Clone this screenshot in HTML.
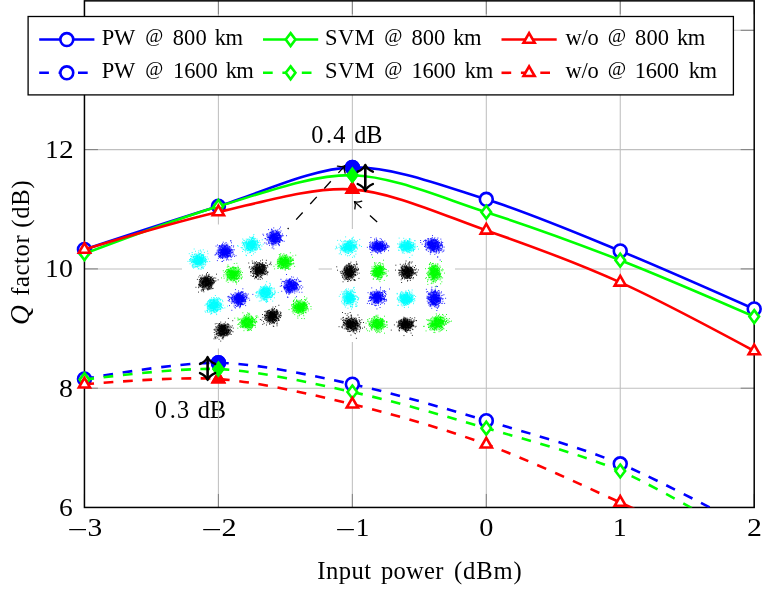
<!DOCTYPE html>
<html><head><meta charset="utf-8"><title>Q factor vs input power</title>
<style>
html,body{margin:0;padding:0;background:#fff;}
svg{display:block;will-change:transform;}
text{font-family:"Liberation Serif",serif;fill:#000;}
</style></head><body>
<svg width="772" height="611" viewBox="0 0 772 611">
<rect x="0" y="0" width="772" height="611" fill="#fff"/>
<defs>
<clipPath id="ax"><rect x="84.45" y="0.85" width="669.75" height="506.59999999999997"/></clipPath>
</defs>

<text x="311.20" y="142.70" font-size="24.3">0</text>
<text x="326.06" y="142.70" font-size="24.3">.</text>
<text x="333.33" y="142.70" font-size="24.3">4</text>
<text x="354.13" y="142.70" font-size="24.3" letter-spacing="-0.017">dB</text>
<text x="154.80" y="418.30" font-size="24.3">0</text>
<text x="169.66" y="418.30" font-size="24.3">.</text>
<text x="176.88" y="418.30" font-size="24.3">3</text>
<text x="197.73" y="418.30" font-size="24.3" letter-spacing="-0.017">dB</text>
<g stroke="#bfbfbf" stroke-width="1.05" fill="none">
<line x1="218.40" y1="0.85" x2="218.40" y2="507.45"/>
<line x1="352.35" y1="0.85" x2="352.35" y2="507.45"/>
<line x1="486.30" y1="0.85" x2="486.30" y2="507.45"/>
<line x1="620.25" y1="0.85" x2="620.25" y2="507.45"/>
<line x1="84.45" y1="388.20" x2="754.2" y2="388.20"/>
<line x1="84.45" y1="268.90" x2="754.2" y2="268.90"/>
<line x1="84.45" y1="149.60" x2="754.2" y2="149.60"/>
<line x1="84.45" y1="30.30" x2="754.2" y2="30.30"/>
</g>
<g stroke="#7f7f7f" stroke-width="1.0" fill="none">
<line x1="84.45" y1="507.45" x2="84.45" y2="493.95"/>
<line x1="84.45" y1="0.85" x2="84.45" y2="14.35"/>
<line x1="218.40" y1="507.45" x2="218.40" y2="493.95"/>
<line x1="218.40" y1="0.85" x2="218.40" y2="14.35"/>
<line x1="352.35" y1="507.45" x2="352.35" y2="493.95"/>
<line x1="352.35" y1="0.85" x2="352.35" y2="14.35"/>
<line x1="486.30" y1="507.45" x2="486.30" y2="493.95"/>
<line x1="486.30" y1="0.85" x2="486.30" y2="14.35"/>
<line x1="620.25" y1="507.45" x2="620.25" y2="493.95"/>
<line x1="620.25" y1="0.85" x2="620.25" y2="14.35"/>
<line x1="754.20" y1="507.45" x2="754.20" y2="493.95"/>
<line x1="754.20" y1="0.85" x2="754.20" y2="14.35"/>
<line x1="84.45" y1="507.50" x2="97.95" y2="507.50"/>
<line x1="754.2" y1="507.50" x2="740.7" y2="507.50"/>
<line x1="84.45" y1="388.20" x2="97.95" y2="388.20"/>
<line x1="754.2" y1="388.20" x2="740.7" y2="388.20"/>
<line x1="84.45" y1="268.90" x2="97.95" y2="268.90"/>
<line x1="754.2" y1="268.90" x2="740.7" y2="268.90"/>
<line x1="84.45" y1="149.60" x2="97.95" y2="149.60"/>
<line x1="754.2" y1="149.60" x2="740.7" y2="149.60"/>
<line x1="84.45" y1="30.30" x2="97.95" y2="30.30"/>
<line x1="754.2" y1="30.30" x2="740.7" y2="30.30"/>
</g>
<rect x="84.45" y="0.85" width="669.75" height="506.59999999999997" fill="none" stroke="#000" stroke-width="1.5"/>
<defs>
<radialGradient id="rgb"><stop offset="0" stop-color="#0000ff" stop-opacity=".8"/><stop offset=".45" stop-color="#0000ff" stop-opacity=".7"/><stop offset=".8" stop-color="#0000ff" stop-opacity=".25"/><stop offset="1" stop-color="#0000ff" stop-opacity="0"/></radialGradient>
<radialGradient id="rgg"><stop offset="0" stop-color="#00ff00" stop-opacity=".8"/><stop offset=".45" stop-color="#00ff00" stop-opacity=".7"/><stop offset=".8" stop-color="#00ff00" stop-opacity=".25"/><stop offset="1" stop-color="#00ff00" stop-opacity="0"/></radialGradient>
<radialGradient id="rgc"><stop offset="0" stop-color="#00ffff" stop-opacity=".8"/><stop offset=".45" stop-color="#00ffff" stop-opacity=".7"/><stop offset=".8" stop-color="#00ffff" stop-opacity=".25"/><stop offset="1" stop-color="#00ffff" stop-opacity="0"/></radialGradient>
<radialGradient id="rgk"><stop offset="0" stop-color="#000" stop-opacity=".8"/><stop offset=".45" stop-color="#000" stop-opacity=".7"/><stop offset=".8" stop-color="#000" stop-opacity=".25"/><stop offset="1" stop-color="#000" stop-opacity="0"/></radialGradient>
</defs>
<rect x="182" y="224.5" width="136.6" height="124" fill="#fff"/>
<ellipse cx="198.2" cy="260.3" rx="8.5" ry="8.0" fill="url(#rgc)" transform="rotate(-15 198.2 260.3)"/>
<path d="M197.7 262.3h.9M197.1 259.5h.9M194.5 260.5h.9M202.8 260.6h.9M202.3 260.1h.9M199.9 260.5h.9M192.7 264.9h.9M200.6 261.5h.9M190.2 256.1h.9M194.4 259.6h.9M199.3 259.8h.9M199.6 257.6h.9M199.7 261.3h.9M197.3 266.8h.9M201.4 263.8h.9M195.2 258.4h.9M196.8 260.3h.9M200.8 260.5h.9M195.6 257.5h.9M197.3 265.0h.9M195.4 261.9h.9M198.5 254.8h.9M199.6 264.7h.9M190.3 261.2h.9M197.1 257.6h.9M200.0 259.6h.9M193.4 264.6h.9M201.6 262.8h.9M204.0 260.1h.9M197.5 255.8h.9M200.0 257.6h.9M195.3 256.5h.9M194.1 259.5h.9M201.2 252.1h.9M192.9 262.6h.9M204.2 260.8h.9M188.8 253.7h.9M198.9 257.5h.9M194.9 264.7h.9M202.5 259.7h.9M199.5 261.5h.9M204.8 260.8h.9M200.6 261.6h.9M193.5 266.2h.9M202.3 261.1h.9M190.2 260.2h.9M199.7 253.3h.9M198.4 263.9h.9M194.7 267.1h.9M200.1 259.2h.9M200.0 262.2h.9M199.7 264.1h.9M195.3 259.6h.9M202.1 259.3h.9M195.7 264.4h.9M203.3 257.3h.9M192.9 261.2h.9M197.4 259.4h.9M202.6 255.4h.9M201.8 254.7h.9M195.8 263.2h.9M203.2 262.1h.9M199.6 260.4h.9M199.3 262.1h.9M197.8 261.4h.9M200.4 259.7h.9M201.6 261.4h.9M206.1 259.4h.9M196.3 259.5h.9M199.0 263.4h.9M197.3 261.9h.9M202.8 249.8h.9M194.2 262.3h.9M199.9 260.7h.9M197.2 263.0h.9M198.8 258.3h.9M207.7 259.0h.9M196.0 260.5h.9M197.3 260.3h.9M187.5 261.4h.9M200.9 255.3h.9M198.8 263.6h.9M202.8 264.5h.9M191.5 260.8h.9M197.5 262.8h.9M199.9 250.1h.9M201.0 254.3h.9M199.4 254.6h.9M199.9 264.2h.9M197.8 261.1h.9M201.3 260.0h.9M199.3 265.6h.9M201.9 258.2h.9M207.5 253.7h.9M201.4 258.5h.9M199.3 262.5h.9M199.6 262.2h.9M191.1 256.7h.9M199.6 256.4h.9M193.0 256.4h.9M203.6 261.5h.9M202.9 255.6h.9M197.2 256.4h.9M202.5 264.9h.9M196.3 266.5h.9M201.8 258.7h.9M192.0 267.0h.9M197.3 258.4h.9M200.1 261.3h.9M202.9 255.3h.9M203.8 264.2h.9M203.5 258.2h.9M196.3 264.5h.9M198.7 260.6h.9M203.3 258.0h.9M189.2 261.3h.9M192.0 264.9h.9M198.8 257.9h.9M198.9 263.1h.9M199.7 264.7h.9M198.9 263.9h.9M205.3 264.2h.9M196.5 264.0h.9M190.2 258.5h.9M191.8 265.9h.9M193.5 261.5h.9M197.5 260.4h.9M196.2 261.7h.9M205.0 258.6h.9M201.1 263.1h.9M196.3 256.2h.9M197.1 264.5h.9M191.5 259.9h.9M202.7 262.0h.9M199.0 263.0h.9M197.8 256.1h.9M191.7 259.7h.9M201.2 257.5h.9M194.1 258.6h.9M192.3 261.4h.9M194.1 262.7h.9M189.6 263.8h.9M194.0 254.4h.9M200.7 258.6h.9M189.0 259.6h.9M198.9 258.5h.9M201.8 262.0h.9M201.0 260.7h.9M203.8 261.2h.9M198.0 252.8h.9M202.8 263.8h.9M196.7 259.0h.9M203.9 252.4h.9M202.2 268.0h.9M195.3 263.6h.9M205.2 258.0h.9M201.1 262.8h.9M194.7 260.9h.9M200.1 262.8h.9M197.9 259.7h.9M194.0 260.1h.9M201.7 259.7h.9M194.2 258.3h.9M209.3 261.5h.9M198.3 250.9h.9M201.0 261.3h.9M204.9 260.0h.9M198.4 262.1h.9M191.8 265.8h.9M198.8 257.6h.9M204.8 265.1h.9M192.3 259.5h.9M199.5 260.6h.9M195.8 257.4h.9M207.1 261.7h.9M192.5 257.0h.9M205.5 261.9h.9M205.8 261.2h.9M195.2 262.1h.9M189.4 260.0h.9M198.5 262.1h.9M195.3 260.6h.9M200.3 261.1h.9M200.8 260.4h.9M197.7 263.3h.9M197.6 257.5h.9M195.8 260.9h.9M197.9 260.9h.9M198.4 260.9h.9M196.6 256.2h.9M200.7 263.4h.9M199.7 259.2h.9M199.0 256.6h.9M191.1 262.4h.9M195.4 263.7h.9M191.7 252.5h.9M195.7 266.7h.9M195.5 256.1h.9M195.8 262.8h.9M200.2 260.4h.9M204.4 261.2h.9M198.7 262.3h.9M205.3 261.9h.9M201.1 255.6h.9M198.3 262.9h.9M198.1 264.2h.9M201.3 262.8h.9M199.7 269.1h.9M202.7 258.3h.9M200.9 269.0h.9M197.7 263.6h.9M201.9 259.3h.9M194.0 262.1h.9M200.6 263.8h.9M201.2 259.6h.9M201.9 261.3h.9M199.0 260.3h.9M197.9 262.9h.9M193.7 259.2h.9M196.9 255.3h.9M194.7 253.9h.9M196.1 262.9h.9M200.3 259.5h.9M196.0 255.7h.9M205.6 260.2h.9M201.5 256.2h.9M195.9 254.3h.9M202.0 262.7h.9M191.0 262.0h.9M199.0 253.7h.9M190.4 258.5h.9M194.6 256.2h.9M198.5 261.1h.9M201.2 262.0h.9M204.9 262.7h.9M192.8 259.9h.9M193.2 257.7h.9M197.9 260.4h.9M198.6 254.4h.9M193.5 261.5h.9M197.2 259.4h.9M197.3 257.8h.9M201.2 260.8h.9M197.3 258.1h.9M195.1 251.3h.9M194.5 261.4h.9M192.7 262.5h.9M197.5 255.5h.9M197.0 259.5h.9M200.5 261.9h.9M197.3 257.5h.9M197.6 260.2h.9M201.2 260.6h.9M194.3 256.5h.9M196.1 258.2h.9M193.9 261.0h.9M196.4 261.2h.9M199.8 258.4h.9M206.7 256.9h.9M202.5 259.6h.9M200.3 251.1h.9M195.6 261.9h.9M202.6 267.6h.9M200.6 264.3h.9M201.9 262.7h.9M200.0 259.3h.9M199.1 256.1h.9M201.7 255.7h.9M201.1 267.2h.9M197.4 260.6h.9M202.6 259.2h.9M195.4 262.0h.9M201.0 262.1h.9M196.9 267.0h.9M204.5 258.7h.9M198.8 258.6h.9M202.9 256.5h.9M200.3 258.0h.9M196.2 263.4h.9M203.2 258.9h.9M196.4 263.7h.9M198.3 261.4h.9M205.0 262.6h.9M198.3 268.5h.9M198.9 263.0h.9M195.7 260.8h.9M193.2 268.1h.9M202.2 254.8h.9M191.1 256.3h.9M202.2 257.6h.9M197.7 259.3h.9M196.8 256.7h.9M197.0 255.4h.9M198.2 261.4h.9M199.8 259.0h.9M194.9 261.8h.9M197.8 266.1h.9M201.0 259.1h.9M195.8 258.4h.9M194.3 260.1h.9M199.8 261.7h.9M202.2 266.8h.9M195.6 261.1h.9M207.0 251.2h.9M196.4 261.4h.9M199.2 261.5h.9M197.6 261.8h.9M199.1 262.9h.9M190.3 259.2h.9M197.3 256.8h.9M194.8 263.5h.9M196.3 263.1h.9M201.3 260.6h.9M200.0 259.4h.9M192.9 261.6h.9M199.4 258.1h.9M198.5 262.9h.9M195.5 263.4h.9M204.7 256.5h.9M198.6 259.6h.9M204.3 259.8h.9M201.0 257.1h.9M198.1 260.3h.9M192.8 267.0h.9M200.0 253.5h.9M200.9 259.1h.9M200.2 261.1h.9M192.4 261.1h.9M203.3 256.8h.9M193.1 256.7h.9M193.9 262.7h.9M205.0 260.0h.9M201.1 267.6h.9M195.6 258.5h.9M200.7 261.6h.9M193.3 257.4h.9M199.5 260.8h.9M193.1 260.9h.9M196.6 262.4h.9M197.7 260.1h.9M197.8 264.2h.9M203.1 257.7h.9M200.7 256.9h.9M199.2 262.8h.9M203.6 257.5h.9M198.1 261.0h.9M192.6 261.9h.9M196.0 262.2h.9M192.2 254.8h.9M198.6 261.1h.9M196.9 263.9h.9M196.6 258.5h.9M198.6 254.5h.9M195.6 260.9h.9M201.3 258.9h.9M198.8 257.8h.9M200.8 265.6h.9M197.8 269.0h.9M195.8 261.0h.9M199.8 263.6h.9M191.6 254.4h.9M201.2 262.4h.9M202.9 268.6h.9M199.2 261.0h.9M202.0 260.6h.9M203.3 254.4h.9M193.7 249.0h.9M200.9 258.2h.9M203.6 266.6h.9M197.9 259.4h.9M195.6 258.0h.9M196.4 263.1h.9M198.4 260.5h.9M198.4 263.6h.9M199.9 259.3h.9M200.6 259.1h.9M195.2 266.4h.9M199.1 256.6h.9M202.6 260.4h.9M193.8 267.3h.9" stroke="#00ffff" stroke-width=".9" fill="none"/>
<ellipse cx="224.5" cy="251.7" rx="8.5" ry="8.0" fill="url(#rgb)" transform="rotate(-15 224.5 251.7)"/>
<path d="M226.6 254.4h.9M225.1 251.0h.9M219.5 256.5h.9M224.4 250.7h.9M225.9 251.6h.9M226.7 249.8h.9M222.4 244.5h.9M223.5 254.4h.9M229.2 249.1h.9M225.5 257.2h.9M223.9 254.5h.9M230.9 250.1h.9M228.5 248.1h.9M225.2 251.2h.9M226.0 255.4h.9M232.9 247.0h.9M222.8 254.0h.9M221.0 254.4h.9M226.4 250.2h.9M225.1 245.9h.9M226.0 245.7h.9M221.4 250.5h.9M223.8 255.0h.9M224.4 250.3h.9M228.0 256.5h.9M224.9 252.9h.9M229.4 251.4h.9M221.9 261.4h.9M231.0 242.8h.9M224.7 253.2h.9M228.7 253.0h.9M222.5 248.4h.9M225.8 255.1h.9M219.5 249.3h.9M222.7 245.2h.9M223.1 250.5h.9M225.6 248.9h.9M220.8 251.3h.9M223.7 249.5h.9M225.2 254.2h.9M230.5 256.3h.9M221.2 251.1h.9M216.9 260.6h.9M221.7 252.3h.9M225.2 246.6h.9M226.2 251.1h.9M217.9 254.5h.9M227.3 244.2h.9M227.7 251.6h.9M226.7 252.7h.9M229.2 249.6h.9M227.4 249.4h.9M226.5 248.2h.9M225.7 257.7h.9M226.0 250.7h.9M219.5 250.2h.9M226.1 254.7h.9M226.6 253.0h.9M225.6 256.3h.9M222.5 250.2h.9M227.9 251.0h.9M222.9 250.0h.9M224.1 254.1h.9M224.7 247.3h.9M226.3 251.9h.9M221.4 255.3h.9M223.1 250.8h.9M228.7 255.4h.9M222.3 253.9h.9M223.3 260.4h.9M223.7 256.2h.9M222.8 255.1h.9M230.6 240.9h.9M223.3 253.8h.9M223.5 249.5h.9M232.7 249.8h.9M219.1 256.2h.9M219.1 257.3h.9M222.5 252.8h.9M229.4 250.8h.9M217.7 247.4h.9M229.6 253.0h.9M222.2 255.4h.9M227.0 253.4h.9M215.7 253.0h.9M228.6 253.3h.9M225.6 242.5h.9M225.6 253.2h.9M233.2 245.9h.9M223.3 252.2h.9M227.4 249.3h.9M228.1 247.9h.9M225.0 249.6h.9M224.5 249.2h.9M219.5 257.0h.9M225.1 249.5h.9M226.2 254.8h.9M220.7 252.3h.9M227.0 252.9h.9M221.3 244.9h.9M229.5 251.6h.9M224.3 250.7h.9M225.1 250.0h.9M220.0 250.2h.9M221.7 250.2h.9M220.7 255.0h.9M220.2 255.3h.9M221.0 253.9h.9M229.9 251.0h.9M221.8 252.6h.9M223.5 245.7h.9M222.4 252.9h.9M222.8 252.4h.9M228.0 253.6h.9M228.4 252.8h.9M223.4 251.9h.9M223.2 250.9h.9M222.3 246.1h.9M223.2 252.0h.9M220.8 252.6h.9M226.3 250.6h.9M230.0 240.8h.9M222.1 245.7h.9M230.6 259.7h.9M215.2 254.7h.9M226.2 250.2h.9M224.5 243.6h.9M228.0 252.1h.9M224.1 249.7h.9M226.5 249.4h.9M224.9 249.8h.9M216.0 253.9h.9M225.9 254.0h.9M221.2 252.5h.9M227.0 251.6h.9M231.0 257.2h.9M219.3 246.1h.9M229.1 256.0h.9M228.7 253.5h.9M221.5 249.9h.9M227.0 247.7h.9M216.8 250.2h.9M235.6 255.7h.9M221.3 249.9h.9M224.7 248.9h.9M229.4 250.1h.9M221.6 257.2h.9M222.5 253.0h.9M224.2 250.6h.9M225.1 249.0h.9M215.6 246.1h.9M219.0 250.4h.9M224.5 251.9h.9M226.7 251.5h.9M220.9 250.1h.9M216.4 253.3h.9M226.8 253.0h.9M223.9 251.2h.9M228.0 250.8h.9M227.8 252.9h.9M226.5 255.9h.9M222.0 251.1h.9M220.7 249.8h.9M232.0 256.1h.9M225.1 253.6h.9M229.7 253.2h.9M227.9 246.2h.9M222.5 253.9h.9M230.0 250.6h.9M220.9 251.4h.9M221.2 249.5h.9M229.6 248.1h.9M226.5 259.0h.9M229.3 251.6h.9M222.6 253.7h.9M231.2 252.2h.9M229.3 250.8h.9M226.3 250.5h.9M227.3 255.7h.9M219.1 252.9h.9M224.9 249.5h.9M224.1 254.7h.9M232.6 251.8h.9M224.3 246.1h.9M231.8 250.0h.9M223.4 248.0h.9M223.3 248.1h.9M225.2 253.2h.9M224.9 252.6h.9M222.6 257.4h.9M220.4 246.2h.9M223.1 249.3h.9M220.4 251.5h.9M224.5 247.4h.9M225.3 256.7h.9M226.9 250.5h.9M224.9 251.2h.9M225.0 254.2h.9M222.0 243.7h.9M223.6 248.7h.9M226.4 249.0h.9M227.0 258.9h.9M219.5 249.0h.9M217.0 245.0h.9M217.8 254.8h.9M220.4 246.0h.9M219.5 255.3h.9M221.2 251.2h.9M227.0 256.0h.9M232.7 253.2h.9M225.2 252.2h.9M232.6 254.7h.9M223.7 253.6h.9M225.6 251.6h.9M221.4 247.7h.9M221.1 247.0h.9M229.6 252.3h.9M221.2 257.6h.9M226.1 244.3h.9M232.2 252.6h.9M231.2 245.5h.9M226.9 252.6h.9M225.4 252.1h.9M227.1 245.6h.9M218.6 248.2h.9M221.9 250.2h.9M226.1 252.2h.9M224.0 249.4h.9M223.7 255.4h.9M227.5 251.3h.9M224.7 257.3h.9M222.8 254.5h.9M228.6 249.6h.9M226.6 247.1h.9M228.5 251.4h.9M219.1 255.6h.9M222.3 256.9h.9M221.8 251.8h.9M225.3 250.3h.9M225.0 249.6h.9M227.0 251.0h.9M222.8 242.2h.9M228.9 250.6h.9M217.9 253.8h.9M227.2 254.8h.9M221.8 258.0h.9M226.1 260.0h.9M224.6 254.1h.9M222.1 248.3h.9M229.5 253.7h.9M231.1 253.0h.9M220.8 246.7h.9M221.4 250.1h.9M222.0 254.5h.9M225.5 250.5h.9M225.0 251.0h.9M226.0 254.0h.9M227.5 248.4h.9M220.1 258.0h.9M225.9 255.3h.9M218.0 252.2h.9M223.3 246.8h.9M223.2 254.7h.9M230.0 256.0h.9M220.0 247.8h.9M227.3 254.4h.9M224.0 247.1h.9M228.2 253.6h.9M226.1 249.5h.9M226.4 254.1h.9M220.7 246.0h.9M226.2 253.0h.9M225.4 254.7h.9M222.2 252.0h.9M223.9 253.9h.9M230.3 249.2h.9M233.6 254.8h.9M228.0 252.9h.9M231.0 249.3h.9M223.1 248.2h.9M227.5 255.8h.9M226.9 252.6h.9M223.9 252.5h.9M220.1 256.7h.9M222.0 248.4h.9M220.9 249.7h.9M228.7 254.4h.9M220.2 256.2h.9M227.3 248.8h.9M218.2 250.7h.9M222.4 253.5h.9M221.3 245.2h.9M224.0 246.3h.9M226.8 246.7h.9M221.1 249.5h.9M223.6 256.6h.9M228.3 252.9h.9M224.3 246.1h.9M222.0 250.4h.9M221.3 254.4h.9M221.1 250.0h.9M218.7 245.8h.9M227.9 255.6h.9M224.3 248.2h.9M214.5 255.0h.9M229.4 251.5h.9M229.3 255.8h.9M228.3 249.1h.9M229.2 253.3h.9M218.3 251.9h.9M219.0 252.8h.9M225.7 247.5h.9M217.9 258.2h.9M227.3 256.3h.9M220.5 256.6h.9M234.1 256.4h.9M224.0 252.8h.9M224.8 255.2h.9M228.5 250.9h.9M220.1 255.6h.9M223.3 254.3h.9M227.0 256.9h.9M228.4 249.0h.9M227.4 257.3h.9M222.9 253.7h.9M230.1 254.7h.9M225.3 246.7h.9M220.0 253.8h.9M228.3 259.9h.9M222.3 256.4h.9M225.9 245.3h.9M221.6 253.1h.9M222.5 251.7h.9M225.5 248.5h.9M225.7 249.1h.9M222.9 254.1h.9M222.6 253.2h.9M230.5 250.2h.9M224.6 254.3h.9M224.1 255.7h.9M220.2 255.1h.9M221.8 249.5h.9M230.4 247.0h.9M231.7 252.2h.9M229.1 246.9h.9M230.3 255.4h.9M223.9 251.4h.9M233.9 249.8h.9M222.3 250.0h.9M226.5 252.4h.9M226.7 257.3h.9M223.7 253.6h.9M229.1 246.8h.9M230.1 256.8h.9M218.4 249.4h.9M218.9 246.5h.9M224.5 245.0h.9M227.7 256.1h.9M218.1 252.3h.9M218.0 256.3h.9M221.5 251.5h.9M225.2 253.5h.9M223.2 252.1h.9M222.5 252.6h.9M220.1 253.1h.9M216.8 252.0h.9M231.8 250.0h.9M220.0 253.8h.9M219.3 247.1h.9M222.4 254.9h.9M225.9 251.0h.9M220.0 249.0h.9M229.8 251.2h.9M219.0 245.5h.9M221.6 261.5h.9M220.1 252.6h.9M225.1 251.0h.9M222.2 247.3h.9M222.1 258.5h.9M222.4 255.3h.9" stroke="#0000ff" stroke-width=".9" fill="none"/>
<ellipse cx="251.0" cy="245.1" rx="8.5" ry="8.0" fill="url(#rgc)" transform="rotate(-15 251.0 245.1)"/>
<path d="M244.4 245.9h.9M252.9 248.3h.9M247.3 248.2h.9M251.8 242.2h.9M252.0 241.6h.9M248.0 245.8h.9M240.7 247.5h.9M245.9 241.2h.9M250.1 248.1h.9M250.6 249.8h.9M245.4 241.8h.9M257.2 244.9h.9M253.8 241.4h.9M254.3 245.2h.9M253.5 244.5h.9M255.0 241.7h.9M246.0 241.1h.9M254.7 241.4h.9M246.2 243.0h.9M248.2 241.3h.9M249.3 243.3h.9M248.1 242.4h.9M250.7 243.5h.9M251.7 245.8h.9M250.3 237.4h.9M248.3 242.9h.9M252.5 239.0h.9M248.0 244.8h.9M250.6 248.8h.9M250.2 248.8h.9M243.8 240.5h.9M256.0 245.3h.9M252.9 245.0h.9M251.7 240.5h.9M254.1 242.3h.9M254.8 244.4h.9M242.4 242.7h.9M255.1 243.5h.9M249.7 246.3h.9M248.9 243.7h.9M251.5 245.5h.9M256.8 243.7h.9M259.7 249.3h.9M258.4 247.0h.9M251.6 245.4h.9M249.8 242.8h.9M250.2 243.0h.9M257.7 245.3h.9M247.6 239.1h.9M250.4 243.7h.9M245.9 242.4h.9M243.0 249.3h.9M253.1 253.9h.9M250.7 244.6h.9M256.6 244.1h.9M251.3 243.7h.9M250.1 250.8h.9M256.3 249.9h.9M249.7 245.6h.9M248.6 249.3h.9M246.3 248.4h.9M256.4 248.8h.9M248.4 249.7h.9M247.6 243.3h.9M247.1 250.3h.9M256.7 241.4h.9M247.8 244.7h.9M261.4 246.0h.9M247.3 239.6h.9M249.5 249.8h.9M257.8 242.3h.9M247.9 244.1h.9M244.7 250.1h.9M247.9 249.8h.9M243.4 242.5h.9M251.4 242.2h.9M254.0 244.3h.9M247.1 248.4h.9M252.4 237.8h.9M258.3 244.9h.9M252.2 238.0h.9M248.0 244.6h.9M253.7 239.1h.9M245.8 239.1h.9M250.4 246.5h.9M244.1 244.8h.9M254.4 249.9h.9M253.2 243.4h.9M245.7 243.1h.9M248.6 246.3h.9M252.3 250.8h.9M251.1 241.2h.9M257.7 246.7h.9M250.7 242.6h.9M243.0 243.5h.9M253.7 241.5h.9M246.2 247.1h.9M252.5 246.9h.9M254.7 249.2h.9M248.7 249.3h.9M247.9 248.4h.9M251.9 245.7h.9M254.6 244.1h.9M256.0 246.9h.9M251.0 243.0h.9M247.7 244.1h.9M250.2 245.2h.9M262.8 244.2h.9M253.1 241.4h.9M248.0 244.7h.9M250.8 241.4h.9M256.6 241.6h.9M252.9 236.1h.9M251.2 246.0h.9M252.3 246.9h.9M252.2 245.4h.9M243.2 244.6h.9M242.7 249.6h.9M252.0 244.1h.9M247.4 244.0h.9M259.5 249.1h.9M251.9 249.5h.9M243.3 240.2h.9M248.4 242.6h.9M249.1 246.3h.9M261.8 239.8h.9M251.4 246.0h.9M251.7 248.3h.9M256.6 239.1h.9M251.4 244.0h.9M251.0 239.6h.9M242.3 239.0h.9M253.2 245.2h.9M249.1 237.0h.9M248.9 242.9h.9M244.8 243.4h.9M254.1 246.2h.9M251.4 246.9h.9M248.8 245.9h.9M251.7 246.9h.9M250.6 244.7h.9M249.9 243.1h.9M259.9 244.6h.9M254.7 252.4h.9M254.9 238.4h.9M254.4 247.2h.9M259.3 247.6h.9M252.8 240.3h.9M248.0 246.9h.9M252.0 241.1h.9M249.2 244.1h.9M251.5 246.2h.9M248.8 241.2h.9M257.1 249.2h.9M251.5 248.7h.9M253.3 246.9h.9M252.1 242.0h.9M254.1 247.9h.9M249.4 252.7h.9M260.5 249.2h.9M259.2 245.6h.9M249.2 243.4h.9M248.0 246.3h.9M251.5 247.4h.9M245.5 255.0h.9M259.6 242.7h.9M254.0 246.0h.9M251.8 244.1h.9M249.8 242.4h.9M251.6 244.8h.9M251.4 241.9h.9M251.2 245.2h.9M252.3 240.9h.9M253.5 248.0h.9M252.9 243.3h.9M248.9 244.8h.9M255.2 249.6h.9M249.8 243.1h.9M252.6 245.4h.9M246.9 243.5h.9M251.2 247.5h.9M245.6 242.9h.9M251.8 240.5h.9M251.7 246.2h.9M249.7 241.8h.9M250.5 244.0h.9M251.5 241.9h.9M253.6 238.3h.9M250.3 245.3h.9M254.1 242.1h.9M252.5 242.6h.9M255.4 250.2h.9M249.9 247.0h.9M248.4 249.3h.9M255.6 244.0h.9M247.1 247.6h.9M256.3 247.6h.9M252.4 238.1h.9M249.7 250.6h.9M247.4 250.2h.9M258.8 245.8h.9M254.9 242.8h.9M246.3 246.0h.9M250.2 245.1h.9M253.5 243.9h.9M252.1 246.3h.9M252.6 251.3h.9M252.7 244.9h.9M249.7 243.2h.9M256.2 244.3h.9M246.4 244.3h.9M250.1 243.7h.9M254.0 240.1h.9M253.0 245.1h.9M246.6 246.4h.9M251.1 246.9h.9M249.6 246.6h.9M243.7 243.1h.9M254.9 247.8h.9M250.4 243.1h.9M253.2 236.9h.9M248.6 248.2h.9M252.5 241.0h.9M245.2 251.9h.9M250.8 241.9h.9M252.0 248.1h.9M242.2 251.5h.9M251.9 237.3h.9M252.3 238.3h.9M255.7 245.3h.9M258.9 240.8h.9M252.0 248.6h.9M248.0 243.4h.9M249.5 245.2h.9M247.4 247.8h.9M253.1 244.8h.9M257.1 242.3h.9M255.4 241.9h.9M252.1 237.8h.9M251.6 244.3h.9M248.6 243.5h.9M249.0 243.0h.9M242.2 245.3h.9M248.5 243.9h.9M246.9 245.7h.9M253.7 243.5h.9M250.4 250.2h.9M255.5 247.2h.9M255.1 242.8h.9M251.5 249.0h.9M248.8 245.3h.9M252.8 246.0h.9M250.8 248.7h.9M251.0 247.7h.9M255.6 246.2h.9M252.7 240.4h.9M245.5 244.3h.9M254.1 249.7h.9M246.7 247.4h.9M247.1 243.5h.9M250.6 247.7h.9M252.9 248.9h.9M248.1 249.1h.9M254.6 244.4h.9M252.3 242.7h.9M246.5 244.8h.9M251.2 255.5h.9M250.7 251.2h.9M252.0 246.0h.9M253.1 241.7h.9M254.8 245.4h.9M245.8 248.7h.9M253.5 246.1h.9M256.6 242.1h.9M253.6 247.1h.9M248.7 250.1h.9M244.4 242.2h.9M252.0 240.9h.9M249.1 239.7h.9M250.2 241.2h.9M250.9 239.6h.9M252.4 243.7h.9M251.2 244.8h.9M250.3 240.5h.9M241.4 247.8h.9M247.1 244.5h.9M250.8 238.0h.9M247.6 243.8h.9M247.3 247.3h.9M249.7 242.5h.9M248.0 248.8h.9M249.0 247.7h.9M251.0 238.2h.9M246.9 246.2h.9M253.0 247.4h.9M255.0 247.8h.9M249.4 244.8h.9M253.5 242.9h.9M253.5 238.7h.9M253.3 243.9h.9M244.5 250.4h.9M252.2 244.9h.9M246.5 244.6h.9M255.9 240.8h.9M237.1 245.7h.9M246.4 245.9h.9M248.7 242.4h.9M248.8 249.5h.9M247.3 253.2h.9M248.0 242.0h.9M254.5 246.2h.9M247.7 248.7h.9M243.2 243.8h.9M255.0 243.1h.9M246.6 248.2h.9M254.4 244.1h.9M243.9 245.8h.9M253.3 247.3h.9M257.8 242.4h.9M249.1 245.5h.9M254.7 240.7h.9M253.4 234.5h.9M253.4 242.0h.9M253.4 247.0h.9M246.5 246.0h.9M252.4 246.8h.9M246.6 242.7h.9M246.1 255.6h.9M250.1 244.5h.9M246.2 249.8h.9M250.3 250.5h.9M254.2 244.3h.9M252.7 240.6h.9M249.3 243.5h.9M246.2 246.4h.9M251.8 250.1h.9M237.8 246.2h.9M247.1 244.5h.9M253.0 246.0h.9M250.7 243.5h.9M253.2 245.8h.9M243.8 246.1h.9M244.8 242.5h.9M251.6 245.2h.9M250.6 242.0h.9M249.4 242.2h.9M253.1 247.0h.9M258.8 247.6h.9M247.6 244.4h.9M247.7 247.1h.9M259.1 245.5h.9M241.6 243.1h.9M246.6 248.1h.9M251.3 246.1h.9M257.0 240.5h.9M249.6 252.6h.9M251.6 242.1h.9M242.0 242.0h.9M241.9 247.8h.9M252.1 248.4h.9M249.8 242.9h.9M249.9 252.3h.9M244.5 247.5h.9M251.7 247.2h.9M249.9 247.2h.9M253.9 243.8h.9M249.1 244.9h.9M247.2 245.4h.9M250.1 246.1h.9M257.2 248.2h.9M249.9 247.6h.9M252.8 247.4h.9M251.3 246.0h.9M248.5 242.9h.9M255.5 248.6h.9M253.9 245.9h.9M251.6 243.3h.9M244.9 249.1h.9M251.2 243.0h.9M248.5 250.4h.9" stroke="#00ffff" stroke-width=".9" fill="none"/>
<ellipse cx="274.3" cy="237.5" rx="8.5" ry="8.0" fill="url(#rgb)" transform="rotate(-15 274.3 237.5)"/>
<path d="M269.1 245.3h.9M278.9 244.9h.9M271.6 238.2h.9M272.5 238.5h.9M272.8 235.2h.9M277.6 233.8h.9M272.9 239.9h.9M271.9 236.6h.9M275.3 235.9h.9M269.5 238.4h.9M275.0 243.5h.9M271.0 241.9h.9M271.0 237.1h.9M273.3 238.7h.9M279.1 242.5h.9M273.1 242.6h.9M278.8 239.2h.9M272.3 241.3h.9M274.2 238.8h.9M273.9 240.0h.9M279.5 240.2h.9M274.4 241.1h.9M278.9 232.9h.9M278.6 231.5h.9M276.9 239.0h.9M280.1 236.9h.9M271.8 235.3h.9M270.3 241.4h.9M272.8 235.3h.9M275.6 234.4h.9M272.2 236.4h.9M281.9 240.8h.9M272.3 232.3h.9M275.4 237.5h.9M276.1 239.1h.9M273.9 241.0h.9M277.6 237.4h.9M272.3 236.3h.9M275.9 233.1h.9M273.0 235.1h.9M269.6 240.9h.9M274.2 237.6h.9M276.2 231.6h.9M274.3 238.5h.9M276.5 233.0h.9M277.2 237.5h.9M280.4 240.0h.9M278.3 244.2h.9M273.9 236.1h.9M272.2 234.7h.9M272.5 231.2h.9M274.4 239.0h.9M277.7 235.3h.9M278.9 233.9h.9M272.1 231.3h.9M270.7 235.6h.9M280.3 237.8h.9M270.7 240.4h.9M275.9 236.3h.9M274.1 236.5h.9M270.7 232.2h.9M275.1 241.8h.9M279.3 235.2h.9M271.4 237.5h.9M277.9 237.8h.9M272.5 239.3h.9M274.0 239.4h.9M271.5 233.0h.9M275.2 240.0h.9M270.1 238.2h.9M277.2 235.4h.9M273.7 244.8h.9M278.3 240.1h.9M272.3 243.8h.9M267.8 237.4h.9M278.2 241.2h.9M270.3 236.2h.9M273.3 231.0h.9M277.1 238.7h.9M273.1 239.7h.9M277.4 237.8h.9M277.5 242.0h.9M272.7 238.5h.9M273.3 241.4h.9M273.2 239.5h.9M274.9 237.6h.9M280.5 235.5h.9M280.2 238.8h.9M279.0 235.7h.9M278.3 239.1h.9M272.3 239.0h.9M273.8 237.5h.9M278.4 233.9h.9M266.7 233.5h.9M272.1 235.8h.9M274.8 239.3h.9M281.0 236.8h.9M275.3 234.7h.9M277.6 241.4h.9M277.5 229.8h.9M278.9 241.8h.9M276.0 231.8h.9M273.7 239.7h.9M275.1 234.5h.9M271.9 241.5h.9M270.7 243.5h.9M274.6 238.5h.9M268.9 236.9h.9M275.5 232.0h.9M280.6 230.9h.9M269.9 238.8h.9M276.7 239.4h.9M272.8 237.2h.9M272.9 235.9h.9M265.8 243.1h.9M275.3 237.8h.9M272.2 238.9h.9M274.2 237.3h.9M276.8 230.8h.9M274.3 233.8h.9M274.5 242.7h.9M270.3 238.2h.9M273.0 241.2h.9M269.3 233.0h.9M275.9 235.9h.9M274.1 241.3h.9M270.8 237.1h.9M275.2 238.7h.9M273.3 241.4h.9M282.1 234.0h.9M279.2 228.8h.9M279.1 235.0h.9M274.5 236.3h.9M270.9 234.0h.9M274.0 242.1h.9M278.1 235.3h.9M271.8 235.7h.9M271.5 244.5h.9M276.8 237.2h.9M271.6 234.7h.9M279.7 238.8h.9M271.7 241.6h.9M270.9 240.7h.9M270.5 237.1h.9M276.5 238.4h.9M277.2 233.8h.9M281.2 240.3h.9M274.7 239.0h.9M271.4 237.8h.9M269.6 239.1h.9M276.2 241.7h.9M278.4 239.2h.9M272.8 237.1h.9M273.3 238.6h.9M268.0 241.9h.9M268.2 237.3h.9M273.9 235.8h.9M280.2 235.6h.9M281.0 239.8h.9M272.9 239.3h.9M278.7 235.2h.9M274.1 235.6h.9M274.2 236.3h.9M275.5 240.7h.9M279.5 236.6h.9M275.8 240.1h.9M272.3 234.3h.9M277.5 233.4h.9M276.8 233.5h.9M280.0 232.3h.9M278.7 241.5h.9M272.1 243.3h.9M269.8 232.6h.9M277.5 239.1h.9M271.4 229.5h.9M273.8 236.6h.9M272.7 236.9h.9M267.3 237.4h.9M282.2 240.8h.9M272.4 235.5h.9M276.7 240.6h.9M275.9 233.0h.9M275.0 237.8h.9M280.5 240.0h.9M277.3 240.9h.9M274.2 242.9h.9M273.1 239.2h.9M276.8 233.6h.9M270.2 232.5h.9M274.8 237.2h.9M273.6 239.4h.9M266.6 239.5h.9M274.4 236.6h.9M278.7 242.4h.9M271.9 234.9h.9M272.2 238.4h.9M275.7 234.1h.9M277.0 233.2h.9M277.7 238.1h.9M277.9 244.1h.9M273.2 237.2h.9M276.8 239.8h.9M269.7 239.7h.9M272.2 240.3h.9M279.3 236.3h.9M274.1 238.2h.9M264.3 242.9h.9M276.5 237.5h.9M272.2 235.5h.9M274.7 241.6h.9M275.1 242.0h.9M264.6 238.5h.9M275.3 237.2h.9M267.7 237.0h.9M277.7 232.1h.9M269.8 234.9h.9M272.9 240.1h.9M274.7 230.3h.9M279.1 234.2h.9M273.6 243.5h.9M272.9 233.6h.9M271.4 235.8h.9M270.4 237.4h.9M277.8 237.8h.9M271.7 247.9h.9M270.8 238.8h.9M275.1 239.9h.9M273.5 239.3h.9M282.0 235.8h.9M270.7 239.6h.9M271.1 237.1h.9M275.3 238.4h.9M274.0 240.5h.9M272.5 233.5h.9M277.2 235.5h.9M278.1 234.2h.9M276.6 238.0h.9M263.2 235.3h.9M271.5 243.2h.9M268.3 242.3h.9M278.7 238.0h.9M276.3 235.2h.9M274.5 238.2h.9M276.4 239.4h.9M272.9 235.4h.9M272.6 239.4h.9M267.2 235.0h.9M272.3 236.1h.9M271.0 229.1h.9M272.8 237.0h.9M275.4 230.3h.9M273.6 239.3h.9M277.1 240.9h.9M277.2 233.1h.9M276.3 235.8h.9M272.7 243.3h.9M271.3 235.3h.9M272.1 235.1h.9M278.3 237.8h.9M279.7 237.5h.9M273.0 241.5h.9M271.5 236.6h.9M273.7 237.8h.9M278.1 234.4h.9M275.6 237.1h.9M268.8 235.2h.9M273.9 239.0h.9M275.9 238.7h.9M274.1 236.0h.9M275.0 233.8h.9M269.1 237.7h.9M268.7 237.2h.9M271.1 236.4h.9M273.4 234.9h.9M271.3 232.3h.9M274.1 234.5h.9M273.3 227.9h.9M271.6 239.1h.9M265.1 238.7h.9M274.7 237.7h.9M269.1 239.7h.9M274.0 234.2h.9M277.0 236.6h.9M274.0 236.0h.9M276.4 237.3h.9M278.8 237.9h.9M271.9 237.4h.9M277.3 235.4h.9M276.1 238.8h.9M271.6 230.1h.9M275.0 238.1h.9M274.1 234.9h.9M278.6 235.9h.9M271.4 235.8h.9M274.7 233.6h.9M272.4 245.0h.9M280.0 239.7h.9M279.8 238.1h.9M269.2 243.1h.9M279.2 237.9h.9M268.3 243.5h.9M278.8 234.6h.9M275.4 239.9h.9M275.0 241.2h.9M275.2 239.7h.9M273.3 232.6h.9M273.4 248.8h.9M276.5 241.5h.9M280.0 242.0h.9M275.8 235.0h.9M272.7 231.2h.9M274.4 240.7h.9M266.6 240.3h.9M278.5 241.0h.9M270.3 236.3h.9M266.5 236.0h.9M278.1 243.8h.9M271.3 243.1h.9M275.4 235.5h.9M280.1 227.1h.9M274.2 238.3h.9M283.7 241.3h.9M282.7 235.7h.9M279.1 241.0h.9M276.5 238.2h.9M273.3 236.3h.9M271.5 245.1h.9M270.8 231.1h.9M275.2 237.1h.9M276.5 243.3h.9M273.7 236.7h.9M271.5 238.2h.9M272.9 238.6h.9M286.1 235.7h.9M272.9 244.7h.9M278.2 239.3h.9M277.6 239.5h.9M278.0 241.5h.9M279.2 240.9h.9M272.5 238.0h.9M272.5 241.4h.9M276.9 235.2h.9M278.8 245.6h.9M277.9 232.6h.9M274.5 239.7h.9M274.5 238.8h.9M278.9 237.4h.9M270.9 240.9h.9M274.0 238.0h.9M271.0 233.5h.9M269.4 237.6h.9M268.0 229.6h.9M277.5 232.5h.9M272.1 240.0h.9M266.6 244.3h.9M272.1 240.4h.9M272.8 239.0h.9M274.7 237.4h.9M266.3 234.5h.9M275.4 242.2h.9M272.8 239.8h.9M275.3 238.9h.9M276.6 231.6h.9M275.2 236.6h.9M272.4 235.0h.9M270.5 234.9h.9M272.5 246.8h.9M280.5 235.9h.9M276.2 233.6h.9M262.5 234.2h.9M276.1 242.1h.9M273.3 234.2h.9M272.5 234.5h.9M269.0 238.1h.9M272.1 235.2h.9M270.2 235.3h.9M276.4 241.9h.9M275.5 245.1h.9M268.6 240.0h.9M269.9 238.1h.9" stroke="#0000ff" stroke-width=".9" fill="none"/>
<ellipse cx="206.3" cy="282.4" rx="8.5" ry="8.0" fill="url(#rgk)" transform="rotate(-15 206.3 282.4)"/>
<path d="M207.2 284.1h.9M210.0 279.5h.9M201.6 283.0h.9M206.8 279.8h.9M211.1 287.1h.9M201.4 285.0h.9M208.3 275.1h.9M206.9 281.5h.9M202.2 288.1h.9M206.7 280.6h.9M208.5 284.1h.9M209.6 283.6h.9M206.8 278.1h.9M204.9 283.2h.9M198.0 292.1h.9M204.0 279.3h.9M199.8 285.0h.9M205.9 280.4h.9M204.0 279.9h.9M203.5 282.8h.9M204.5 285.3h.9M205.9 283.0h.9M208.9 286.2h.9M208.7 282.6h.9M205.0 279.9h.9M205.6 285.0h.9M206.8 280.9h.9M200.1 278.7h.9M208.4 285.5h.9M206.5 277.5h.9M205.7 283.3h.9M203.2 284.4h.9M204.8 279.8h.9M202.5 286.3h.9M206.8 279.1h.9M203.4 286.3h.9M208.2 280.8h.9M211.9 279.9h.9M203.4 287.0h.9M205.9 283.7h.9M205.6 279.1h.9M201.8 282.9h.9M210.6 277.7h.9M211.5 281.8h.9M202.5 284.4h.9M207.6 278.9h.9M198.8 285.7h.9M202.6 284.9h.9M199.2 283.8h.9M202.0 278.3h.9M205.6 283.2h.9M203.2 279.1h.9M205.5 276.4h.9M208.7 283.5h.9M213.2 283.7h.9M207.8 282.9h.9M205.2 278.0h.9M212.1 282.7h.9M204.2 278.9h.9M212.2 282.7h.9M202.6 285.8h.9M213.2 280.5h.9M207.4 280.6h.9M204.9 286.5h.9M217.7 279.8h.9M206.5 285.1h.9M205.8 285.1h.9M208.4 278.3h.9M202.3 283.2h.9M209.6 282.5h.9M209.6 276.7h.9M207.6 279.9h.9M206.9 283.4h.9M202.6 282.6h.9M202.3 284.4h.9M202.8 281.6h.9M206.5 280.0h.9M209.9 279.2h.9M209.7 282.5h.9M202.3 282.7h.9M202.9 282.0h.9M206.9 288.6h.9M206.1 288.0h.9M206.8 277.7h.9M198.4 286.9h.9M199.7 286.7h.9M210.4 282.7h.9M205.3 281.8h.9M207.0 281.2h.9M204.0 281.7h.9M210.0 279.2h.9M206.7 278.3h.9M202.5 278.6h.9M206.2 284.8h.9M207.0 280.5h.9M208.2 280.7h.9M207.9 282.9h.9M206.1 273.8h.9M202.2 286.2h.9M207.9 289.8h.9M205.0 280.8h.9M212.2 282.8h.9M213.7 282.2h.9M206.2 285.0h.9M203.0 281.7h.9M204.1 282.2h.9M208.7 280.1h.9M207.0 280.5h.9M207.1 272.5h.9M205.7 283.2h.9M203.3 286.8h.9M208.2 286.4h.9M210.4 283.6h.9M204.8 279.0h.9M205.1 281.1h.9M206.8 280.6h.9M216.0 274.2h.9M210.2 279.7h.9M206.2 285.7h.9M205.2 278.4h.9M207.6 281.4h.9M199.0 285.1h.9M201.8 281.0h.9M208.3 282.9h.9M207.1 289.8h.9M207.3 280.0h.9M207.1 281.8h.9M196.9 279.4h.9M203.0 290.5h.9M205.4 281.7h.9M205.1 286.2h.9M207.9 287.9h.9M210.6 287.0h.9M206.2 283.7h.9M204.6 282.3h.9M199.5 282.2h.9M202.3 281.2h.9M210.9 282.1h.9M211.5 284.0h.9M210.5 284.8h.9M204.8 285.6h.9M204.7 281.0h.9M212.5 288.3h.9M204.3 289.0h.9M208.6 278.8h.9M207.6 283.3h.9M207.4 280.9h.9M201.7 283.8h.9M210.1 284.1h.9M209.7 285.3h.9M202.7 283.2h.9M208.4 285.3h.9M207.3 283.9h.9M208.6 289.1h.9M198.4 284.4h.9M215.5 280.8h.9M199.8 284.6h.9M200.5 281.6h.9M208.6 287.8h.9M208.6 284.1h.9M210.2 282.1h.9M203.1 282.9h.9M207.3 281.2h.9M203.6 281.9h.9M200.0 280.5h.9M205.7 281.3h.9M207.7 286.9h.9M207.4 282.0h.9M201.1 280.0h.9M206.9 279.2h.9M206.9 278.5h.9M206.7 282.0h.9M209.6 280.2h.9M205.2 283.6h.9M208.0 287.8h.9M204.9 280.9h.9M205.6 284.3h.9M207.8 284.4h.9M203.4 291.8h.9M212.9 280.5h.9M202.1 284.1h.9M205.9 274.7h.9M205.1 277.6h.9M209.2 286.5h.9M208.7 276.5h.9M212.1 284.0h.9M205.4 284.4h.9M211.5 279.8h.9M205.8 280.6h.9M208.6 274.3h.9M210.6 277.9h.9M208.2 276.2h.9M202.4 281.4h.9M207.9 276.3h.9M207.9 279.7h.9M210.5 280.2h.9M207.9 281.4h.9M212.5 279.5h.9M207.9 288.9h.9M207.2 284.6h.9M203.8 283.8h.9M198.2 284.9h.9M202.6 278.1h.9M202.2 287.5h.9M206.5 277.1h.9M212.3 278.4h.9M205.2 283.6h.9M200.8 278.2h.9M204.6 287.0h.9M208.4 276.3h.9M210.7 281.3h.9M208.2 282.1h.9M206.9 278.7h.9M202.4 281.0h.9M205.5 284.8h.9M203.3 288.8h.9M203.5 281.1h.9M209.2 283.1h.9M204.1 279.2h.9M201.3 278.2h.9M211.4 284.8h.9M213.5 282.2h.9M208.2 284.5h.9M209.5 280.6h.9M209.5 289.1h.9M198.9 279.5h.9M203.5 285.8h.9M210.3 280.1h.9M208.7 281.6h.9M206.9 280.3h.9M206.2 282.4h.9M212.3 288.6h.9M200.2 285.9h.9M207.1 285.6h.9M210.8 283.9h.9M208.4 278.5h.9M201.6 289.5h.9M209.9 278.1h.9M211.6 283.3h.9M198.2 287.7h.9M203.7 287.2h.9M203.2 280.6h.9M200.5 283.2h.9M209.4 279.2h.9M201.4 291.2h.9M213.6 282.9h.9M203.3 279.0h.9M200.8 285.8h.9M210.1 277.7h.9M206.1 281.5h.9M205.8 284.3h.9M213.3 278.3h.9M210.3 285.1h.9M205.1 282.2h.9M202.4 287.2h.9M203.8 280.8h.9M205.8 279.5h.9M202.3 282.4h.9M211.5 280.3h.9M206.9 277.1h.9M200.8 290.2h.9M203.5 277.8h.9M206.4 284.5h.9M199.3 281.2h.9M206.4 279.1h.9M210.0 284.8h.9M207.5 280.6h.9M205.6 280.4h.9M206.1 283.6h.9M206.1 285.9h.9M215.3 278.1h.9M208.3 284.8h.9M208.4 281.0h.9M205.4 286.1h.9M209.0 283.4h.9M203.9 285.2h.9M209.0 281.0h.9M210.6 288.9h.9M200.0 286.2h.9M200.8 279.1h.9M205.9 284.4h.9M205.5 278.5h.9M200.6 282.0h.9M205.6 279.7h.9M202.4 289.6h.9M203.1 282.7h.9M203.8 281.0h.9M206.2 281.4h.9M207.5 277.9h.9M202.6 290.2h.9M206.7 285.0h.9M211.1 283.1h.9M205.1 277.3h.9M201.3 287.2h.9M209.3 283.6h.9M198.4 277.0h.9M201.4 279.6h.9M206.0 278.9h.9M211.5 278.8h.9M205.0 285.8h.9M206.7 279.1h.9M211.0 287.9h.9M201.6 282.8h.9M200.7 277.1h.9M209.2 284.1h.9M210.2 282.9h.9M198.9 284.3h.9M202.8 279.2h.9M202.9 286.0h.9M206.9 289.1h.9M206.3 275.7h.9M210.7 285.6h.9M205.3 278.4h.9M211.6 276.4h.9M204.3 276.2h.9M200.2 278.0h.9M211.3 285.2h.9M203.6 278.3h.9M206.4 283.7h.9M199.7 280.1h.9M206.5 284.8h.9M207.0 283.8h.9M199.5 275.4h.9M206.6 279.1h.9M205.5 281.3h.9M207.4 279.4h.9M211.6 281.1h.9M208.8 284.0h.9M210.5 282.7h.9M199.3 282.0h.9M213.6 282.1h.9M208.8 283.4h.9M203.3 280.8h.9M204.9 286.9h.9M209.2 287.9h.9M209.8 288.2h.9M206.9 278.0h.9M213.0 281.8h.9M210.9 281.9h.9M205.2 283.3h.9M201.1 279.6h.9M202.6 281.5h.9M201.2 283.4h.9M209.2 288.8h.9M213.1 280.4h.9M209.4 280.8h.9M207.7 281.9h.9M204.4 283.2h.9M201.2 285.3h.9M204.3 279.1h.9M205.5 284.6h.9M204.2 284.7h.9M209.8 287.0h.9M202.2 283.1h.9M209.5 286.9h.9M207.9 284.6h.9M200.3 281.9h.9M212.2 279.8h.9M213.7 277.8h.9M203.8 277.4h.9M208.9 282.6h.9M213.9 280.9h.9M204.1 278.0h.9M206.8 285.6h.9M210.1 285.8h.9M209.5 281.4h.9M208.7 282.4h.9M202.9 289.4h.9M206.8 278.5h.9M208.0 283.0h.9M211.3 286.2h.9M195.5 287.3h.9M211.1 277.7h.9M199.6 285.2h.9M207.9 283.2h.9M201.7 281.9h.9M207.7 284.7h.9M214.7 281.2h.9M201.9 275.1h.9M210.2 280.9h.9" stroke="#000" stroke-width=".9" fill="none"/>
<ellipse cx="232.6" cy="274.3" rx="8.5" ry="8.0" fill="url(#rgg)" transform="rotate(-15 232.6 274.3)"/>
<path d="M231.3 271.1h.9M233.7 267.6h.9M233.1 274.6h.9M234.9 278.4h.9M232.3 274.7h.9M234.4 268.2h.9M231.6 274.8h.9M235.5 270.7h.9M235.9 274.8h.9M225.7 270.8h.9M227.4 276.2h.9M234.0 276.5h.9M235.2 271.6h.9M237.3 276.0h.9M234.8 275.4h.9M228.1 276.8h.9M227.7 271.3h.9M231.4 275.1h.9M232.1 273.2h.9M229.0 275.9h.9M228.6 270.3h.9M234.3 279.1h.9M230.1 271.1h.9M239.3 278.7h.9M231.3 273.9h.9M236.1 284.0h.9M234.0 277.5h.9M232.6 267.7h.9M227.4 271.3h.9M234.3 274.2h.9M239.1 271.6h.9M233.8 274.2h.9M235.2 282.0h.9M235.0 279.0h.9M236.9 271.0h.9M234.8 272.3h.9M233.2 274.7h.9M232.3 272.7h.9M238.2 271.8h.9M236.8 279.3h.9M235.9 277.1h.9M238.8 276.6h.9M237.8 267.8h.9M240.0 272.4h.9M225.5 273.9h.9M227.3 275.6h.9M226.1 272.4h.9M233.9 274.5h.9M229.4 274.3h.9M232.3 274.7h.9M232.4 273.6h.9M234.5 268.0h.9M230.9 275.2h.9M230.6 272.8h.9M231.1 275.4h.9M237.1 272.4h.9M231.9 275.8h.9M229.9 268.0h.9M233.3 272.8h.9M231.0 277.0h.9M232.3 272.3h.9M222.8 270.7h.9M232.5 273.9h.9M234.5 274.6h.9M229.7 270.5h.9M228.4 274.9h.9M229.0 278.0h.9M226.0 269.6h.9M230.3 268.5h.9M237.8 269.3h.9M232.2 273.5h.9M227.9 269.2h.9M226.4 279.1h.9M238.4 280.6h.9M227.6 277.7h.9M233.3 277.2h.9M231.3 277.3h.9M236.5 275.4h.9M237.9 272.2h.9M237.8 270.4h.9M236.4 263.3h.9M231.9 271.6h.9M233.5 277.8h.9M235.4 273.9h.9M237.7 267.6h.9M230.9 280.2h.9M232.0 267.0h.9M232.8 270.0h.9M239.2 276.7h.9M231.7 279.2h.9M230.3 278.3h.9M234.7 273.3h.9M227.0 274.8h.9M223.5 274.7h.9M226.7 280.3h.9M226.8 267.1h.9M235.1 275.0h.9M232.6 282.0h.9M235.6 273.7h.9M227.5 265.0h.9M235.3 277.1h.9M229.1 270.1h.9M230.9 268.7h.9M233.3 276.9h.9M238.5 273.7h.9M234.0 276.6h.9M237.6 271.8h.9M227.3 272.9h.9M227.1 272.6h.9M232.5 275.6h.9M233.3 274.4h.9M231.6 276.1h.9M236.6 276.0h.9M238.0 271.8h.9M233.2 280.3h.9M233.7 275.5h.9M232.2 277.9h.9M230.2 271.3h.9M232.0 272.9h.9M235.4 272.2h.9M232.9 273.4h.9M233.3 271.8h.9M235.5 268.4h.9M230.5 272.3h.9M235.1 273.8h.9M234.1 272.7h.9M228.9 271.2h.9M230.9 272.8h.9M234.0 275.2h.9M236.2 273.0h.9M228.8 271.5h.9M233.2 275.5h.9M240.1 272.9h.9M240.9 278.9h.9M229.7 279.5h.9M238.1 277.7h.9M233.4 277.5h.9M230.7 274.5h.9M234.3 280.3h.9M232.7 277.7h.9M232.2 271.8h.9M234.1 276.3h.9M230.5 277.2h.9M229.1 272.1h.9M233.2 273.3h.9M227.4 269.8h.9M232.9 275.1h.9M231.0 275.4h.9M227.2 277.2h.9M234.4 274.8h.9M230.4 275.2h.9M234.1 277.8h.9M233.9 274.9h.9M230.7 277.9h.9M236.6 271.4h.9M235.3 274.7h.9M231.3 270.0h.9M237.5 266.2h.9M233.4 272.7h.9M236.5 271.7h.9M233.3 276.3h.9M233.8 272.1h.9M235.5 274.9h.9M235.9 271.6h.9M232.1 273.0h.9M229.7 276.0h.9M235.4 278.7h.9M231.7 275.9h.9M236.8 272.8h.9M233.0 274.7h.9M229.1 271.7h.9M237.0 273.8h.9M231.2 270.2h.9M234.1 278.1h.9M227.5 272.5h.9M238.1 278.0h.9M237.9 270.9h.9M234.2 271.2h.9M234.2 272.5h.9M234.5 278.6h.9M233.7 273.1h.9M233.0 275.1h.9M230.9 275.5h.9M236.3 278.9h.9M223.8 272.4h.9M228.8 278.5h.9M241.9 272.5h.9M234.1 278.0h.9M223.3 276.1h.9M221.1 277.9h.9M230.3 273.2h.9M233.3 272.0h.9M236.8 273.2h.9M236.3 282.4h.9M231.8 277.9h.9M230.6 279.3h.9M236.3 273.8h.9M237.8 278.7h.9M237.8 272.9h.9M233.4 278.1h.9M226.6 273.8h.9M234.9 275.7h.9M241.1 278.3h.9M234.2 275.5h.9M227.5 275.0h.9M233.4 273.3h.9M233.4 276.3h.9M228.5 273.4h.9M227.0 279.9h.9M227.1 269.7h.9M235.3 272.8h.9M235.9 272.1h.9M241.2 274.6h.9M233.3 274.5h.9M232.6 277.2h.9M239.7 270.9h.9M229.1 277.4h.9M235.2 268.2h.9M229.1 271.7h.9M235.1 275.4h.9M228.9 271.3h.9M233.3 266.8h.9M234.9 273.1h.9M240.6 275.7h.9M230.2 274.0h.9M230.9 272.1h.9M233.8 277.4h.9M226.8 275.0h.9M238.8 275.3h.9M228.9 272.4h.9M228.0 269.8h.9M236.9 273.4h.9M228.7 270.2h.9M230.7 273.0h.9M238.6 271.1h.9M234.0 277.8h.9M234.9 273.0h.9M225.8 281.1h.9M234.4 272.3h.9M231.4 271.2h.9M227.9 270.3h.9M234.9 275.5h.9M233.9 276.7h.9M234.7 274.2h.9M229.9 277.1h.9M237.6 275.2h.9M236.8 271.5h.9M230.1 279.4h.9M230.7 275.7h.9M231.9 274.6h.9M231.1 272.8h.9M227.7 282.4h.9M231.6 267.7h.9M228.2 271.5h.9M227.6 266.6h.9M236.2 279.2h.9M232.4 277.0h.9M233.7 269.6h.9M235.6 267.5h.9M230.2 273.7h.9M237.3 273.5h.9M231.4 271.8h.9M233.0 274.4h.9M236.5 278.2h.9M235.3 273.6h.9M233.5 279.8h.9M233.3 274.0h.9M240.6 277.7h.9M234.6 273.4h.9M231.2 278.5h.9M231.8 277.9h.9M229.8 275.4h.9M234.2 274.4h.9M233.8 275.3h.9M227.5 271.7h.9M233.7 280.4h.9M231.3 271.4h.9M230.2 275.1h.9M236.5 271.3h.9M234.8 274.4h.9M230.5 271.5h.9M231.4 272.1h.9M233.0 268.0h.9M237.4 275.7h.9M236.1 278.7h.9M233.3 268.1h.9M233.2 275.7h.9M229.1 271.2h.9M234.6 275.6h.9M230.8 273.9h.9M230.2 272.9h.9M233.3 277.9h.9M226.4 274.8h.9M238.8 273.8h.9M233.9 276.9h.9M227.8 271.3h.9M225.2 271.1h.9M234.3 276.9h.9M230.5 272.5h.9M234.6 275.9h.9M231.9 267.8h.9M228.4 266.5h.9M232.7 271.3h.9M231.5 279.9h.9M237.9 274.6h.9M233.8 274.6h.9M230.4 274.7h.9M238.8 269.5h.9M230.3 275.5h.9M236.6 276.2h.9M228.9 274.8h.9M230.5 270.5h.9M232.5 272.6h.9M236.4 274.8h.9M229.8 275.3h.9M230.7 272.6h.9M231.8 278.3h.9M229.6 269.1h.9M230.5 277.7h.9M239.6 268.7h.9M231.0 273.6h.9M227.8 277.0h.9M232.7 275.3h.9M240.6 271.2h.9M236.2 276.3h.9M229.8 273.0h.9M238.9 275.1h.9M232.2 270.6h.9M236.3 275.2h.9M241.9 277.0h.9M235.8 274.4h.9M232.3 272.4h.9M233.9 274.8h.9M235.9 277.2h.9M233.3 272.2h.9M236.9 278.6h.9M229.9 276.5h.9M235.1 275.5h.9M234.4 273.5h.9M233.7 279.9h.9M237.7 268.0h.9M223.7 278.2h.9M229.7 273.3h.9M227.1 277.0h.9M231.9 272.6h.9M238.0 281.4h.9M239.0 276.7h.9M231.7 276.9h.9M233.5 278.1h.9M234.7 273.6h.9M234.0 271.4h.9M236.8 278.5h.9M231.8 276.5h.9M227.3 279.0h.9M234.9 270.1h.9M239.1 273.0h.9M225.1 271.5h.9M235.6 272.5h.9M235.3 268.1h.9M233.1 277.6h.9M230.7 277.2h.9M231.6 275.8h.9M235.7 281.3h.9M228.8 278.1h.9M236.4 269.3h.9M234.9 281.8h.9M233.8 263.5h.9M230.2 268.9h.9M233.1 271.6h.9M229.8 272.1h.9M233.3 272.5h.9M229.1 274.4h.9M233.3 271.1h.9M235.2 267.8h.9M233.8 272.6h.9M237.8 270.6h.9M229.0 270.5h.9M240.4 274.4h.9M228.3 274.3h.9M230.4 280.2h.9" stroke="#00ff00" stroke-width=".9" fill="none"/>
<ellipse cx="259.1" cy="269.7" rx="8.5" ry="8.0" fill="url(#rgk)" transform="rotate(-15 259.1 269.7)"/>
<path d="M258.8 262.6h.9M260.7 272.5h.9M259.5 271.3h.9M258.9 270.5h.9M259.3 267.2h.9M260.5 269.9h.9M258.4 267.5h.9M255.6 271.5h.9M260.0 260.9h.9M258.3 274.7h.9M261.8 266.5h.9M263.2 265.1h.9M257.9 276.8h.9M257.3 269.4h.9M252.2 268.0h.9M254.7 270.4h.9M253.3 275.0h.9M257.3 268.1h.9M257.4 272.8h.9M264.4 266.9h.9M266.4 273.4h.9M264.3 269.4h.9M254.2 273.4h.9M257.8 270.7h.9M251.9 270.6h.9M259.1 266.4h.9M261.7 274.9h.9M259.3 267.2h.9M265.9 260.3h.9M256.1 271.9h.9M254.9 262.7h.9M260.8 272.2h.9M257.5 275.3h.9M262.0 273.1h.9M253.5 271.2h.9M266.7 274.8h.9M263.9 268.4h.9M259.2 267.5h.9M262.5 266.3h.9M257.7 262.8h.9M255.1 277.0h.9M259.5 270.4h.9M251.0 271.8h.9M265.4 262.7h.9M250.2 271.5h.9M257.0 269.5h.9M253.3 266.5h.9M255.1 273.0h.9M259.7 272.5h.9M255.7 272.7h.9M257.6 270.4h.9M262.6 268.9h.9M256.3 264.6h.9M260.0 272.2h.9M256.7 270.1h.9M251.4 267.0h.9M261.7 273.6h.9M256.5 264.5h.9M256.3 264.9h.9M259.8 276.4h.9M260.1 268.9h.9M262.6 267.4h.9M260.5 270.0h.9M259.4 264.4h.9M262.5 271.9h.9M248.3 263.0h.9M257.1 275.5h.9M259.8 271.9h.9M261.9 272.1h.9M256.2 268.4h.9M261.0 271.3h.9M261.5 270.3h.9M258.3 273.8h.9M261.8 272.8h.9M250.6 275.6h.9M250.3 272.8h.9M256.7 270.8h.9M257.1 269.1h.9M260.1 270.7h.9M253.9 262.1h.9M256.7 272.3h.9M256.4 272.0h.9M256.9 266.9h.9M264.9 274.1h.9M258.7 269.6h.9M261.5 264.3h.9M256.9 274.3h.9M262.0 267.2h.9M256.5 271.6h.9M253.4 269.4h.9M256.0 261.7h.9M262.0 271.7h.9M261.8 263.8h.9M253.6 268.3h.9M256.1 277.9h.9M255.2 269.6h.9M260.3 271.0h.9M263.5 264.6h.9M262.5 269.3h.9M254.9 271.4h.9M255.3 276.5h.9M257.3 273.8h.9M263.4 266.3h.9M255.9 271.0h.9M256.0 273.8h.9M259.1 267.0h.9M257.2 272.8h.9M255.2 276.8h.9M256.0 269.8h.9M257.1 276.1h.9M263.4 273.2h.9M261.6 269.3h.9M266.0 270.2h.9M261.3 271.2h.9M262.1 269.9h.9M257.0 264.5h.9M265.6 263.3h.9M250.4 269.5h.9M267.5 271.9h.9M257.1 271.2h.9M257.2 263.0h.9M258.1 271.0h.9M262.4 264.5h.9M249.2 266.7h.9M260.4 269.6h.9M259.8 270.0h.9M256.5 265.5h.9M261.2 270.5h.9M262.4 273.3h.9M252.3 263.1h.9M254.3 278.7h.9M256.0 272.0h.9M259.7 272.2h.9M270.7 264.7h.9M257.9 267.9h.9M260.5 271.2h.9M256.6 275.1h.9M263.8 270.0h.9M258.5 269.0h.9M253.5 273.6h.9M255.0 269.0h.9M262.0 265.6h.9M257.9 273.1h.9M265.5 265.5h.9M262.7 266.4h.9M261.0 270.9h.9M255.7 274.3h.9M265.9 268.1h.9M259.1 265.5h.9M265.9 268.1h.9M255.0 273.6h.9M253.0 268.9h.9M252.3 276.5h.9M266.9 265.3h.9M256.1 268.4h.9M257.5 272.1h.9M263.7 264.8h.9M259.1 263.2h.9M264.8 267.9h.9M257.8 275.6h.9M259.9 274.4h.9M264.6 274.2h.9M256.1 270.7h.9M260.3 268.7h.9M264.2 265.7h.9M264.1 273.3h.9M250.9 268.4h.9M255.2 268.8h.9M260.4 268.7h.9M259.0 268.1h.9M259.2 271.4h.9M261.2 266.3h.9M258.0 267.2h.9M257.1 265.0h.9M263.3 271.0h.9M258.0 267.5h.9M256.8 267.9h.9M254.8 276.8h.9M270.4 262.2h.9M255.2 272.8h.9M260.0 263.8h.9M252.4 273.5h.9M252.9 276.5h.9M257.3 270.5h.9M258.6 267.8h.9M258.3 268.8h.9M263.7 268.1h.9M258.5 267.9h.9M256.0 267.8h.9M260.8 275.9h.9M263.5 269.4h.9M266.3 271.4h.9M259.7 268.9h.9M255.2 271.6h.9M256.5 264.7h.9M256.0 277.5h.9M260.4 271.2h.9M259.4 267.9h.9M261.8 272.9h.9M258.4 271.7h.9M262.5 267.0h.9M259.1 267.0h.9M261.0 267.8h.9M262.7 266.0h.9M265.2 266.9h.9M255.1 267.5h.9M260.8 266.1h.9M267.1 272.2h.9M259.8 264.4h.9M258.4 267.3h.9M252.7 273.0h.9M266.9 265.7h.9M263.3 273.2h.9M255.2 269.5h.9M260.5 271.0h.9M255.0 271.6h.9M259.6 273.0h.9M252.6 269.4h.9M256.9 269.1h.9M261.3 266.8h.9M268.8 264.5h.9M263.2 272.3h.9M262.5 268.0h.9M255.7 269.7h.9M261.7 269.4h.9M261.8 271.1h.9M254.9 267.4h.9M264.1 266.6h.9M254.8 277.6h.9M255.1 267.4h.9M261.7 264.9h.9M256.8 274.1h.9M258.3 279.0h.9M261.9 278.7h.9M259.6 269.8h.9M256.5 269.6h.9M257.2 270.1h.9M260.9 264.6h.9M253.7 263.5h.9M264.7 267.9h.9M259.0 269.5h.9M263.2 269.8h.9M262.2 268.3h.9M258.6 269.6h.9M253.1 275.3h.9M252.3 267.9h.9M261.7 269.2h.9M263.7 274.6h.9M267.4 272.5h.9M260.1 276.9h.9M255.7 270.3h.9M262.7 268.0h.9M258.3 268.6h.9M262.0 260.0h.9M264.9 272.0h.9M259.3 271.7h.9M256.5 274.4h.9M269.8 263.5h.9M264.3 268.1h.9M257.4 268.4h.9M257.3 265.7h.9M255.5 276.7h.9M259.5 271.6h.9M260.7 271.0h.9M252.5 268.0h.9M262.4 272.4h.9M254.3 268.9h.9M255.7 273.0h.9M260.4 269.5h.9M257.0 271.5h.9M258.5 267.2h.9M259.8 267.1h.9M263.3 270.9h.9M257.0 272.4h.9M258.7 267.2h.9M254.2 265.0h.9M255.2 272.0h.9M263.1 266.4h.9M260.0 270.7h.9M262.4 270.4h.9M264.4 271.1h.9M256.6 271.8h.9M250.1 271.5h.9M259.7 271.6h.9M258.7 272.8h.9M263.3 265.5h.9M257.3 271.1h.9M261.1 269.7h.9M261.2 264.9h.9M263.1 272.9h.9M263.7 270.0h.9M258.6 271.3h.9M257.4 264.4h.9M256.8 270.2h.9M256.3 267.1h.9M257.9 268.7h.9M259.3 269.5h.9M260.6 272.9h.9M260.0 270.9h.9M251.8 261.0h.9M258.2 272.4h.9M257.3 267.9h.9M255.2 274.0h.9M257.3 271.1h.9M263.8 270.4h.9M267.4 267.0h.9M263.3 271.1h.9M256.7 270.5h.9M256.0 266.8h.9M259.5 266.8h.9M264.8 265.5h.9M257.1 270.6h.9M257.2 270.4h.9M255.5 265.5h.9M248.8 267.8h.9M265.2 269.7h.9M259.3 268.0h.9M258.8 270.9h.9M253.1 268.4h.9M256.9 274.9h.9M256.2 274.7h.9M259.8 279.4h.9M258.8 269.9h.9M265.0 271.3h.9M261.7 265.1h.9M264.9 274.2h.9M258.3 268.2h.9M255.9 274.2h.9M260.2 269.4h.9M255.9 276.4h.9M262.4 268.7h.9M263.8 265.0h.9M261.5 265.4h.9M264.2 267.3h.9M263.3 267.1h.9M261.6 273.2h.9M255.8 270.9h.9M256.7 273.4h.9M256.5 269.0h.9M259.4 273.8h.9M255.2 270.7h.9M257.4 268.2h.9M256.0 270.0h.9M258.4 264.3h.9M258.9 265.5h.9M261.2 277.4h.9M255.4 270.5h.9M259.0 273.3h.9M255.7 264.1h.9M253.2 271.9h.9M261.0 273.1h.9M257.7 272.5h.9M256.3 275.2h.9M258.2 267.5h.9M261.3 275.4h.9M254.8 266.4h.9M254.2 266.8h.9M259.2 270.9h.9M258.7 270.5h.9M263.3 267.5h.9M252.3 263.2h.9M259.4 267.2h.9M258.5 271.3h.9M259.4 263.9h.9M255.6 270.9h.9M259.6 273.7h.9M255.3 263.2h.9M262.0 263.0h.9M255.8 272.0h.9M257.4 279.2h.9M260.5 271.3h.9M259.5 277.6h.9M260.5 266.7h.9M262.3 262.7h.9M257.2 271.3h.9M258.8 266.3h.9M266.4 273.1h.9M255.9 271.9h.9M256.3 268.9h.9M262.9 269.1h.9" stroke="#000" stroke-width=".9" fill="none"/>
<ellipse cx="284.2" cy="262.0" rx="8.5" ry="8.0" fill="url(#rgg)" transform="rotate(-15 284.2 262.0)"/>
<path d="M283.9 262.5h.9M280.9 267.3h.9M282.6 267.2h.9M282.1 260.9h.9M290.0 261.1h.9M281.3 260.8h.9M288.2 267.7h.9M286.2 260.1h.9M279.4 260.9h.9M284.0 262.9h.9M282.9 267.0h.9M279.9 260.6h.9M286.5 263.1h.9M283.6 265.6h.9M280.4 268.9h.9M294.2 266.4h.9M286.4 268.5h.9M285.6 266.4h.9M283.6 262.9h.9M284.6 255.6h.9M285.0 268.0h.9M273.5 266.3h.9M288.0 262.2h.9M286.2 266.5h.9M283.7 255.3h.9M280.4 262.0h.9M284.3 260.3h.9M285.3 267.7h.9M274.2 268.9h.9M288.3 263.1h.9M284.3 262.2h.9M285.8 262.5h.9M282.2 265.4h.9M281.1 262.7h.9M281.8 258.5h.9M286.4 261.2h.9M279.7 262.9h.9M280.3 268.2h.9M287.9 268.2h.9M282.7 265.0h.9M279.8 260.1h.9M284.2 263.5h.9M287.4 260.2h.9M289.2 264.1h.9M280.8 262.3h.9M282.3 268.7h.9M282.9 265.5h.9M287.4 260.2h.9M282.7 263.7h.9M280.1 258.5h.9M280.9 264.1h.9M286.5 267.7h.9M277.8 265.5h.9M280.9 267.0h.9M286.9 261.7h.9M289.4 259.3h.9M281.3 259.0h.9M281.8 263.0h.9M287.9 265.6h.9M282.5 259.8h.9M282.6 260.9h.9M282.1 261.1h.9M280.9 262.7h.9M282.1 261.9h.9M279.1 263.9h.9M286.9 263.6h.9M281.1 258.7h.9M278.3 259.4h.9M281.5 261.6h.9M278.2 266.0h.9M277.8 261.2h.9M282.2 265.5h.9M290.8 259.0h.9M282.8 261.0h.9M283.3 261.6h.9M292.4 255.9h.9M283.1 259.5h.9M285.1 259.9h.9M285.4 257.8h.9M292.3 260.6h.9M278.2 266.1h.9M281.4 258.6h.9M285.4 259.8h.9M286.5 259.4h.9M287.7 261.6h.9M285.7 262.2h.9M282.5 261.2h.9M286.5 263.9h.9M284.7 269.9h.9M289.5 256.5h.9M288.2 260.7h.9M284.4 259.1h.9M289.6 257.6h.9M283.3 259.7h.9M292.5 264.3h.9M278.9 261.8h.9M285.2 260.2h.9M281.9 258.8h.9M284.2 258.1h.9M289.4 269.2h.9M284.5 267.8h.9M285.0 259.4h.9M282.1 259.1h.9M285.3 264.2h.9M287.4 260.2h.9M279.7 262.9h.9M290.7 261.3h.9M282.1 255.2h.9M283.1 264.2h.9M281.9 267.4h.9M281.3 259.7h.9M282.0 262.3h.9M287.4 259.1h.9M277.5 263.5h.9M287.5 266.6h.9M281.4 268.0h.9M287.1 262.8h.9M280.6 259.8h.9M281.5 266.1h.9M286.0 265.3h.9M291.0 260.3h.9M285.7 268.4h.9M279.0 261.8h.9M282.5 261.1h.9M284.0 259.1h.9M287.3 256.3h.9M279.7 257.2h.9M279.5 265.4h.9M286.4 260.7h.9M287.9 263.2h.9M282.0 262.5h.9M287.3 268.3h.9M282.9 263.7h.9M287.3 265.5h.9M286.7 265.1h.9M280.0 262.2h.9M277.0 263.8h.9M293.1 260.5h.9M284.8 262.8h.9M283.6 257.5h.9M281.5 262.1h.9M284.1 259.0h.9M283.2 259.7h.9M278.7 261.1h.9M282.0 265.6h.9M289.7 262.6h.9M282.9 260.4h.9M277.9 261.8h.9M291.0 264.3h.9M284.8 261.0h.9M284.6 263.4h.9M284.6 263.4h.9M281.4 262.9h.9M283.9 265.9h.9M280.8 267.5h.9M283.4 260.4h.9M284.4 262.4h.9M283.7 263.7h.9M280.6 257.0h.9M286.8 261.2h.9M290.7 261.6h.9M277.9 268.1h.9M282.1 264.5h.9M293.4 263.4h.9M280.1 262.8h.9M278.8 265.8h.9M285.4 258.1h.9M286.7 264.7h.9M286.6 259.0h.9M280.7 259.0h.9M279.7 264.3h.9M285.5 266.3h.9M284.9 260.7h.9M280.3 268.5h.9M284.8 261.8h.9M279.6 259.6h.9M285.7 258.2h.9M286.9 263.5h.9M281.4 257.1h.9M287.0 266.2h.9M280.0 258.7h.9M288.4 261.4h.9M283.0 266.7h.9M283.6 263.8h.9M282.1 260.0h.9M284.3 259.0h.9M277.2 262.0h.9M289.7 264.4h.9M293.1 263.1h.9M290.4 261.3h.9M283.0 264.0h.9M281.3 265.4h.9M282.8 263.3h.9M280.9 262.4h.9M287.6 260.3h.9M282.0 263.6h.9M287.3 260.5h.9M278.5 258.1h.9M280.2 266.9h.9M284.3 263.7h.9M288.4 261.9h.9M285.5 259.9h.9M278.8 265.7h.9M284.4 264.0h.9M280.1 262.6h.9M290.9 257.3h.9M285.7 266.2h.9M283.5 262.7h.9M277.0 266.7h.9M283.7 266.7h.9M283.5 260.9h.9M285.6 260.8h.9M283.7 267.6h.9M287.9 261.4h.9M287.9 263.9h.9M286.4 261.6h.9M284.8 263.3h.9M286.6 262.6h.9M282.1 262.3h.9M285.0 258.4h.9M284.8 264.5h.9M284.6 260.9h.9M283.7 260.5h.9M287.5 259.8h.9M277.0 259.8h.9M285.5 262.4h.9M281.3 258.2h.9M282.9 259.5h.9M281.8 262.7h.9M281.7 263.8h.9M281.1 261.3h.9M284.6 267.0h.9M290.8 263.6h.9M281.5 262.8h.9M288.3 263.8h.9M278.2 263.5h.9M282.1 265.2h.9M286.1 259.7h.9M291.9 259.0h.9M293.1 259.1h.9M285.5 268.3h.9M281.9 261.0h.9M289.6 260.5h.9M284.9 257.5h.9M291.7 263.5h.9M286.1 264.0h.9M282.0 261.0h.9M278.7 264.8h.9M289.5 263.6h.9M288.2 263.4h.9M279.7 258.7h.9M286.7 262.0h.9M287.6 260.2h.9M281.3 264.4h.9M280.7 257.3h.9M281.2 259.8h.9M279.6 261.4h.9M289.7 268.7h.9M290.2 259.0h.9M288.4 260.7h.9M285.1 259.5h.9M282.5 256.7h.9M290.2 257.8h.9M285.9 259.6h.9M284.2 258.0h.9M283.6 265.4h.9M284.7 255.2h.9M286.2 257.0h.9M285.7 263.4h.9M281.6 261.7h.9M283.7 263.6h.9M288.8 265.5h.9M287.1 268.1h.9M282.3 268.7h.9M283.9 264.8h.9M283.8 262.4h.9M281.2 264.2h.9M291.8 260.5h.9M284.1 262.1h.9M286.7 260.7h.9M284.4 262.8h.9M289.8 263.8h.9M279.8 261.1h.9M285.0 264.8h.9M287.6 260.4h.9M291.9 259.4h.9M290.6 265.2h.9M290.3 261.1h.9M285.0 256.6h.9M277.1 261.9h.9M287.8 264.8h.9M284.7 265.5h.9M287.7 266.4h.9M277.6 261.0h.9M279.8 259.6h.9M289.5 257.5h.9M280.8 261.6h.9M287.1 259.7h.9M287.4 263.1h.9M279.8 255.1h.9M279.8 259.0h.9M289.6 258.1h.9M280.6 264.3h.9M283.6 259.0h.9M289.0 263.9h.9M284.6 259.3h.9M279.2 256.3h.9M286.0 262.9h.9M280.8 263.0h.9M295.3 255.2h.9M278.4 265.7h.9M282.2 260.9h.9M286.4 261.0h.9M288.3 262.7h.9M288.6 261.3h.9M277.4 268.5h.9M278.8 267.1h.9M283.9 257.3h.9M285.2 264.8h.9M280.5 263.2h.9M280.6 259.6h.9M283.0 266.8h.9M286.7 261.3h.9M284.0 262.5h.9M285.4 262.4h.9M278.7 266.7h.9M278.8 254.5h.9M285.8 257.5h.9M283.6 261.9h.9M282.5 264.3h.9M283.0 261.4h.9M280.4 262.1h.9M280.4 263.2h.9M290.0 264.0h.9M284.6 257.2h.9M288.8 264.0h.9M289.9 252.8h.9M284.0 261.0h.9M287.3 257.5h.9M284.8 269.9h.9M286.2 254.6h.9M285.5 266.4h.9M282.4 264.6h.9M283.3 257.2h.9M282.9 266.3h.9M288.1 258.9h.9M287.8 258.6h.9M285.1 261.7h.9M279.9 264.3h.9M280.4 253.6h.9M280.4 260.1h.9M280.3 259.7h.9M279.5 254.8h.9M287.6 261.4h.9M284.9 260.9h.9M284.2 261.1h.9M278.9 258.2h.9M285.4 265.2h.9M286.5 267.0h.9M278.9 262.5h.9M283.0 266.6h.9M290.0 258.7h.9M286.7 260.5h.9M280.4 262.7h.9M281.7 268.1h.9M287.4 265.3h.9M283.4 253.8h.9M287.3 261.5h.9M275.5 264.7h.9M289.4 266.5h.9M281.1 265.6h.9M285.3 261.1h.9M283.6 264.0h.9M286.9 263.6h.9M281.6 258.2h.9M290.2 264.9h.9M282.1 262.5h.9M285.7 255.5h.9M288.1 269.3h.9M284.6 259.5h.9" stroke="#00ff00" stroke-width=".9" fill="none"/>
<ellipse cx="213.7" cy="305.3" rx="8.5" ry="8.0" fill="url(#rgc)" transform="rotate(-15 213.7 305.3)"/>
<path d="M221.3 303.3h.9M214.1 303.7h.9M212.8 299.3h.9M207.7 301.8h.9M217.0 304.1h.9M216.2 297.6h.9M212.7 310.6h.9M209.2 300.1h.9M210.6 304.9h.9M214.8 309.5h.9M220.0 309.0h.9M215.4 303.1h.9M210.6 301.0h.9M219.5 308.1h.9M213.3 302.3h.9M216.6 306.2h.9M213.3 301.4h.9M214.1 303.2h.9M217.0 306.5h.9M215.0 303.5h.9M220.0 306.3h.9M219.1 306.8h.9M216.5 305.9h.9M208.2 300.5h.9M210.8 308.2h.9M217.2 305.0h.9M215.6 311.2h.9M210.7 299.9h.9M207.7 305.8h.9M216.9 307.0h.9M213.6 308.2h.9M212.9 303.0h.9M213.0 308.1h.9M216.3 300.7h.9M210.2 306.7h.9M220.5 299.4h.9M209.4 307.9h.9M215.1 302.8h.9M214.0 306.9h.9M207.2 307.0h.9M216.7 307.7h.9M217.9 303.9h.9M209.5 311.1h.9M216.0 302.5h.9M218.4 307.6h.9M211.1 297.8h.9M211.3 303.3h.9M210.5 305.9h.9M210.0 307.6h.9M219.6 299.6h.9M217.1 302.5h.9M215.6 304.4h.9M217.8 301.7h.9M215.7 302.1h.9M214.5 305.0h.9M216.4 299.1h.9M209.9 311.1h.9M216.6 310.4h.9M210.1 307.0h.9M217.5 310.4h.9M213.1 303.9h.9M216.3 304.3h.9M211.6 308.5h.9M205.8 303.9h.9M218.3 302.3h.9M212.8 306.8h.9M218.3 305.9h.9M209.7 304.4h.9M217.5 303.9h.9M212.1 308.8h.9M219.8 311.2h.9M209.1 304.1h.9M211.5 307.1h.9M212.9 309.4h.9M204.6 311.1h.9M211.1 305.0h.9M216.0 305.4h.9M211.3 311.2h.9M215.4 303.1h.9M213.5 301.5h.9M208.9 305.5h.9M215.1 305.3h.9M209.6 301.6h.9M208.9 312.1h.9M214.4 302.3h.9M218.5 305.9h.9M211.6 303.7h.9M218.2 305.2h.9M220.0 304.9h.9M211.0 303.9h.9M211.3 306.8h.9M215.2 307.0h.9M214.4 301.5h.9M212.1 302.4h.9M214.3 300.6h.9M210.8 303.1h.9M211.2 305.1h.9M219.0 303.0h.9M208.2 305.7h.9M216.9 306.4h.9M216.3 311.5h.9M217.9 304.5h.9M217.0 299.8h.9M212.3 302.7h.9M215.8 310.4h.9M213.3 311.0h.9M211.2 310.9h.9M206.8 304.2h.9M217.3 304.0h.9M214.2 305.1h.9M214.2 304.5h.9M209.9 305.3h.9M213.3 302.3h.9M216.9 310.6h.9M207.2 305.1h.9M212.7 305.6h.9M213.4 302.9h.9M213.6 305.4h.9M214.7 310.4h.9M212.9 300.4h.9M208.5 308.8h.9M211.9 303.6h.9M208.5 305.6h.9M212.8 303.2h.9M213.2 308.5h.9M217.0 306.3h.9M211.9 301.1h.9M217.8 309.4h.9M219.4 307.8h.9M215.0 306.2h.9M214.7 309.4h.9M214.6 312.5h.9M216.3 303.5h.9M212.3 300.1h.9M210.8 305.0h.9M222.0 300.3h.9M217.1 304.6h.9M213.2 307.6h.9M207.2 310.3h.9M221.0 304.4h.9M213.6 305.9h.9M215.7 303.1h.9M214.6 306.8h.9M212.8 306.9h.9M215.5 307.3h.9M209.6 304.5h.9M213.2 309.6h.9M213.2 299.7h.9M210.7 312.8h.9M213.8 300.8h.9M210.5 306.7h.9M220.3 309.2h.9M212.1 304.7h.9M219.9 300.2h.9M219.7 304.9h.9M215.2 309.4h.9M214.7 302.1h.9M208.1 306.8h.9M216.8 309.2h.9M205.3 312.2h.9M217.3 309.6h.9M216.8 305.2h.9M215.6 306.2h.9M211.3 305.5h.9M213.8 303.7h.9M207.1 302.0h.9M216.0 306.5h.9M213.1 301.4h.9M216.5 303.2h.9M207.5 312.4h.9M210.2 314.1h.9M215.3 303.3h.9M204.5 305.3h.9M220.3 308.3h.9M213.2 299.5h.9M212.1 304.8h.9M215.3 304.4h.9M213.5 299.7h.9M212.6 310.6h.9M209.2 309.7h.9M222.7 305.2h.9M209.7 310.7h.9M207.2 308.2h.9M213.3 309.7h.9M218.2 304.8h.9M221.1 306.7h.9M211.1 302.6h.9M222.4 301.6h.9M215.1 304.5h.9M210.6 300.5h.9M213.1 305.1h.9M216.8 302.7h.9M207.0 303.3h.9M213.8 306.2h.9M216.0 303.3h.9M215.8 305.2h.9M219.8 303.5h.9M214.7 307.0h.9M217.4 301.1h.9M211.7 304.9h.9M207.0 311.6h.9M217.6 304.3h.9M227.1 306.1h.9M222.5 308.4h.9M215.8 299.8h.9M219.7 305.2h.9M209.4 306.6h.9M217.3 307.8h.9M213.9 303.4h.9M215.8 302.1h.9M214.1 307.9h.9M208.8 307.9h.9M205.7 304.2h.9M209.1 306.2h.9M216.3 304.4h.9M217.1 304.7h.9M213.4 307.1h.9M212.9 306.0h.9M217.0 302.4h.9M216.9 300.6h.9M211.4 299.9h.9M213.1 311.0h.9M216.1 309.1h.9M207.4 303.4h.9M216.1 307.5h.9M215.3 299.0h.9M215.5 304.6h.9M214.6 306.7h.9M211.2 300.1h.9M208.5 301.6h.9M208.8 306.2h.9M217.9 301.7h.9M209.9 302.3h.9M207.4 307.2h.9M211.7 305.0h.9M210.6 307.8h.9M209.8 308.3h.9M212.0 308.5h.9M210.8 307.6h.9M215.2 304.6h.9M219.8 304.3h.9M211.1 308.4h.9M210.2 304.3h.9M213.9 305.9h.9M218.4 297.9h.9M213.7 309.2h.9M213.4 306.5h.9M218.2 299.8h.9M214.6 307.8h.9M210.0 300.2h.9M210.2 306.9h.9M216.0 311.1h.9M217.2 298.9h.9M218.3 307.3h.9M219.5 303.2h.9M211.8 306.3h.9M219.9 305.8h.9M220.6 306.2h.9M210.7 302.6h.9M219.2 298.5h.9M212.1 304.6h.9M209.9 304.3h.9M215.8 313.1h.9M213.0 303.7h.9M215.0 308.2h.9M210.4 304.8h.9M207.9 309.3h.9M217.5 309.5h.9M211.2 313.6h.9M216.7 303.5h.9M212.0 304.7h.9M209.9 309.0h.9M210.8 303.5h.9M215.7 305.2h.9M211.4 305.1h.9M213.1 310.2h.9M216.7 301.9h.9M214.8 309.8h.9M214.2 311.4h.9M215.9 307.1h.9M206.8 310.1h.9M215.5 306.9h.9M215.9 306.6h.9M212.6 308.7h.9M213.0 301.8h.9M210.1 306.8h.9M213.0 297.7h.9M207.0 310.8h.9M216.2 314.6h.9M207.9 306.0h.9M212.0 307.7h.9M220.3 309.2h.9M211.1 310.3h.9M209.5 307.5h.9M214.9 307.2h.9M211.9 310.5h.9M213.4 305.3h.9M211.8 302.1h.9M216.6 305.7h.9M217.0 311.0h.9M210.3 305.2h.9M214.5 308.1h.9M213.9 308.5h.9M213.8 299.1h.9M209.4 299.3h.9M212.3 304.2h.9M216.0 305.3h.9M214.6 309.5h.9M214.8 300.7h.9M211.5 307.1h.9M219.8 303.0h.9M213.3 306.3h.9M216.5 304.2h.9M214.4 303.6h.9M211.0 303.2h.9M215.6 302.8h.9M216.1 306.1h.9M214.9 295.5h.9M209.1 302.2h.9M213.8 308.1h.9M224.4 307.9h.9M219.0 305.2h.9M212.7 307.4h.9M206.5 310.5h.9M214.3 307.3h.9M209.0 302.7h.9M211.3 305.8h.9M214.7 303.8h.9M215.6 307.2h.9M209.3 306.1h.9M207.5 305.0h.9M216.4 302.1h.9M221.0 305.1h.9M217.1 304.8h.9M217.8 308.0h.9M213.6 303.5h.9M213.4 312.2h.9M212.6 304.0h.9M209.6 300.5h.9M212.1 306.9h.9M211.2 303.3h.9M215.6 306.4h.9M212.4 306.7h.9M210.9 309.1h.9M209.8 305.2h.9M213.8 303.8h.9M211.3 313.3h.9M217.7 298.1h.9M213.0 301.0h.9M213.7 300.7h.9M216.3 306.5h.9M221.1 307.6h.9M212.8 308.9h.9M211.9 305.4h.9M210.3 300.0h.9M214.1 298.0h.9M213.3 307.3h.9M212.7 300.0h.9M211.9 308.2h.9M219.2 309.5h.9M207.4 308.6h.9M212.6 308.3h.9M207.4 306.5h.9M215.7 302.5h.9M211.5 302.4h.9M216.6 299.8h.9M210.0 305.1h.9M214.4 312.6h.9M214.0 302.3h.9M216.1 305.9h.9M214.7 304.8h.9M214.4 301.0h.9M208.9 305.1h.9M210.3 308.7h.9M221.9 307.5h.9M215.6 306.0h.9M210.0 301.7h.9M214.4 299.9h.9M214.7 304.5h.9M216.5 304.7h.9" stroke="#00ffff" stroke-width=".9" fill="none"/>
<ellipse cx="238.7" cy="298.9" rx="8.5" ry="8.0" fill="url(#rgb)" transform="rotate(-15 238.7 298.9)"/>
<path d="M238.6 296.9h.9M232.1 299.5h.9M242.2 301.7h.9M242.9 294.3h.9M235.9 302.1h.9M239.3 307.8h.9M238.5 293.6h.9M238.0 304.6h.9M232.1 301.2h.9M235.0 305.5h.9M236.1 295.9h.9M231.8 298.2h.9M228.9 299.9h.9M246.8 297.1h.9M236.7 295.3h.9M239.5 297.0h.9M236.8 304.3h.9M239.5 295.5h.9M244.1 297.3h.9M240.7 298.9h.9M243.6 299.8h.9M238.1 301.6h.9M237.4 299.7h.9M243.8 293.8h.9M234.5 298.6h.9M238.0 303.7h.9M234.9 308.0h.9M244.1 295.9h.9M239.1 297.5h.9M241.8 300.4h.9M242.1 300.7h.9M245.7 296.4h.9M241.1 297.6h.9M239.0 299.6h.9M238.8 300.1h.9M235.4 299.2h.9M235.4 295.6h.9M235.7 298.0h.9M236.8 293.9h.9M236.8 295.4h.9M235.9 300.3h.9M243.0 298.7h.9M236.5 297.9h.9M242.2 292.2h.9M241.6 292.8h.9M236.4 299.7h.9M239.4 304.6h.9M240.5 298.3h.9M242.2 298.1h.9M236.7 303.4h.9M245.4 301.6h.9M236.1 306.4h.9M237.8 301.8h.9M245.2 305.6h.9M231.8 297.1h.9M243.5 299.4h.9M235.0 289.6h.9M240.2 297.9h.9M231.4 310.3h.9M229.0 299.5h.9M238.9 299.7h.9M241.2 297.3h.9M235.1 298.6h.9M230.0 297.3h.9M245.4 294.7h.9M240.1 305.2h.9M242.7 298.3h.9M241.2 297.3h.9M236.2 303.1h.9M240.6 304.1h.9M237.4 297.9h.9M239.8 297.9h.9M236.8 296.3h.9M239.9 299.7h.9M245.4 297.0h.9M232.6 302.2h.9M246.8 295.2h.9M235.6 299.1h.9M227.8 300.6h.9M236.7 294.1h.9M240.1 295.4h.9M231.2 298.4h.9M242.7 304.6h.9M243.5 298.3h.9M236.6 298.5h.9M241.8 296.2h.9M241.1 301.7h.9M234.8 297.9h.9M240.4 298.5h.9M237.8 297.3h.9M240.1 305.1h.9M242.3 292.2h.9M239.0 299.2h.9M237.6 294.3h.9M238.4 299.5h.9M236.5 300.6h.9M228.4 296.3h.9M239.4 300.1h.9M237.7 297.5h.9M240.3 302.3h.9M242.0 297.7h.9M237.9 302.9h.9M241.5 301.3h.9M236.9 296.3h.9M238.8 296.6h.9M243.7 300.6h.9M231.2 303.3h.9M244.5 301.0h.9M236.2 296.5h.9M243.2 301.3h.9M237.9 295.0h.9M233.3 301.3h.9M235.0 297.5h.9M241.3 301.9h.9M230.5 298.7h.9M243.5 297.5h.9M238.0 301.4h.9M233.4 296.0h.9M240.2 304.1h.9M242.5 297.9h.9M242.1 296.5h.9M232.9 294.5h.9M240.5 301.6h.9M240.0 298.4h.9M238.2 302.9h.9M237.3 294.2h.9M243.2 295.4h.9M240.2 298.5h.9M242.8 298.7h.9M243.4 298.4h.9M236.5 297.7h.9M240.4 295.5h.9M241.9 297.2h.9M234.5 296.9h.9M239.7 304.9h.9M241.6 298.2h.9M237.0 306.1h.9M237.7 299.2h.9M238.3 303.7h.9M238.9 297.2h.9M238.5 295.4h.9M234.7 299.4h.9M229.1 305.6h.9M245.1 293.2h.9M236.8 293.8h.9M239.5 299.4h.9M240.3 293.7h.9M235.9 297.4h.9M239.8 306.7h.9M237.9 299.0h.9M237.5 302.0h.9M249.2 300.2h.9M243.4 293.8h.9M242.6 297.9h.9M244.3 301.2h.9M239.6 292.7h.9M238.8 297.1h.9M240.4 298.6h.9M241.2 292.5h.9M235.9 299.4h.9M239.5 297.2h.9M238.6 299.1h.9M242.5 297.5h.9M238.0 292.6h.9M227.7 296.6h.9M238.0 290.9h.9M240.1 298.2h.9M238.1 296.5h.9M237.9 302.1h.9M240.0 298.5h.9M237.1 300.1h.9M243.1 297.7h.9M236.3 295.4h.9M238.3 295.8h.9M234.1 303.2h.9M234.6 292.8h.9M237.7 305.7h.9M237.1 294.6h.9M235.3 302.4h.9M240.4 299.2h.9M238.4 300.7h.9M244.8 299.0h.9M236.8 294.4h.9M241.7 303.7h.9M240.0 294.1h.9M240.5 303.0h.9M236.8 301.2h.9M244.6 303.1h.9M231.2 294.7h.9M240.7 300.9h.9M237.4 299.2h.9M238.3 303.3h.9M230.7 301.9h.9M233.4 297.9h.9M232.2 297.4h.9M238.6 299.0h.9M245.1 296.4h.9M240.3 299.7h.9M241.0 303.5h.9M239.3 299.3h.9M238.3 299.0h.9M239.4 302.3h.9M238.8 299.1h.9M239.2 301.5h.9M237.8 302.5h.9M237.2 301.8h.9M246.0 297.8h.9M237.3 295.1h.9M241.5 298.2h.9M241.5 295.8h.9M242.2 304.4h.9M239.9 297.4h.9M233.9 300.2h.9M241.7 300.2h.9M233.6 296.6h.9M234.2 296.5h.9M237.9 300.1h.9M246.0 297.6h.9M242.6 291.9h.9M245.1 300.0h.9M241.1 301.2h.9M242.7 304.7h.9M240.1 292.3h.9M233.6 306.0h.9M239.6 303.4h.9M236.8 297.1h.9M237.7 300.3h.9M238.8 296.6h.9M241.2 300.4h.9M234.3 296.1h.9M231.1 299.8h.9M238.1 296.6h.9M236.3 299.1h.9M239.3 300.8h.9M242.2 299.5h.9M242.0 294.6h.9M241.3 299.5h.9M234.2 297.7h.9M240.4 298.7h.9M233.5 298.3h.9M245.1 300.2h.9M240.2 303.3h.9M235.2 299.2h.9M242.0 296.8h.9M235.1 302.0h.9M242.4 288.8h.9M238.2 294.6h.9M236.3 294.5h.9M247.8 294.0h.9M238.2 296.5h.9M234.6 298.4h.9M241.0 304.5h.9M241.2 303.8h.9M234.8 300.2h.9M235.7 294.1h.9M252.4 294.4h.9M238.9 296.1h.9M235.6 296.0h.9M242.2 296.5h.9M238.3 299.6h.9M234.3 300.9h.9M238.5 300.6h.9M237.3 299.4h.9M241.5 301.6h.9M237.0 302.8h.9M234.9 299.3h.9M239.3 299.3h.9M228.5 298.1h.9M238.8 302.2h.9M237.4 304.6h.9M232.1 301.0h.9M240.7 298.4h.9M240.5 301.8h.9M236.2 301.7h.9M242.4 297.1h.9M229.0 297.2h.9M234.6 296.2h.9M239.6 295.8h.9M248.4 298.3h.9M233.6 299.2h.9M245.0 299.6h.9M235.8 303.4h.9M238.9 306.8h.9M237.2 301.4h.9M240.4 296.9h.9M239.2 302.9h.9M240.5 298.2h.9M241.9 304.3h.9M242.6 299.6h.9M238.5 293.3h.9M238.8 297.1h.9M240.9 296.1h.9M239.4 294.9h.9M241.4 295.6h.9M239.1 300.9h.9M237.5 299.2h.9M244.2 303.8h.9M231.2 297.7h.9M242.1 301.4h.9M237.0 299.7h.9M240.0 306.7h.9M236.9 295.1h.9M231.8 296.2h.9M243.2 296.3h.9M246.5 299.1h.9M240.7 300.7h.9M242.5 301.2h.9M234.6 298.0h.9M236.8 299.8h.9M236.7 295.0h.9M237.7 305.6h.9M245.8 293.9h.9M240.1 298.4h.9M236.2 302.1h.9M239.9 304.5h.9M240.1 297.4h.9M228.8 301.2h.9M241.2 295.7h.9M242.6 300.3h.9M232.0 300.0h.9M240.6 301.1h.9M239.3 298.7h.9M237.2 298.3h.9M237.8 295.3h.9M240.8 297.2h.9M240.2 296.7h.9M240.3 298.9h.9M242.4 299.6h.9M242.0 297.4h.9M238.3 298.1h.9M233.9 299.7h.9M243.4 300.4h.9M235.8 300.7h.9M240.3 293.6h.9M240.3 299.7h.9M241.7 299.0h.9M230.4 293.9h.9M245.7 295.6h.9M244.6 301.8h.9M238.0 295.0h.9M243.8 297.4h.9M241.1 300.0h.9M243.2 301.3h.9M232.2 295.6h.9M239.2 298.8h.9M241.5 297.7h.9M239.8 305.8h.9M244.8 301.4h.9M241.9 295.2h.9M238.3 298.8h.9M233.9 297.1h.9M238.2 294.7h.9M241.1 299.9h.9M237.5 298.0h.9M241.4 299.9h.9M239.0 294.5h.9M234.5 307.3h.9M235.9 298.3h.9M231.2 298.1h.9M236.7 302.3h.9M227.6 296.9h.9M236.7 297.7h.9M235.4 298.2h.9M233.1 301.4h.9M243.3 298.2h.9M237.8 303.6h.9M239.6 295.0h.9M236.0 297.4h.9M239.6 303.0h.9M235.9 299.1h.9M238.1 294.8h.9M237.5 301.4h.9M241.2 291.5h.9M241.1 297.2h.9M244.1 299.7h.9M246.3 298.0h.9M236.5 296.5h.9M233.9 302.2h.9M241.3 301.1h.9M238.7 293.6h.9" stroke="#0000ff" stroke-width=".9" fill="none"/>
<ellipse cx="265.0" cy="293.0" rx="8.5" ry="8.0" fill="url(#rgc)" transform="rotate(-15 265.0 293.0)"/>
<path d="M263.3 292.6h.9M266.3 295.4h.9M270.5 292.5h.9M256.4 291.7h.9M256.4 292.6h.9M260.8 295.0h.9M265.2 296.9h.9M268.6 290.4h.9M268.5 292.1h.9M267.9 297.0h.9M260.7 293.9h.9M270.1 288.9h.9M265.9 293.2h.9M262.3 289.1h.9M261.6 290.4h.9M269.2 292.7h.9M266.6 288.4h.9M267.0 293.0h.9M268.3 289.6h.9M269.2 296.7h.9M270.9 288.1h.9M259.5 289.3h.9M269.1 294.0h.9M265.5 289.8h.9M271.1 297.1h.9M264.8 292.6h.9M269.9 293.5h.9M269.6 290.3h.9M266.0 291.5h.9M262.6 292.6h.9M264.4 295.0h.9M263.9 293.5h.9M260.9 289.7h.9M269.4 288.3h.9M272.6 294.3h.9M255.9 293.2h.9M263.5 293.5h.9M263.8 291.2h.9M269.6 291.3h.9M268.0 289.8h.9M263.6 298.1h.9M263.0 289.6h.9M265.3 296.7h.9M263.8 290.8h.9M268.2 295.6h.9M264.0 292.2h.9M266.0 302.3h.9M265.9 299.0h.9M264.8 294.5h.9M257.6 295.6h.9M264.9 291.9h.9M262.3 288.9h.9M259.6 295.0h.9M262.5 293.3h.9M263.9 291.5h.9M263.9 299.9h.9M260.5 292.4h.9M262.9 289.5h.9M262.2 296.8h.9M268.6 292.5h.9M277.8 292.5h.9M268.9 289.1h.9M270.5 297.5h.9M265.2 299.4h.9M261.0 290.1h.9M264.1 290.4h.9M266.4 288.7h.9M263.6 286.5h.9M265.8 296.5h.9M264.3 294.3h.9M268.1 288.3h.9M260.4 294.5h.9M265.8 291.8h.9M262.5 298.0h.9M260.5 293.3h.9M265.5 295.4h.9M262.6 290.7h.9M271.8 288.2h.9M267.8 291.7h.9M263.2 293.3h.9M264.3 294.3h.9M255.5 295.4h.9M264.4 289.7h.9M265.6 301.1h.9M272.4 293.3h.9M265.6 291.8h.9M269.8 290.1h.9M262.6 296.1h.9M260.7 291.4h.9M269.0 286.3h.9M264.9 293.5h.9M264.7 287.9h.9M263.9 292.1h.9M273.1 294.4h.9M263.0 296.6h.9M267.3 292.0h.9M263.9 292.3h.9M258.7 292.5h.9M269.8 296.8h.9M271.6 289.9h.9M265.2 284.4h.9M262.9 289.1h.9M266.6 286.7h.9M260.2 290.4h.9M267.2 295.4h.9M263.2 299.9h.9M264.9 290.1h.9M266.3 292.6h.9M268.4 293.3h.9M274.2 294.7h.9M263.3 296.2h.9M267.0 288.9h.9M261.5 291.1h.9M256.4 297.6h.9M265.3 297.3h.9M263.0 293.8h.9M268.6 295.5h.9M265.3 289.2h.9M274.0 293.7h.9M271.5 297.0h.9M270.6 293.0h.9M267.3 294.6h.9M260.2 297.2h.9M261.8 295.4h.9M261.9 296.4h.9M265.4 301.7h.9M266.2 294.5h.9M261.4 293.0h.9M264.6 292.1h.9M262.6 290.5h.9M267.5 291.0h.9M262.3 295.0h.9M261.9 293.2h.9M262.3 290.5h.9M263.5 290.5h.9M260.7 295.4h.9M262.6 288.5h.9M263.7 294.0h.9M266.9 293.8h.9M266.5 294.7h.9M262.5 290.9h.9M266.9 291.0h.9M265.6 295.1h.9M269.6 296.1h.9M262.1 292.5h.9M265.8 287.7h.9M260.9 296.2h.9M261.9 290.6h.9M268.5 293.9h.9M268.1 291.0h.9M263.7 292.2h.9M264.3 286.0h.9M263.1 296.0h.9M262.1 293.6h.9M266.0 294.6h.9M262.3 289.7h.9M273.7 288.2h.9M269.8 285.5h.9M265.3 292.2h.9M273.9 297.8h.9M267.8 288.7h.9M261.4 291.3h.9M263.3 294.4h.9M261.9 293.0h.9M271.8 296.3h.9M257.3 291.7h.9M264.8 297.6h.9M265.5 299.6h.9M267.7 297.4h.9M261.6 292.8h.9M269.3 293.9h.9M257.9 293.9h.9M266.3 294.9h.9M264.2 299.3h.9M266.9 297.6h.9M266.6 292.9h.9M262.8 289.5h.9M268.9 294.6h.9M268.2 290.8h.9M261.0 292.7h.9M263.9 293.3h.9M267.9 289.0h.9M263.8 295.7h.9M270.3 299.4h.9M266.2 289.7h.9M260.5 291.4h.9M265.5 293.8h.9M264.3 291.0h.9M264.3 292.9h.9M267.3 292.7h.9M261.0 290.0h.9M270.5 291.2h.9M264.4 293.1h.9M268.9 290.9h.9M265.5 292.0h.9M266.3 289.1h.9M266.7 296.2h.9M270.0 293.8h.9M267.5 297.9h.9M268.9 296.9h.9M259.6 290.6h.9M267.8 291.3h.9M262.6 290.3h.9M269.5 287.6h.9M264.2 288.3h.9M266.4 300.5h.9M273.6 289.0h.9M262.7 299.3h.9M260.3 288.0h.9M265.4 289.1h.9M260.7 298.1h.9M261.4 290.2h.9M265.5 292.2h.9M269.3 292.2h.9M271.9 295.1h.9M272.6 294.9h.9M265.8 294.7h.9M263.8 287.9h.9M261.4 296.6h.9M255.6 292.6h.9M260.3 294.1h.9M261.4 294.8h.9M263.9 291.7h.9M260.0 286.6h.9M264.2 288.7h.9M264.3 294.5h.9M269.5 294.3h.9M269.3 286.9h.9M268.9 297.5h.9M265.5 289.0h.9M266.1 290.9h.9M263.6 297.1h.9M263.4 289.5h.9M264.3 300.1h.9M262.5 296.0h.9M266.7 296.6h.9M263.2 290.2h.9M261.8 290.3h.9M274.8 291.1h.9M265.0 297.4h.9M267.3 291.7h.9M267.6 293.3h.9M270.7 297.3h.9M263.9 293.2h.9M265.5 297.2h.9M267.2 295.2h.9M267.8 290.0h.9M266.8 297.4h.9M269.2 294.7h.9M263.7 292.1h.9M261.7 293.0h.9M263.6 288.4h.9M268.7 289.3h.9M266.5 294.7h.9M261.4 287.6h.9M269.0 293.4h.9M265.1 296.9h.9M267.5 289.0h.9M263.2 287.3h.9M265.3 297.9h.9M262.7 296.5h.9M259.3 293.5h.9M270.0 297.7h.9M267.4 295.0h.9M269.3 283.3h.9M260.4 300.9h.9M274.7 292.5h.9M265.5 293.8h.9M264.6 291.0h.9M264.9 292.6h.9M268.1 294.6h.9M269.2 293.9h.9M262.7 298.5h.9M255.3 296.0h.9M265.8 290.9h.9M271.0 287.6h.9M260.3 292.5h.9M267.3 295.2h.9M266.1 295.1h.9M262.0 291.7h.9M264.4 288.5h.9M265.4 291.5h.9M266.7 289.0h.9M262.6 291.7h.9M262.8 290.1h.9M262.9 288.8h.9M267.6 294.7h.9M264.8 292.4h.9M261.0 290.7h.9M263.5 290.3h.9M260.9 294.7h.9M264.6 291.7h.9M262.0 293.6h.9M262.2 292.3h.9M266.4 295.2h.9M267.3 290.3h.9M268.5 288.0h.9M265.6 297.4h.9M273.9 291.1h.9M263.4 292.1h.9M260.5 293.7h.9M262.9 290.9h.9M268.8 289.3h.9M272.0 294.1h.9M266.9 290.4h.9M261.5 287.0h.9M265.8 291.8h.9M265.9 290.4h.9M265.5 287.6h.9M257.5 296.7h.9M266.2 281.7h.9M269.4 290.6h.9M263.1 288.1h.9M262.0 296.3h.9M262.3 293.6h.9M266.2 299.6h.9M267.2 287.8h.9M262.3 289.7h.9M259.4 292.1h.9M269.1 292.1h.9M267.4 291.9h.9M263.6 293.7h.9M266.5 299.4h.9M271.9 292.5h.9M265.5 285.9h.9M266.7 300.9h.9M262.9 296.4h.9M269.2 290.5h.9M263.8 291.7h.9M268.0 292.3h.9M271.6 295.4h.9M267.3 301.5h.9M263.4 291.3h.9M263.4 290.3h.9M263.5 293.2h.9M266.9 287.0h.9M259.3 291.8h.9M264.3 294.8h.9M263.5 298.7h.9M262.9 292.8h.9M266.3 296.8h.9M266.2 292.8h.9M263.2 294.1h.9M266.2 291.5h.9M263.4 287.0h.9M264.2 297.4h.9M270.2 291.4h.9M258.8 301.1h.9M266.7 301.6h.9M264.4 296.7h.9M264.0 298.1h.9M268.3 288.4h.9M272.3 301.1h.9M263.2 289.2h.9M265.7 291.4h.9M258.7 291.0h.9M264.6 287.8h.9M269.4 293.4h.9M265.6 297.8h.9M262.3 296.1h.9M259.8 293.2h.9M266.9 290.6h.9M265.2 295.2h.9M271.7 295.8h.9M266.5 291.7h.9M261.3 300.0h.9M270.0 284.1h.9M268.2 292.0h.9M267.9 293.3h.9M264.3 293.2h.9M265.9 296.9h.9M263.6 291.5h.9M268.0 294.5h.9M266.9 293.5h.9M271.4 295.2h.9M265.6 292.1h.9M265.8 286.2h.9M262.5 291.2h.9M265.3 291.6h.9M274.6 293.0h.9" stroke="#00ffff" stroke-width=".9" fill="none"/>
<ellipse cx="290.8" cy="286.1" rx="8.5" ry="8.0" fill="url(#rgb)" transform="rotate(-15 290.8 286.1)"/>
<path d="M294.3 293.1h.9M290.5 285.0h.9M296.0 287.6h.9M295.3 289.2h.9M288.9 284.3h.9M288.3 287.1h.9M293.5 281.7h.9M287.7 282.2h.9M298.8 286.8h.9M290.6 281.9h.9M286.5 285.0h.9M289.8 281.9h.9M291.1 290.3h.9M291.0 286.4h.9M283.0 287.2h.9M289.7 284.0h.9M285.8 287.2h.9M286.6 285.3h.9M285.0 287.3h.9M293.4 282.4h.9M290.7 280.8h.9M293.4 287.3h.9M290.2 289.4h.9M287.7 287.1h.9M296.9 284.4h.9M287.8 291.0h.9M292.5 284.7h.9M282.6 281.7h.9M286.6 292.5h.9M291.1 283.0h.9M296.3 289.8h.9M288.2 288.5h.9M285.2 288.9h.9M296.2 279.7h.9M290.5 283.9h.9M290.6 286.5h.9M292.6 288.8h.9M293.6 289.0h.9M295.5 288.7h.9M288.8 288.1h.9M288.7 283.7h.9M298.2 285.2h.9M289.1 279.1h.9M290.7 288.9h.9M289.6 284.5h.9M295.9 283.6h.9M289.5 286.1h.9M290.9 289.8h.9M292.8 285.3h.9M289.3 285.7h.9M296.7 283.4h.9M291.8 280.3h.9M292.6 288.1h.9M295.7 285.9h.9M293.2 286.6h.9M296.5 291.8h.9M290.8 283.2h.9M292.9 285.2h.9M293.8 288.0h.9M291.0 284.5h.9M290.8 281.7h.9M291.0 282.9h.9M292.6 286.1h.9M289.0 282.3h.9M290.4 283.8h.9M290.9 288.5h.9M293.1 280.9h.9M295.4 289.7h.9M295.1 285.9h.9M292.1 291.9h.9M288.3 281.4h.9M291.4 286.9h.9M286.0 283.1h.9M298.1 284.6h.9M293.1 283.4h.9M285.2 287.0h.9M295.1 282.6h.9M284.2 287.3h.9M289.8 286.4h.9M286.8 286.1h.9M289.7 289.5h.9M292.2 288.8h.9M288.8 279.1h.9M284.3 289.7h.9M294.8 288.1h.9M289.0 280.3h.9M289.4 287.9h.9M295.5 283.6h.9M288.1 284.1h.9M295.3 288.0h.9M285.3 291.9h.9M286.2 282.1h.9M284.5 285.2h.9M301.5 292.3h.9M285.8 285.1h.9M291.8 287.3h.9M287.7 281.3h.9M288.8 284.2h.9M284.5 288.3h.9M284.0 281.8h.9M297.1 287.7h.9M296.2 285.1h.9M289.3 286.2h.9M286.6 289.9h.9M291.5 284.8h.9M284.0 287.5h.9M298.0 289.3h.9M293.7 284.1h.9M291.8 287.8h.9M292.5 289.4h.9M286.4 279.1h.9M281.3 285.4h.9M286.4 289.6h.9M294.7 285.1h.9M292.9 285.8h.9M291.1 284.4h.9M290.4 290.4h.9M289.8 286.2h.9M296.0 288.2h.9M289.7 287.3h.9M287.3 287.5h.9M292.0 285.8h.9M291.8 287.1h.9M281.0 285.8h.9M290.7 284.4h.9M287.2 286.2h.9M296.4 283.8h.9M288.1 285.1h.9M287.0 288.8h.9M288.1 290.1h.9M294.6 287.1h.9M294.5 284.8h.9M284.4 287.6h.9M291.8 280.4h.9M287.4 290.9h.9M293.6 290.1h.9M293.3 285.7h.9M293.1 288.5h.9M290.6 285.4h.9M291.7 284.7h.9M298.9 281.2h.9M284.2 283.3h.9M294.3 283.7h.9M291.2 285.2h.9M290.6 281.0h.9M290.6 284.1h.9M295.3 287.1h.9M285.4 284.1h.9M294.0 289.5h.9M293.5 284.8h.9M292.8 277.2h.9M288.0 283.4h.9M287.6 289.0h.9M292.1 286.8h.9M290.9 288.3h.9M293.2 283.4h.9M293.4 282.1h.9M296.1 280.1h.9M288.8 282.8h.9M292.2 290.4h.9M289.7 292.7h.9M296.3 286.0h.9M289.5 289.7h.9M279.8 286.3h.9M294.3 285.0h.9M299.3 281.4h.9M285.8 286.7h.9M294.5 291.2h.9M284.6 288.3h.9M294.8 282.6h.9M288.1 282.5h.9M294.4 288.1h.9M293.2 286.3h.9M294.3 284.7h.9M294.2 288.1h.9M296.0 286.5h.9M291.8 288.3h.9M283.6 281.8h.9M296.9 285.0h.9M286.5 285.2h.9M290.4 286.5h.9M288.9 290.1h.9M287.1 297.1h.9M288.4 292.7h.9M291.8 279.8h.9M286.4 287.5h.9M291.5 284.4h.9M291.0 286.6h.9M286.7 287.4h.9M298.6 281.7h.9M287.7 289.3h.9M296.7 288.2h.9M288.5 286.5h.9M291.4 285.2h.9M293.3 289.3h.9M292.8 285.5h.9M291.7 292.2h.9M288.1 294.0h.9M293.6 285.7h.9M289.8 292.9h.9M296.1 287.9h.9M296.9 278.1h.9M290.9 285.0h.9M288.2 287.1h.9M293.3 287.3h.9M289.2 281.8h.9M293.5 287.6h.9M299.5 287.1h.9M289.9 282.2h.9M300.3 281.1h.9M292.2 288.4h.9M293.9 290.0h.9M286.4 284.8h.9M290.4 281.8h.9M289.8 291.3h.9M291.9 285.5h.9M288.8 286.8h.9M289.8 282.5h.9M292.6 281.0h.9M295.3 283.7h.9M281.0 283.2h.9M291.1 282.9h.9M298.8 288.9h.9M299.5 287.0h.9M295.3 282.7h.9M295.3 283.3h.9M289.4 281.6h.9M291.4 287.4h.9M289.6 282.4h.9M295.0 288.2h.9M291.2 288.8h.9M293.6 281.8h.9M289.1 279.9h.9M287.4 288.6h.9M287.9 288.3h.9M290.3 278.8h.9M290.4 291.7h.9M291.0 286.5h.9M286.8 281.4h.9M287.5 297.3h.9M289.4 283.4h.9M289.5 279.5h.9M297.6 290.4h.9M288.3 287.9h.9M288.2 289.9h.9M287.6 286.4h.9M296.2 286.5h.9M288.3 281.3h.9M286.0 291.7h.9M292.8 285.8h.9M295.7 285.3h.9M288.0 286.5h.9M290.5 286.1h.9M300.7 285.5h.9M291.6 285.0h.9M287.4 283.4h.9M283.4 286.4h.9M283.5 281.4h.9M285.5 280.2h.9M297.1 288.9h.9M289.1 294.0h.9M291.0 276.9h.9M290.0 282.7h.9M284.1 287.0h.9M295.6 286.4h.9M284.7 285.3h.9M289.0 290.7h.9M289.6 282.9h.9M285.6 280.4h.9M288.5 290.0h.9M283.8 288.7h.9M291.2 289.0h.9M287.3 290.3h.9M298.8 292.2h.9M284.7 287.6h.9M290.2 286.7h.9M287.9 290.0h.9M301.0 288.8h.9M286.7 285.1h.9M293.7 285.8h.9M289.1 291.0h.9M293.7 289.0h.9M291.3 290.6h.9M288.1 282.8h.9M289.5 281.4h.9M296.2 287.3h.9M284.6 288.4h.9M293.7 284.0h.9M291.9 283.7h.9M290.5 285.9h.9M291.8 282.3h.9M286.9 288.4h.9M289.4 288.4h.9M287.7 282.2h.9M293.9 286.2h.9M293.3 284.2h.9M290.6 290.7h.9M286.0 293.7h.9M292.7 285.4h.9M291.7 288.0h.9M288.2 287.8h.9M285.5 280.8h.9M291.7 286.2h.9M293.8 287.3h.9M294.2 288.1h.9M287.9 291.3h.9M300.4 281.5h.9M286.7 289.7h.9M295.2 288.6h.9M295.4 279.8h.9M292.7 287.3h.9M294.7 281.8h.9M290.6 284.8h.9M290.1 285.8h.9M288.6 280.3h.9M290.7 286.4h.9M286.1 274.5h.9M287.6 284.6h.9M289.0 292.4h.9M294.2 284.5h.9M296.1 296.7h.9M287.6 288.7h.9M289.9 291.7h.9M294.9 284.6h.9M292.4 282.8h.9M285.6 290.6h.9M296.7 283.4h.9M287.2 280.5h.9M297.9 279.8h.9M287.0 286.4h.9M295.5 285.0h.9M290.8 286.2h.9M294.0 285.1h.9M291.3 285.7h.9M287.8 291.8h.9M287.0 282.3h.9M289.2 286.7h.9M292.6 280.3h.9M286.2 288.0h.9M291.3 282.0h.9M286.7 287.8h.9M288.8 280.8h.9M288.8 292.0h.9M287.8 290.7h.9M286.4 292.7h.9M296.3 282.3h.9M288.8 288.9h.9M286.6 289.2h.9M295.7 285.8h.9M291.9 285.2h.9M293.9 282.3h.9M296.8 284.4h.9M288.1 280.9h.9M289.4 287.3h.9M294.1 279.4h.9M289.7 283.9h.9M286.3 287.3h.9M288.7 289.8h.9M281.3 291.3h.9M281.8 281.4h.9M292.5 284.4h.9M290.4 282.7h.9M286.2 284.7h.9M289.8 283.3h.9M288.4 283.6h.9M290.7 282.0h.9M280.5 279.3h.9M290.8 286.4h.9M293.8 282.6h.9M285.1 282.2h.9M293.1 283.2h.9M294.5 284.8h.9M288.1 280.1h.9M289.0 289.5h.9M289.1 289.0h.9M285.5 291.2h.9M302.3 287.1h.9M290.9 281.6h.9M288.2 284.4h.9M289.7 279.1h.9" stroke="#0000ff" stroke-width=".9" fill="none"/>
<ellipse cx="222.8" cy="330.3" rx="8.5" ry="8.0" fill="url(#rgk)" transform="rotate(-15 222.8 330.3)"/>
<path d="M220.3 333.9h.9M224.0 332.7h.9M225.0 325.6h.9M218.1 333.2h.9M223.0 330.5h.9M220.7 334.6h.9M225.7 333.7h.9M222.1 333.0h.9M221.7 327.2h.9M221.0 324.8h.9M222.3 331.1h.9M224.5 326.0h.9M217.1 329.2h.9M214.4 330.2h.9M232.8 328.1h.9M219.3 328.8h.9M228.4 324.6h.9M222.3 330.1h.9M219.4 328.6h.9M215.7 329.2h.9M229.0 333.8h.9M222.4 333.0h.9M224.6 330.2h.9M223.4 334.6h.9M224.7 329.0h.9M222.8 333.7h.9M219.9 328.5h.9M221.3 328.9h.9M227.9 330.2h.9M222.0 328.6h.9M228.5 330.4h.9M231.5 331.3h.9M221.5 328.7h.9M221.9 331.2h.9M226.2 331.1h.9M227.4 323.6h.9M221.6 325.5h.9M218.4 329.3h.9M219.5 327.7h.9M218.1 335.7h.9M222.5 333.9h.9M216.5 323.5h.9M221.4 333.9h.9M221.0 332.2h.9M220.0 336.1h.9M225.4 333.4h.9M222.9 334.9h.9M222.6 328.6h.9M220.4 331.1h.9M218.3 327.2h.9M223.9 332.6h.9M222.5 333.4h.9M227.6 324.4h.9M222.9 326.8h.9M220.5 331.6h.9M214.4 334.8h.9M226.5 331.3h.9M226.9 335.8h.9M222.4 334.4h.9M228.7 330.5h.9M215.9 331.6h.9M220.2 325.1h.9M223.3 332.9h.9M221.7 329.9h.9M227.8 326.7h.9M219.3 331.4h.9M227.6 331.2h.9M222.6 328.6h.9M228.3 332.1h.9M216.5 333.2h.9M215.1 337.8h.9M224.5 327.5h.9M217.6 330.6h.9M216.7 334.0h.9M219.3 324.8h.9M223.8 334.3h.9M217.7 330.4h.9M229.8 329.1h.9M220.9 331.5h.9M224.8 326.1h.9M220.9 324.9h.9M215.4 326.7h.9M226.3 330.5h.9M226.7 333.7h.9M223.2 331.0h.9M224.8 331.5h.9M218.5 330.4h.9M222.3 330.6h.9M219.8 330.6h.9M224.0 330.6h.9M225.8 332.5h.9M225.8 333.0h.9M227.2 334.2h.9M224.6 327.6h.9M232.6 331.8h.9M228.2 331.5h.9M221.9 326.4h.9M224.1 328.7h.9M219.3 323.5h.9M227.6 324.8h.9M219.1 333.0h.9M224.2 327.0h.9M223.0 331.2h.9M223.9 331.9h.9M225.4 328.3h.9M218.6 339.3h.9M220.4 327.3h.9M226.2 331.5h.9M222.6 338.9h.9M215.1 337.0h.9M222.9 331.4h.9M223.8 329.2h.9M222.8 325.6h.9M223.0 337.0h.9M214.2 337.1h.9M213.6 329.7h.9M225.7 328.0h.9M219.2 325.8h.9M222.2 329.8h.9M219.0 325.7h.9M223.8 331.6h.9M227.6 330.9h.9M229.6 332.8h.9M213.6 338.8h.9M221.4 326.9h.9M225.3 333.1h.9M215.8 327.7h.9M224.9 327.7h.9M228.5 329.6h.9M219.5 326.3h.9M223.5 323.9h.9M216.7 327.2h.9M230.8 334.4h.9M221.6 329.2h.9M226.6 333.8h.9M221.7 338.6h.9M223.0 334.3h.9M213.8 332.5h.9M222.0 337.7h.9M220.8 326.2h.9M229.5 326.0h.9M221.6 326.1h.9M225.5 330.3h.9M221.3 329.2h.9M220.0 328.4h.9M218.6 335.8h.9M224.9 324.7h.9M218.8 332.9h.9M231.2 327.3h.9M221.4 329.8h.9M223.6 329.4h.9M227.8 332.5h.9M226.3 335.1h.9M221.4 328.7h.9M232.3 320.7h.9M214.8 323.9h.9M223.2 326.3h.9M224.9 322.1h.9M221.9 329.1h.9M219.7 335.2h.9M221.7 332.2h.9M220.9 331.3h.9M221.2 331.0h.9M221.8 328.1h.9M224.3 329.2h.9M218.2 327.7h.9M225.7 334.4h.9M217.5 330.2h.9M225.4 333.4h.9M224.4 325.6h.9M223.8 333.3h.9M223.5 329.3h.9M218.5 332.1h.9M222.6 330.5h.9M229.6 332.8h.9M220.0 331.9h.9M221.7 330.9h.9M229.8 331.7h.9M222.4 328.0h.9M222.5 331.7h.9M221.9 334.5h.9M221.8 326.3h.9M227.9 318.4h.9M221.7 330.2h.9M227.6 333.1h.9M229.7 334.1h.9M224.1 330.4h.9M226.6 329.2h.9M217.6 330.0h.9M225.9 331.7h.9M219.7 335.5h.9M222.6 324.9h.9M225.5 333.2h.9M224.5 328.7h.9M220.8 334.9h.9M223.6 330.0h.9M220.3 327.2h.9M215.4 331.0h.9M227.7 331.8h.9M221.6 336.2h.9M221.0 327.1h.9M227.8 334.0h.9M220.2 326.5h.9M220.3 322.1h.9M224.4 335.4h.9M223.2 327.5h.9M225.0 327.9h.9M227.3 327.8h.9M230.2 327.0h.9M222.7 326.9h.9M218.3 332.8h.9M223.2 326.6h.9M224.5 328.3h.9M220.6 330.6h.9M225.0 332.4h.9M227.8 330.3h.9M219.4 328.7h.9M223.1 325.9h.9M221.8 329.2h.9M222.6 331.0h.9M228.2 334.8h.9M227.1 332.8h.9M219.7 334.9h.9M226.5 324.4h.9M231.8 325.8h.9M215.4 338.7h.9M222.3 327.5h.9M221.6 334.5h.9M223.4 328.8h.9M226.3 326.0h.9M219.1 329.3h.9M220.6 333.4h.9M221.0 327.0h.9M219.3 324.0h.9M223.5 330.5h.9M224.9 328.9h.9M223.5 326.7h.9M223.0 330.8h.9M218.7 333.5h.9M223.4 330.3h.9M222.8 337.6h.9M222.1 327.7h.9M220.1 333.2h.9M221.3 327.8h.9M220.9 334.2h.9M224.1 333.8h.9M221.7 326.3h.9M226.4 330.5h.9M220.0 329.9h.9M219.9 334.1h.9M221.7 332.3h.9M223.5 329.2h.9M224.0 329.1h.9M218.0 330.1h.9M219.0 334.0h.9M224.7 327.7h.9M225.4 330.5h.9M225.6 326.2h.9M222.0 326.9h.9M221.5 335.6h.9M214.4 329.2h.9M225.3 332.4h.9M218.0 324.2h.9M216.6 333.3h.9M227.8 332.3h.9M221.3 335.6h.9M222.6 332.6h.9M223.5 335.9h.9M218.9 323.6h.9M221.8 331.3h.9M223.2 327.6h.9M220.9 326.7h.9M222.0 330.8h.9M225.2 335.6h.9M215.7 334.1h.9M223.4 326.0h.9M223.1 330.2h.9M219.7 333.7h.9M230.6 330.6h.9M226.7 333.1h.9M223.2 333.7h.9M219.9 331.7h.9M226.6 334.0h.9M221.5 329.6h.9M224.5 329.6h.9M224.0 332.9h.9M220.7 334.0h.9M224.0 329.0h.9M217.5 329.4h.9M223.5 333.5h.9M216.0 334.7h.9M222.5 326.3h.9M226.4 330.8h.9M223.6 326.6h.9M219.5 334.5h.9M228.4 330.1h.9M221.7 329.0h.9M217.3 335.3h.9M223.6 334.5h.9M221.0 334.6h.9M220.6 333.0h.9M227.3 326.6h.9M226.2 329.4h.9M219.5 331.9h.9M224.6 327.3h.9M221.3 328.7h.9M219.7 330.4h.9M225.4 327.8h.9M227.1 327.8h.9M221.2 334.6h.9M227.5 326.7h.9M223.9 325.8h.9M220.9 329.5h.9M224.3 325.4h.9M220.3 328.5h.9M222.1 326.1h.9M220.3 341.1h.9M222.2 325.0h.9M224.7 325.1h.9M217.3 337.8h.9M226.7 326.2h.9M219.2 333.0h.9M230.9 330.3h.9M224.2 325.7h.9M216.5 333.4h.9M226.7 329.7h.9M224.0 334.9h.9M220.6 334.8h.9M225.3 327.4h.9M223.4 330.5h.9M224.1 326.5h.9M222.0 330.8h.9M222.9 330.3h.9M223.6 329.4h.9M221.9 334.2h.9M220.1 329.9h.9M218.5 327.3h.9M224.4 329.7h.9M222.7 331.9h.9M222.8 332.7h.9M229.8 329.7h.9M223.3 336.1h.9M223.9 324.0h.9M227.9 329.7h.9M224.9 325.6h.9M219.1 329.0h.9M223.8 326.0h.9M221.0 334.2h.9M220.5 331.3h.9M217.9 325.5h.9M222.4 330.0h.9M218.4 335.0h.9M226.6 332.4h.9M219.9 327.0h.9M222.6 330.9h.9M221.6 328.5h.9M218.5 328.8h.9M222.1 328.8h.9M228.7 327.7h.9M224.1 328.3h.9M221.2 327.2h.9M219.7 325.8h.9M216.3 336.8h.9M219.3 332.8h.9M221.8 328.5h.9M225.0 327.7h.9M224.1 328.6h.9M227.2 332.5h.9M224.0 333.9h.9M226.0 335.0h.9M221.0 325.3h.9M223.8 330.9h.9M221.3 330.0h.9M220.7 326.4h.9M228.4 326.0h.9M217.4 326.1h.9M219.6 331.0h.9M228.8 330.8h.9M219.0 326.9h.9M218.6 331.1h.9" stroke="#000" stroke-width=".9" fill="none"/>
<ellipse cx="247.3" cy="322.4" rx="8.5" ry="8.0" fill="url(#rgg)" transform="rotate(-15 247.3 322.4)"/>
<path d="M250.1 319.9h.9M254.9 327.2h.9M246.0 315.1h.9M251.2 321.0h.9M250.6 325.0h.9M243.6 323.6h.9M247.3 319.7h.9M249.7 321.3h.9M247.5 329.0h.9M249.4 327.6h.9M247.6 326.0h.9M244.6 323.6h.9M249.3 314.1h.9M249.0 321.0h.9M251.5 321.9h.9M245.9 318.2h.9M257.5 317.1h.9M245.5 320.3h.9M246.4 323.4h.9M243.3 327.2h.9M246.9 324.6h.9M239.1 322.8h.9M245.8 321.4h.9M245.1 324.1h.9M247.9 318.7h.9M240.7 326.7h.9M247.1 326.3h.9M250.4 321.2h.9M241.7 322.6h.9M245.7 327.2h.9M241.9 327.1h.9M241.1 322.0h.9M241.5 321.5h.9M246.0 324.1h.9M245.7 325.3h.9M253.9 321.2h.9M242.9 322.9h.9M246.6 321.3h.9M252.5 325.1h.9M255.1 322.2h.9M237.4 324.6h.9M249.0 319.1h.9M245.9 326.0h.9M246.8 318.5h.9M242.4 312.8h.9M246.2 318.4h.9M246.0 318.5h.9M243.4 321.6h.9M256.5 315.7h.9M242.4 321.8h.9M251.9 324.0h.9M249.5 320.6h.9M247.1 319.7h.9M245.9 319.9h.9M241.0 320.5h.9M254.7 321.8h.9M244.4 322.8h.9M246.7 326.9h.9M246.6 320.3h.9M250.1 322.8h.9M244.1 320.5h.9M246.3 316.8h.9M244.8 326.6h.9M251.4 325.2h.9M245.1 320.9h.9M245.8 321.1h.9M251.8 320.4h.9M251.6 318.7h.9M250.1 327.4h.9M244.0 321.0h.9M243.6 317.7h.9M245.6 320.6h.9M254.9 318.6h.9M240.2 327.6h.9M250.7 321.3h.9M248.9 324.5h.9M245.2 323.1h.9M249.3 327.7h.9M252.6 321.6h.9M243.1 326.6h.9M248.1 326.3h.9M247.6 322.9h.9M249.0 319.3h.9M246.9 330.6h.9M244.9 326.3h.9M250.5 324.4h.9M251.1 316.6h.9M248.9 314.6h.9M247.7 323.5h.9M252.0 325.0h.9M243.6 322.4h.9M246.1 320.3h.9M243.7 321.0h.9M252.7 325.8h.9M251.5 327.2h.9M246.6 318.7h.9M245.0 323.7h.9M252.1 325.4h.9M244.8 326.4h.9M245.8 324.9h.9M251.9 326.4h.9M245.5 323.7h.9M248.4 320.6h.9M248.1 324.3h.9M240.6 321.9h.9M256.1 321.6h.9M243.6 316.9h.9M244.2 325.1h.9M250.1 323.2h.9M248.9 319.8h.9M252.1 317.1h.9M248.9 321.0h.9M241.8 327.1h.9M246.9 325.0h.9M252.1 321.7h.9M244.6 322.3h.9M248.3 327.3h.9M251.8 326.8h.9M249.4 319.1h.9M251.5 324.7h.9M247.2 324.1h.9M245.0 318.5h.9M247.6 325.0h.9M243.9 315.3h.9M245.3 326.8h.9M249.1 325.9h.9M244.1 321.8h.9M242.9 320.8h.9M249.2 322.4h.9M245.7 323.9h.9M242.1 322.4h.9M240.4 318.9h.9M241.3 320.1h.9M254.2 325.4h.9M251.3 319.2h.9M248.5 318.0h.9M245.5 323.7h.9M241.6 324.6h.9M247.6 314.9h.9M238.0 323.9h.9M246.9 323.0h.9M243.6 325.4h.9M247.0 319.9h.9M253.5 321.7h.9M251.6 327.8h.9M245.2 322.2h.9M240.7 323.4h.9M251.1 330.3h.9M249.5 322.5h.9M241.8 320.8h.9M239.2 319.6h.9M247.9 323.3h.9M243.7 322.6h.9M244.8 325.3h.9M249.1 319.9h.9M244.5 318.8h.9M247.5 330.2h.9M248.0 325.3h.9M250.7 326.8h.9M245.2 319.7h.9M251.9 324.5h.9M245.8 326.7h.9M247.2 322.3h.9M254.5 322.4h.9M248.1 321.0h.9M248.9 325.7h.9M248.2 319.4h.9M248.8 321.6h.9M248.2 321.5h.9M237.8 319.2h.9M243.9 315.4h.9M243.5 330.7h.9M249.4 320.2h.9M246.4 314.6h.9M249.0 325.5h.9M246.8 317.9h.9M250.3 319.7h.9M245.3 323.6h.9M248.0 329.5h.9M248.7 329.7h.9M247.8 317.8h.9M247.3 322.6h.9M253.7 325.3h.9M256.0 317.7h.9M247.7 330.6h.9M244.3 324.5h.9M252.2 317.4h.9M245.3 320.3h.9M249.5 323.2h.9M247.7 324.7h.9M244.0 321.9h.9M250.8 328.7h.9M247.2 322.7h.9M252.1 321.4h.9M252.2 321.9h.9M251.6 321.9h.9M243.1 320.5h.9M250.5 328.3h.9M253.8 319.5h.9M255.4 316.2h.9M245.0 326.4h.9M242.4 327.0h.9M249.2 324.2h.9M243.1 324.9h.9M250.7 321.3h.9M251.1 321.5h.9M248.2 321.0h.9M242.1 323.2h.9M248.4 319.4h.9M238.6 319.1h.9M251.9 320.4h.9M245.5 327.3h.9M245.2 317.5h.9M244.8 319.9h.9M245.7 319.5h.9M247.9 323.9h.9M244.9 322.3h.9M247.4 325.4h.9M245.3 325.7h.9M251.7 320.5h.9M243.4 322.3h.9M240.2 322.3h.9M242.7 323.0h.9M246.3 324.5h.9M248.1 323.7h.9M247.3 323.4h.9M243.7 325.8h.9M253.1 324.9h.9M242.7 325.2h.9M241.9 326.6h.9M246.1 321.1h.9M244.3 322.4h.9M246.4 319.2h.9M247.7 323.2h.9M249.2 321.7h.9M249.3 330.2h.9M251.3 322.5h.9M242.7 325.9h.9M247.0 312.9h.9M247.0 323.9h.9M247.5 322.7h.9M247.9 327.2h.9M248.4 321.1h.9M248.3 329.7h.9M243.6 321.5h.9M248.6 322.6h.9M249.6 326.7h.9M251.8 322.7h.9M247.4 322.2h.9M247.3 326.0h.9M241.6 320.2h.9M244.7 319.6h.9M245.6 327.2h.9M239.4 326.6h.9M242.2 322.9h.9M244.2 319.6h.9M241.8 324.1h.9M234.3 318.2h.9M246.8 326.5h.9M253.9 319.6h.9M244.0 322.3h.9M249.8 325.1h.9M244.1 325.0h.9M248.2 326.3h.9M245.5 322.1h.9M242.9 318.8h.9M248.9 324.6h.9M251.7 322.2h.9M244.7 319.8h.9M242.3 321.1h.9M248.6 322.4h.9M238.6 324.4h.9M245.2 319.2h.9M247.7 324.2h.9M242.2 318.9h.9M246.3 323.6h.9M247.7 327.9h.9M246.9 318.9h.9M249.6 319.5h.9M249.9 322.1h.9M250.9 317.8h.9M250.3 323.1h.9M244.5 325.7h.9M256.0 321.4h.9M244.3 322.7h.9M252.3 322.0h.9M252.2 318.7h.9M250.7 315.8h.9M246.4 321.6h.9M246.5 327.0h.9M245.3 324.2h.9M254.9 323.4h.9M245.1 320.4h.9M240.1 325.7h.9M251.6 325.3h.9M250.1 329.5h.9M248.1 313.8h.9M244.7 326.0h.9M246.5 325.6h.9M256.1 317.3h.9M255.5 319.9h.9M241.9 324.2h.9M250.1 319.5h.9M252.4 317.9h.9M247.4 325.7h.9M246.0 320.7h.9M247.8 324.6h.9M255.0 325.3h.9M254.3 320.4h.9M241.0 323.9h.9M244.8 319.5h.9M245.3 322.7h.9M248.3 325.5h.9M244.9 327.2h.9M248.1 324.8h.9M250.8 317.0h.9M252.6 318.4h.9M249.8 325.7h.9M249.3 316.2h.9M248.9 326.1h.9M246.8 322.3h.9M249.0 327.9h.9M244.4 319.8h.9M242.7 321.7h.9M246.7 323.8h.9M245.4 316.7h.9M242.0 326.3h.9M248.8 317.1h.9M248.6 313.2h.9M256.5 322.1h.9M241.5 325.8h.9M246.7 320.9h.9M245.7 322.0h.9M246.1 319.5h.9M245.7 324.9h.9M248.1 317.4h.9M246.9 328.2h.9M251.5 327.3h.9M241.3 320.2h.9M237.4 318.0h.9M244.9 319.2h.9M242.6 321.1h.9M247.3 325.4h.9M247.8 315.9h.9M252.6 319.8h.9M243.5 323.3h.9M244.5 318.1h.9M252.6 318.9h.9M245.5 324.8h.9M254.0 322.4h.9M244.3 324.8h.9M251.8 322.6h.9M249.3 320.1h.9M245.5 316.8h.9M243.6 319.3h.9M248.7 327.5h.9M237.6 320.2h.9M243.7 323.0h.9M251.0 318.6h.9M245.4 327.3h.9M249.2 323.8h.9M249.8 319.0h.9M247.5 319.9h.9M244.7 323.6h.9M247.8 317.6h.9M244.9 325.2h.9M248.5 324.5h.9M245.4 320.0h.9M250.8 323.6h.9M237.4 328.2h.9M245.0 325.4h.9M253.0 319.9h.9M243.9 324.3h.9M248.2 324.2h.9M242.2 324.7h.9M251.3 323.9h.9M250.8 325.8h.9M245.3 327.4h.9M247.2 318.8h.9M246.4 323.6h.9" stroke="#00ff00" stroke-width=".9" fill="none"/>
<ellipse cx="271.9" cy="316.3" rx="8.5" ry="8.0" fill="url(#rgk)" transform="rotate(-15 271.9 316.3)"/>
<path d="M274.4 320.5h.9M272.2 314.4h.9M279.9 313.0h.9M269.6 320.3h.9M269.6 314.1h.9M269.0 321.4h.9M268.0 317.7h.9M270.0 316.1h.9M268.9 317.6h.9M275.1 319.3h.9M269.5 312.7h.9M266.3 317.8h.9M263.7 323.3h.9M272.1 316.7h.9M266.0 315.5h.9M269.7 319.4h.9M270.9 318.8h.9M272.1 309.3h.9M272.2 320.8h.9M270.1 317.3h.9M270.3 312.3h.9M280.0 313.7h.9M273.9 314.2h.9M278.2 318.8h.9M277.2 318.3h.9M275.8 320.3h.9M273.6 316.4h.9M274.2 312.5h.9M263.0 321.6h.9M271.8 313.8h.9M270.0 313.4h.9M268.9 317.8h.9M273.1 319.0h.9M272.1 318.6h.9M273.9 313.3h.9M264.9 315.7h.9M270.5 314.8h.9M279.6 311.8h.9M273.0 313.3h.9M273.4 311.4h.9M275.7 316.0h.9M269.3 312.7h.9M277.7 312.7h.9M275.2 306.7h.9M269.0 323.7h.9M278.7 314.6h.9M276.2 317.4h.9M270.7 317.1h.9M266.4 313.0h.9M273.0 318.7h.9M271.4 312.0h.9M275.2 315.8h.9M274.5 314.6h.9M271.9 320.2h.9M276.0 310.9h.9M268.6 320.7h.9M273.3 316.1h.9M269.1 320.7h.9M272.8 316.9h.9M272.9 314.2h.9M273.5 316.4h.9M275.0 316.9h.9M266.4 315.2h.9M271.9 320.5h.9M270.5 320.8h.9M276.8 318.2h.9M280.4 314.0h.9M274.2 320.1h.9M274.3 319.3h.9M272.7 321.3h.9M271.5 309.5h.9M275.8 314.6h.9M268.3 316.2h.9M271.9 320.5h.9M273.1 315.8h.9M271.0 313.3h.9M269.1 315.4h.9M270.0 312.6h.9M271.3 320.1h.9M273.6 315.9h.9M273.0 315.2h.9M268.2 320.5h.9M280.9 315.8h.9M276.7 323.9h.9M267.8 319.3h.9M270.4 315.8h.9M265.6 317.8h.9M272.0 310.6h.9M270.6 314.9h.9M268.7 319.5h.9M278.5 316.1h.9M276.5 317.9h.9M272.2 318.4h.9M276.5 313.6h.9M270.1 311.9h.9M264.1 315.5h.9M275.6 316.7h.9M274.1 320.5h.9M266.5 322.8h.9M272.9 318.9h.9M276.4 312.2h.9M269.0 318.6h.9M271.2 314.4h.9M270.8 314.0h.9M272.1 314.9h.9M277.4 311.1h.9M274.2 316.0h.9M277.0 311.5h.9M271.7 322.6h.9M269.1 315.7h.9M269.5 313.5h.9M277.9 320.2h.9M270.7 314.0h.9M267.4 319.9h.9M270.4 318.7h.9M262.4 317.4h.9M274.7 317.1h.9M261.3 320.2h.9M272.4 316.1h.9M270.2 315.2h.9M272.9 317.9h.9M259.9 319.5h.9M275.2 314.7h.9M275.7 312.0h.9M280.0 317.6h.9M272.8 326.0h.9M278.8 320.2h.9M267.3 317.2h.9M274.6 319.4h.9M271.0 311.9h.9M276.4 314.5h.9M273.3 314.8h.9M270.3 311.9h.9M273.9 313.6h.9M265.6 319.5h.9M272.6 319.6h.9M273.9 311.5h.9M271.2 316.5h.9M271.3 312.7h.9M273.1 319.6h.9M277.9 320.0h.9M272.5 307.1h.9M270.4 314.8h.9M262.3 324.4h.9M275.4 315.4h.9M273.7 317.6h.9M272.3 321.2h.9M279.5 317.2h.9M270.0 317.7h.9M276.3 317.8h.9M270.2 320.2h.9M275.2 317.6h.9M270.3 316.7h.9M264.7 318.2h.9M270.0 315.8h.9M270.6 315.6h.9M272.3 316.6h.9M269.5 316.5h.9M272.0 318.1h.9M273.3 314.7h.9M267.3 311.7h.9M267.5 319.0h.9M269.9 322.6h.9M271.0 315.2h.9M270.8 314.7h.9M269.6 317.2h.9M266.6 318.2h.9M270.8 313.4h.9M276.1 316.5h.9M275.4 313.0h.9M266.2 313.6h.9M264.3 311.6h.9M277.4 313.2h.9M272.2 314.4h.9M272.8 321.8h.9M264.5 314.8h.9M271.6 313.2h.9M275.7 320.0h.9M276.0 317.9h.9M272.2 319.8h.9M267.8 313.2h.9M270.7 315.8h.9M275.7 311.8h.9M275.5 312.6h.9M265.6 311.9h.9M270.5 311.5h.9M272.8 316.3h.9M268.7 310.3h.9M270.3 318.3h.9M265.8 320.4h.9M271.5 314.5h.9M273.3 318.3h.9M271.1 313.8h.9M274.3 313.3h.9M274.1 319.2h.9M278.3 320.3h.9M275.9 315.8h.9M271.3 317.2h.9M276.6 325.8h.9M273.7 312.9h.9M276.2 309.5h.9M274.6 311.0h.9M267.3 315.7h.9M269.6 312.1h.9M274.1 315.3h.9M276.1 311.6h.9M265.7 320.5h.9M271.9 319.8h.9M262.0 314.5h.9M274.0 322.8h.9M265.5 311.2h.9M271.5 321.5h.9M276.7 310.2h.9M268.0 310.8h.9M267.9 314.0h.9M274.5 319.7h.9M280.6 312.7h.9M275.2 316.2h.9M274.1 322.7h.9M276.0 320.8h.9M273.8 318.9h.9M273.7 315.5h.9M268.9 315.7h.9M271.6 315.0h.9M270.0 314.3h.9M274.9 314.6h.9M271.3 315.7h.9M276.4 313.2h.9M276.5 312.0h.9M278.2 316.8h.9M270.5 318.3h.9M275.3 312.0h.9M271.3 317.6h.9M270.9 315.6h.9M272.3 317.3h.9M276.2 320.5h.9M273.3 326.5h.9M272.3 322.6h.9M270.1 311.6h.9M270.0 315.6h.9M274.1 308.5h.9M269.4 316.5h.9M274.7 317.0h.9M275.0 314.9h.9M272.1 320.6h.9M278.7 315.8h.9M271.7 313.3h.9M280.2 315.5h.9M272.8 310.3h.9M276.4 323.8h.9M271.1 315.8h.9M277.5 314.1h.9M276.8 322.0h.9M266.8 314.7h.9M274.6 316.0h.9M271.9 315.7h.9M272.7 317.4h.9M269.9 315.9h.9M271.8 312.4h.9M271.6 308.5h.9M274.2 315.3h.9M268.7 322.0h.9M269.4 324.4h.9M270.3 321.1h.9M273.1 321.8h.9M272.0 320.0h.9M269.0 310.4h.9M273.8 317.5h.9M274.9 321.5h.9M267.9 312.3h.9M272.3 313.7h.9M271.5 316.4h.9M269.8 320.8h.9M273.1 322.4h.9M273.8 319.6h.9M270.2 314.4h.9M269.1 313.9h.9M273.7 316.3h.9M266.5 312.2h.9M267.1 311.1h.9M267.2 312.1h.9M273.5 311.7h.9M269.6 316.5h.9M272.4 317.7h.9M275.4 317.7h.9M271.8 320.8h.9M272.7 313.6h.9M276.5 310.8h.9M274.8 320.0h.9M272.7 317.4h.9M273.0 318.4h.9M272.8 316.1h.9M272.9 309.3h.9M272.6 315.0h.9M279.5 315.3h.9M270.0 319.2h.9M269.4 312.7h.9M271.3 318.3h.9M277.3 318.6h.9M272.6 315.5h.9M273.8 320.2h.9M272.5 320.3h.9M268.9 317.1h.9M275.4 317.9h.9M272.2 314.4h.9M264.8 316.6h.9M268.4 315.8h.9M277.1 312.1h.9M275.1 315.4h.9M267.9 317.8h.9M273.7 311.6h.9M267.3 316.2h.9M274.1 313.6h.9M273.9 317.4h.9M272.4 317.8h.9M276.5 314.4h.9M272.2 312.4h.9M269.1 316.7h.9M274.3 313.2h.9M267.6 320.8h.9M278.4 305.3h.9M268.1 317.8h.9M272.9 312.7h.9M274.2 319.6h.9M271.6 319.0h.9M271.6 313.1h.9M269.1 314.9h.9M277.9 318.8h.9M271.4 310.8h.9M269.7 315.4h.9M264.8 318.2h.9M271.8 311.6h.9M269.9 315.2h.9M279.3 316.7h.9M274.8 315.8h.9M268.0 320.7h.9M267.7 310.6h.9M274.3 314.4h.9M272.4 318.0h.9M271.4 317.9h.9M276.4 314.0h.9M270.6 316.7h.9M273.9 314.3h.9M271.6 313.9h.9M272.1 318.2h.9M268.7 316.5h.9M265.9 315.4h.9M272.7 318.0h.9M268.0 317.0h.9M268.8 318.3h.9M273.3 317.5h.9M269.9 311.8h.9M268.7 312.4h.9M269.4 316.8h.9M275.3 313.1h.9M269.3 317.7h.9M266.1 325.0h.9M267.2 321.2h.9M276.4 318.5h.9M272.2 318.8h.9M271.5 319.8h.9M268.8 314.2h.9M272.9 314.4h.9M273.6 312.8h.9M272.0 312.8h.9M273.5 323.6h.9M266.9 313.3h.9M265.8 317.1h.9M277.5 313.2h.9M275.2 314.8h.9M271.4 323.6h.9M274.2 309.1h.9M268.7 318.6h.9M274.1 314.9h.9M273.5 317.8h.9M271.5 320.0h.9M269.5 319.6h.9M275.4 316.1h.9M270.6 316.6h.9M264.0 319.3h.9" stroke="#000" stroke-width=".9" fill="none"/>
<ellipse cx="300.1" cy="307.0" rx="8.5" ry="8.0" fill="url(#rgg)" transform="rotate(-15 300.1 307.0)"/>
<path d="M293.1 301.7h.9M302.1 303.2h.9M301.5 306.8h.9M292.9 305.7h.9M299.5 308.8h.9M299.2 302.7h.9M298.3 307.9h.9M295.1 306.8h.9M296.2 300.5h.9M307.2 308.2h.9M299.3 310.6h.9M297.7 313.1h.9M298.9 307.8h.9M298.1 307.9h.9M301.3 306.8h.9M297.8 310.3h.9M302.1 306.5h.9M303.3 303.5h.9M304.6 305.2h.9M305.2 304.0h.9M299.4 308.0h.9M305.4 310.7h.9M297.8 305.0h.9M304.0 310.4h.9M302.4 305.2h.9M304.7 305.7h.9M301.3 308.9h.9M296.0 300.0h.9M301.5 309.2h.9M302.2 308.4h.9M301.6 310.3h.9M301.9 311.9h.9M301.0 309.6h.9M298.4 308.5h.9M301.8 307.0h.9M305.8 305.6h.9M304.5 307.1h.9M303.3 302.9h.9M299.6 310.6h.9M297.5 309.1h.9M302.3 307.1h.9M302.2 308.4h.9M299.6 308.6h.9M297.8 306.0h.9M294.2 308.2h.9M293.9 308.8h.9M299.9 303.2h.9M300.6 307.9h.9M298.0 304.3h.9M300.1 308.5h.9M305.2 312.5h.9M293.2 310.1h.9M301.1 304.5h.9M303.1 313.7h.9M301.7 311.4h.9M303.6 304.5h.9M292.7 313.1h.9M304.1 299.6h.9M298.8 304.9h.9M300.9 307.0h.9M303.7 303.9h.9M305.6 299.4h.9M303.3 315.7h.9M300.3 309.2h.9M301.3 318.5h.9M303.0 305.0h.9M293.3 309.6h.9M301.0 299.5h.9M298.8 309.3h.9M291.2 308.7h.9M293.1 304.1h.9M302.6 310.4h.9M303.8 303.7h.9M300.4 300.6h.9M295.2 310.3h.9M297.7 304.0h.9M293.1 308.0h.9M306.4 298.1h.9M297.3 311.8h.9M292.6 306.8h.9M301.4 310.7h.9M301.5 313.2h.9M299.9 306.7h.9M302.0 307.7h.9M293.8 305.3h.9M299.6 308.4h.9M295.0 305.8h.9M297.7 308.9h.9M299.1 309.4h.9M300.7 303.6h.9M297.9 303.1h.9M301.2 309.6h.9M294.9 302.0h.9M301.7 305.5h.9M300.4 308.6h.9M302.3 309.7h.9M296.5 300.1h.9M298.0 306.5h.9M299.0 308.7h.9M300.4 311.6h.9M297.8 307.6h.9M300.7 314.4h.9M295.7 304.6h.9M299.4 309.9h.9M300.0 306.4h.9M292.9 301.5h.9M299.1 306.4h.9M306.9 306.5h.9M302.5 309.8h.9M295.7 303.7h.9M300.1 312.3h.9M303.2 304.1h.9M296.4 311.3h.9M303.1 302.2h.9M305.3 302.8h.9M302.7 305.6h.9M298.3 305.3h.9M303.2 308.4h.9M302.8 305.3h.9M298.9 315.0h.9M306.2 304.7h.9M297.2 313.2h.9M300.6 307.1h.9M303.6 307.3h.9M302.3 313.6h.9M293.7 311.0h.9M296.5 308.2h.9M299.7 308.1h.9M291.8 311.7h.9M308.3 303.3h.9M304.0 308.2h.9M300.7 305.0h.9M302.7 307.3h.9M306.2 308.4h.9M294.8 297.9h.9M306.1 307.2h.9M300.2 304.8h.9M310.6 309.0h.9M300.1 305.7h.9M303.5 311.0h.9M302.9 309.7h.9M301.4 307.9h.9M295.5 308.7h.9M300.2 306.7h.9M299.5 308.3h.9M297.8 306.9h.9M297.3 316.1h.9M295.7 303.8h.9M297.7 306.1h.9M293.9 299.8h.9M307.1 308.8h.9M299.2 309.3h.9M294.5 302.6h.9M301.9 308.6h.9M297.5 307.7h.9M288.6 309.6h.9M304.2 306.5h.9M301.3 308.8h.9M291.2 304.7h.9M295.6 309.1h.9M296.1 301.3h.9M303.2 305.5h.9M305.6 312.8h.9M292.8 304.4h.9M305.4 310.7h.9M301.9 307.8h.9M303.3 308.5h.9M296.0 310.8h.9M303.4 304.6h.9M296.2 306.3h.9M298.4 309.4h.9M303.0 306.3h.9M297.4 301.3h.9M297.6 304.1h.9M298.3 308.7h.9M303.9 318.6h.9M296.4 306.1h.9M295.6 307.3h.9M299.9 310.7h.9M293.6 312.0h.9M302.0 304.6h.9M297.7 308.3h.9M301.9 305.9h.9M299.5 307.2h.9M296.3 309.0h.9M302.3 306.6h.9M295.8 308.1h.9M300.0 308.2h.9M299.3 310.2h.9M304.9 308.7h.9M302.1 310.9h.9M299.8 306.5h.9M294.8 308.5h.9M303.8 302.6h.9M301.9 302.0h.9M302.8 312.8h.9M299.2 303.1h.9M301.0 306.2h.9M302.6 304.5h.9M293.2 307.1h.9M303.2 309.8h.9M301.1 306.8h.9M302.5 305.7h.9M298.6 308.2h.9M303.7 304.2h.9M301.4 304.4h.9M297.5 308.3h.9M294.4 305.5h.9M295.1 306.2h.9M298.8 315.7h.9M302.4 306.6h.9M293.0 300.5h.9M301.2 304.5h.9M303.7 304.7h.9M294.6 306.2h.9M293.1 303.9h.9M302.3 304.5h.9M302.2 304.5h.9M298.7 305.4h.9M297.5 305.4h.9M305.6 305.3h.9M294.3 314.6h.9M305.8 309.5h.9M299.5 306.6h.9M298.4 307.9h.9M301.8 306.5h.9M296.1 304.6h.9M307.8 310.9h.9M294.9 306.2h.9M300.4 309.0h.9M299.9 307.9h.9M302.4 310.4h.9M296.2 311.9h.9M302.2 308.4h.9M294.2 307.8h.9M299.7 309.4h.9M303.2 308.6h.9M296.3 312.5h.9M301.1 310.0h.9M299.4 304.7h.9M310.5 306.5h.9M302.5 304.7h.9M300.2 310.9h.9M303.3 312.3h.9M303.6 302.3h.9M295.3 312.4h.9M302.1 305.6h.9M298.5 305.5h.9M306.6 304.7h.9M295.7 311.4h.9M300.1 308.3h.9M298.6 307.3h.9M293.5 310.7h.9M297.1 306.5h.9M302.4 310.9h.9M291.9 308.8h.9M303.0 309.8h.9M296.9 309.0h.9M302.4 309.7h.9M297.6 307.0h.9M299.1 311.3h.9M303.7 304.5h.9M299.7 307.9h.9M296.6 307.6h.9M304.0 308.7h.9M296.9 305.6h.9M298.3 302.4h.9M301.3 307.1h.9M294.8 307.6h.9M297.3 306.8h.9M297.9 312.4h.9M297.1 310.5h.9M302.1 311.5h.9M299.8 307.1h.9M298.7 300.9h.9M308.9 303.9h.9M297.9 303.7h.9M300.9 312.4h.9M297.6 309.2h.9M304.7 309.1h.9M297.0 301.8h.9M302.1 308.5h.9M298.4 306.0h.9M305.3 300.2h.9M297.6 305.6h.9M293.6 306.4h.9M298.1 311.9h.9M292.3 304.4h.9M299.7 301.8h.9M292.0 307.1h.9M294.7 305.1h.9M299.8 308.7h.9M297.4 306.8h.9M302.6 305.8h.9M302.3 304.4h.9M303.0 310.7h.9M297.4 318.1h.9M298.5 306.3h.9M299.8 308.7h.9M295.5 308.4h.9M299.1 312.2h.9M294.1 310.9h.9M298.2 305.0h.9M300.4 306.2h.9M300.4 307.8h.9M304.2 304.6h.9M304.0 296.7h.9M307.9 309.1h.9M306.1 306.1h.9M300.2 303.5h.9M304.1 302.0h.9M297.1 307.9h.9M301.2 307.9h.9M295.4 307.1h.9M302.9 310.4h.9M303.3 307.6h.9M298.6 305.6h.9M298.0 307.3h.9M301.6 304.9h.9M306.9 301.8h.9M302.9 305.6h.9M299.2 306.0h.9M305.6 304.6h.9M302.2 306.9h.9M303.4 308.2h.9M305.6 303.1h.9M298.4 313.3h.9M304.9 306.0h.9M299.2 308.2h.9M304.3 303.3h.9M305.4 305.4h.9M298.3 306.2h.9M292.4 310.2h.9M294.6 306.6h.9M296.9 308.7h.9M302.8 306.5h.9M301.1 308.2h.9M306.6 307.3h.9M305.9 305.3h.9M300.8 304.6h.9M301.5 303.7h.9M301.3 304.6h.9M299.8 311.3h.9M301.3 309.5h.9M297.5 301.4h.9M305.4 305.0h.9M298.4 310.7h.9M295.1 305.8h.9M303.8 303.7h.9M304.0 305.0h.9M299.3 307.5h.9M299.1 311.0h.9M304.2 306.2h.9M302.8 308.2h.9M305.0 300.3h.9M304.7 309.0h.9M298.9 307.4h.9M299.8 311.4h.9M296.3 310.2h.9M305.4 307.6h.9M297.9 306.1h.9M291.2 305.9h.9M303.3 303.0h.9M293.7 307.9h.9M294.9 310.0h.9M297.6 311.0h.9M298.4 302.7h.9M296.6 305.8h.9M297.9 311.9h.9M296.6 309.2h.9M298.4 309.5h.9M293.3 303.5h.9M303.2 311.1h.9M294.6 307.5h.9M297.3 304.6h.9M303.7 306.3h.9M294.7 307.8h.9M304.5 303.5h.9M297.4 305.0h.9M300.2 305.1h.9" stroke="#00ff00" stroke-width=".9" fill="none"/>
<rect x="332" y="229" width="123" height="113" fill="#fff"/>
<ellipse cx="348.4" cy="247.0" rx="9.240000000000002" ry="7.040000000000001" fill="url(#rgc)" transform="rotate(-20 348.4 247.0)"/>
<path d="M351.0 243.4h.9M343.1 250.4h.9M334.9 248.9h.9M349.7 247.4h.9M345.6 246.6h.9M354.2 256.9h.9M345.0 247.7h.9M347.1 249.3h.9M349.0 248.6h.9M354.5 244.0h.9M347.6 248.6h.9M356.2 243.1h.9M356.2 248.0h.9M336.6 248.2h.9M344.9 249.6h.9M353.6 245.3h.9M351.2 253.0h.9M352.0 252.7h.9M346.5 253.0h.9M343.9 240.9h.9M344.6 246.9h.9M349.0 249.3h.9M351.6 247.6h.9M347.3 253.2h.9M353.1 245.5h.9M346.1 247.8h.9M346.8 245.4h.9M347.6 245.2h.9M350.2 244.3h.9M350.6 247.3h.9M349.6 248.3h.9M347.0 255.8h.9M346.4 250.1h.9M348.0 245.8h.9M356.4 247.7h.9M347.9 249.1h.9M352.7 250.6h.9M352.2 245.1h.9M346.2 244.1h.9M350.3 249.1h.9M347.5 249.5h.9M348.4 245.6h.9M344.7 252.0h.9M358.9 245.0h.9M343.0 245.7h.9M350.0 248.6h.9M351.9 238.0h.9M355.8 244.9h.9M349.3 248.0h.9M346.7 246.8h.9M350.7 240.6h.9M348.5 248.8h.9M341.7 249.0h.9M354.8 245.9h.9M351.9 248.1h.9M349.6 247.8h.9M344.9 247.6h.9M354.4 240.9h.9M346.4 243.7h.9M345.5 245.6h.9M343.8 249.5h.9M345.2 249.9h.9M352.9 237.2h.9M345.6 241.3h.9M348.3 248.3h.9M350.5 250.2h.9M347.2 241.9h.9M353.3 242.2h.9M348.4 248.1h.9M345.0 248.6h.9M352.5 240.1h.9M341.3 248.2h.9M346.4 243.6h.9M340.2 253.0h.9M348.5 242.7h.9M350.6 246.0h.9M347.6 243.0h.9M348.0 248.7h.9M340.4 246.6h.9M354.3 251.4h.9M350.9 245.9h.9M343.7 247.4h.9M347.9 248.7h.9M350.0 254.5h.9M351.3 238.9h.9M343.8 248.7h.9M352.7 246.8h.9M335.8 246.3h.9M354.3 246.8h.9M359.3 245.7h.9M351.8 250.8h.9M346.1 246.1h.9M344.7 249.2h.9M351.1 249.1h.9M354.8 246.8h.9M353.0 244.6h.9M345.3 250.5h.9M353.8 249.4h.9M347.3 245.9h.9M347.3 248.6h.9M348.0 246.6h.9M349.1 245.8h.9M349.1 244.8h.9M342.0 248.4h.9M355.0 242.0h.9M353.4 249.6h.9M346.5 248.6h.9M340.0 252.0h.9M354.7 245.4h.9M339.9 248.2h.9M345.6 248.4h.9M349.1 245.4h.9M346.3 245.1h.9M350.9 246.8h.9M349.2 245.1h.9M350.0 245.5h.9M349.4 246.1h.9M344.6 244.8h.9M339.6 245.8h.9M353.6 255.8h.9M341.1 247.0h.9M352.1 257.3h.9M346.4 244.0h.9M352.3 252.4h.9M336.1 247.7h.9M352.1 241.9h.9M347.3 245.4h.9M349.9 241.7h.9M349.9 247.2h.9M351.1 247.4h.9M347.1 241.7h.9M346.1 244.8h.9M350.3 245.6h.9M350.2 250.0h.9M349.8 252.1h.9M350.1 241.5h.9M347.4 251.4h.9M347.7 251.2h.9M346.0 247.5h.9M350.8 241.0h.9M348.2 245.6h.9M350.9 251.7h.9M348.9 242.4h.9M351.7 244.3h.9M350.3 250.1h.9M348.2 250.2h.9M348.2 244.1h.9M345.7 243.5h.9M353.3 245.8h.9M351.1 242.4h.9M350.5 242.3h.9M349.5 246.6h.9M346.4 248.8h.9M347.6 244.4h.9M344.1 244.3h.9M354.0 245.5h.9M347.7 249.5h.9M343.8 244.9h.9M351.5 251.1h.9M349.8 247.0h.9M353.7 240.0h.9M359.3 239.4h.9M346.7 243.2h.9M343.3 248.1h.9M357.1 240.8h.9M346.3 248.7h.9M344.1 247.7h.9M349.3 239.5h.9M346.9 246.6h.9M346.3 247.4h.9M340.8 248.3h.9M345.3 244.8h.9M355.5 251.0h.9M350.6 243.3h.9M354.5 246.4h.9M345.8 249.9h.9M346.7 249.5h.9M353.3 249.0h.9M344.1 248.1h.9M347.1 243.4h.9M350.8 248.4h.9M342.4 247.4h.9M342.7 244.9h.9M345.6 252.5h.9M345.4 246.8h.9M353.4 248.6h.9M351.8 238.9h.9M349.5 240.8h.9M345.5 246.7h.9M348.2 253.5h.9M349.0 250.7h.9M347.6 247.1h.9M350.9 247.6h.9M348.5 241.2h.9M350.7 247.2h.9M350.7 246.0h.9M348.6 242.6h.9M351.6 241.8h.9M355.0 247.9h.9M347.8 246.2h.9M351.1 245.0h.9M344.0 249.5h.9M343.1 247.4h.9M356.3 246.8h.9M346.5 247.4h.9M345.8 247.9h.9M343.4 251.1h.9M347.8 245.2h.9M348.8 255.6h.9M346.1 246.2h.9M345.6 246.4h.9M354.3 247.1h.9M350.4 247.5h.9M341.3 241.6h.9M355.1 246.9h.9M349.6 247.5h.9M349.2 246.8h.9M345.0 240.9h.9M350.7 246.3h.9M352.6 246.5h.9M347.9 249.2h.9M348.7 245.4h.9M346.5 246.3h.9M346.7 246.1h.9M355.4 254.1h.9M349.1 250.4h.9M337.2 240.4h.9M346.4 247.2h.9M344.0 244.1h.9M344.5 246.7h.9M348.6 245.8h.9M343.3 247.6h.9M353.4 242.3h.9M349.7 249.9h.9M344.6 246.5h.9M361.1 246.5h.9M346.5 248.2h.9M349.0 247.3h.9M349.9 245.5h.9M338.6 247.4h.9M347.5 242.8h.9M348.7 251.9h.9M348.6 244.7h.9M350.1 249.9h.9M340.3 245.8h.9M345.3 246.7h.9M347.4 245.4h.9M348.9 247.1h.9M343.1 246.8h.9M343.8 249.6h.9M350.1 248.5h.9M344.4 246.7h.9M339.7 250.2h.9M342.4 250.3h.9M353.1 246.8h.9M351.1 246.8h.9M350.9 249.2h.9M355.5 251.1h.9M348.2 249.8h.9M352.3 247.0h.9M348.1 242.9h.9M351.8 242.9h.9M344.9 245.4h.9M349.6 243.4h.9M350.8 248.0h.9M348.4 245.9h.9M352.1 250.0h.9M345.5 244.6h.9M345.1 245.3h.9M347.3 246.9h.9M340.9 254.6h.9M344.7 246.9h.9M338.6 244.1h.9M344.6 249.1h.9M349.8 240.5h.9M350.9 251.1h.9M348.3 250.1h.9M348.6 243.9h.9M351.7 243.8h.9M349.4 245.3h.9M347.7 247.8h.9M351.8 240.2h.9M344.1 248.9h.9M352.0 245.1h.9M348.2 248.8h.9M353.6 242.1h.9M341.8 248.5h.9M350.0 242.1h.9M353.8 248.1h.9M350.6 243.4h.9M344.0 250.8h.9M350.2 248.6h.9M340.0 240.3h.9M353.9 248.3h.9M347.3 247.4h.9M351.0 248.5h.9M347.1 245.8h.9M345.6 251.4h.9M345.2 236.9h.9M349.1 244.8h.9M342.8 247.3h.9M342.9 247.5h.9M346.8 249.3h.9M342.5 243.1h.9M344.6 243.9h.9M351.1 245.3h.9M340.9 246.8h.9M348.2 246.9h.9M341.0 249.3h.9M350.6 249.5h.9M352.6 245.1h.9M342.9 247.8h.9M350.0 243.4h.9M352.3 242.4h.9M344.8 251.0h.9M348.3 248.1h.9M347.2 247.5h.9M348.1 253.4h.9M350.8 245.7h.9M351.1 248.7h.9M346.5 248.3h.9M348.6 245.1h.9M345.1 247.5h.9M346.8 246.2h.9M340.8 250.0h.9M351.0 246.3h.9M356.1 247.1h.9M346.3 245.5h.9M350.0 245.2h.9M342.2 249.7h.9M347.0 246.8h.9M351.0 246.7h.9M355.6 241.9h.9M348.3 248.0h.9M346.1 246.1h.9M353.7 240.3h.9M347.9 241.4h.9M347.7 240.9h.9M345.0 252.0h.9M354.6 245.2h.9M338.8 253.8h.9M348.2 243.4h.9M345.6 243.7h.9M347.9 246.9h.9M349.7 249.1h.9M343.5 241.5h.9M342.5 245.0h.9M346.5 246.3h.9M349.7 251.0h.9M347.4 243.8h.9M346.3 244.9h.9M348.1 249.0h.9M344.7 250.7h.9M357.0 248.9h.9M354.9 244.9h.9M345.2 254.8h.9M348.4 247.7h.9M346.0 244.8h.9M349.4 242.1h.9M343.6 250.6h.9M346.0 245.1h.9M351.8 250.4h.9M347.1 247.0h.9M351.6 248.9h.9M353.2 247.5h.9M346.3 249.5h.9M346.6 242.1h.9M353.9 246.9h.9M353.7 244.9h.9M351.2 245.8h.9M350.0 249.4h.9M349.3 248.7h.9M349.6 250.6h.9M349.2 241.3h.9M355.4 245.9h.9M345.7 245.9h.9M356.3 244.4h.9M351.0 248.0h.9M347.9 252.9h.9M355.8 241.7h.9" stroke="#00ffff" stroke-width=".9" fill="none"/>
<ellipse cx="377.9" cy="246.3" rx="9.240000000000002" ry="6.6000000000000005" fill="url(#rgb)" transform="rotate(0 377.9 246.3)"/>
<path d="M382.6 241.6h.9M376.5 246.5h.9M378.1 247.9h.9M379.6 247.4h.9M377.3 247.2h.9M375.6 252.0h.9M378.2 249.9h.9M378.3 245.9h.9M377.1 242.6h.9M386.6 247.5h.9M378.4 245.0h.9M383.2 245.4h.9M376.0 244.7h.9M384.3 247.2h.9M377.3 244.5h.9M383.3 247.1h.9M376.5 248.9h.9M381.6 243.4h.9M382.7 249.4h.9M376.9 242.5h.9M382.5 245.3h.9M377.1 245.5h.9M376.8 248.7h.9M373.4 247.8h.9M382.7 249.3h.9M380.9 247.1h.9M377.1 246.0h.9M374.3 251.1h.9M377.4 243.4h.9M381.4 250.6h.9M379.1 245.4h.9M373.3 248.2h.9M376.9 244.4h.9M380.4 242.6h.9M381.0 239.3h.9M375.4 242.2h.9M376.9 248.6h.9M372.5 250.2h.9M375.1 244.9h.9M382.0 244.2h.9M384.0 245.7h.9M377.5 243.6h.9M382.7 246.1h.9M375.9 243.6h.9M375.3 246.0h.9M375.0 248.6h.9M377.8 244.5h.9M379.8 250.4h.9M369.3 247.3h.9M382.4 246.7h.9M381.3 241.9h.9M374.9 249.2h.9M377.6 246.5h.9M380.5 247.4h.9M379.8 244.9h.9M376.7 250.0h.9M375.9 242.2h.9M376.5 248.9h.9M385.3 246.7h.9M375.4 248.0h.9M379.2 249.7h.9M380.1 248.5h.9M380.1 247.5h.9M374.2 245.8h.9M384.6 250.1h.9M381.9 247.4h.9M377.5 247.3h.9M376.6 249.4h.9M376.7 244.1h.9M371.3 250.7h.9M374.9 243.9h.9M379.6 251.4h.9M380.7 245.4h.9M380.3 244.0h.9M377.0 246.4h.9M378.0 248.5h.9M380.2 251.7h.9M381.4 245.5h.9M379.0 243.9h.9M375.5 245.3h.9M382.2 244.3h.9M371.6 243.4h.9M373.1 245.8h.9M376.8 243.0h.9M374.8 245.1h.9M379.6 248.0h.9M383.4 245.6h.9M380.6 246.5h.9M373.5 244.5h.9M387.0 245.9h.9M384.8 248.7h.9M384.8 245.8h.9M381.8 245.4h.9M373.5 243.0h.9M379.8 241.7h.9M379.5 243.8h.9M379.5 242.4h.9M381.5 245.7h.9M371.8 242.2h.9M378.3 241.7h.9M379.4 247.7h.9M375.4 250.3h.9M383.9 247.2h.9M379.9 247.6h.9M377.0 250.0h.9M375.9 239.2h.9M378.1 247.6h.9M381.4 243.2h.9M383.7 244.0h.9M380.6 248.4h.9M378.8 249.5h.9M376.1 252.1h.9M380.1 245.1h.9M388.7 246.3h.9M371.5 250.3h.9M384.4 244.7h.9M374.0 249.5h.9M378.3 243.6h.9M376.1 246.5h.9M382.1 250.7h.9M375.5 250.7h.9M371.9 248.3h.9M377.5 247.5h.9M376.3 244.3h.9M379.2 249.5h.9M369.1 246.5h.9M376.4 243.3h.9M372.6 247.8h.9M380.3 248.1h.9M370.0 242.0h.9M375.6 245.1h.9M385.2 245.2h.9M378.6 249.1h.9M384.9 247.4h.9M379.5 251.8h.9M376.4 241.2h.9M375.0 245.4h.9M383.4 247.2h.9M383.0 246.6h.9M378.2 244.7h.9M373.1 247.7h.9M379.5 247.9h.9M375.9 245.1h.9M379.6 248.0h.9M386.2 243.8h.9M382.1 248.8h.9M377.0 246.7h.9M377.8 250.6h.9M388.4 247.2h.9M377.0 249.0h.9M380.1 245.8h.9M381.1 248.8h.9M376.5 248.7h.9M369.0 242.7h.9M376.8 246.8h.9M372.2 250.5h.9M376.5 246.7h.9M377.9 248.5h.9M375.7 248.4h.9M374.7 242.1h.9M380.2 246.8h.9M381.7 240.8h.9M378.5 244.5h.9M377.3 245.2h.9M376.6 244.4h.9M382.2 241.4h.9M371.3 247.3h.9M386.3 244.1h.9M374.4 243.0h.9M373.9 249.9h.9M380.8 248.9h.9M379.5 247.0h.9M375.7 243.6h.9M380.6 253.4h.9M376.6 249.9h.9M375.2 246.4h.9M385.0 246.1h.9M380.7 244.7h.9M385.7 242.8h.9M380.4 245.6h.9M378.9 247.3h.9M383.4 248.8h.9M382.4 247.4h.9M373.7 250.1h.9M384.3 247.7h.9M381.3 245.6h.9M372.2 249.1h.9M375.1 251.8h.9M380.9 246.3h.9M375.6 246.6h.9M374.0 245.2h.9M384.6 245.5h.9M385.5 246.0h.9M379.8 243.7h.9M376.9 245.0h.9M372.4 251.8h.9M380.5 246.1h.9M373.6 246.4h.9M373.8 243.5h.9M377.3 252.5h.9M371.0 247.9h.9M375.8 238.0h.9M372.3 245.9h.9M378.3 244.2h.9M385.3 247.8h.9M375.5 241.6h.9M378.8 244.4h.9M382.2 243.3h.9M382.9 245.0h.9M378.9 245.5h.9M380.6 249.6h.9M375.8 243.7h.9M385.8 249.0h.9M385.8 249.0h.9M378.6 251.0h.9M375.3 245.1h.9M376.4 248.3h.9M374.6 245.8h.9M374.6 245.6h.9M382.6 249.5h.9M377.2 253.6h.9M375.2 247.6h.9M376.1 240.0h.9M373.2 249.9h.9M371.3 254.7h.9M377.5 247.1h.9M383.2 246.4h.9M375.5 244.6h.9M374.2 247.9h.9M376.1 247.8h.9M371.9 245.1h.9M386.4 247.3h.9M377.6 249.7h.9M379.2 250.7h.9M373.3 248.5h.9M373.7 248.3h.9M388.1 250.7h.9M374.5 247.5h.9M379.9 244.2h.9M379.0 243.3h.9M382.0 248.9h.9M377.4 248.3h.9M387.8 245.8h.9M370.4 247.3h.9M376.2 244.1h.9M381.7 249.2h.9M380.5 251.0h.9M375.4 245.1h.9M379.7 238.6h.9M366.9 247.3h.9M377.2 246.5h.9M374.1 247.0h.9M382.3 244.5h.9M380.3 245.9h.9M377.4 246.6h.9M384.2 247.8h.9M380.8 246.7h.9M369.2 249.0h.9M377.9 246.6h.9M375.9 241.9h.9M384.1 251.6h.9M384.4 241.0h.9M380.3 242.9h.9M377.2 244.8h.9M375.5 244.1h.9M376.0 248.5h.9M384.6 249.0h.9M378.0 245.9h.9M377.0 246.2h.9M375.5 245.8h.9M381.5 245.7h.9M374.7 246.0h.9M378.3 246.1h.9M376.9 248.3h.9M377.8 243.4h.9M380.3 244.3h.9M381.2 248.7h.9M380.0 247.2h.9M372.5 245.7h.9M378.5 248.1h.9M373.4 245.9h.9M371.7 246.8h.9M378.3 246.7h.9M384.8 248.4h.9M377.2 244.6h.9M376.2 248.6h.9M381.7 244.9h.9M377.5 245.1h.9M380.8 246.9h.9M375.0 243.8h.9M383.3 242.3h.9M370.5 237.5h.9M386.3 244.8h.9M381.5 247.9h.9M381.4 249.6h.9M376.1 246.3h.9M382.0 247.9h.9M374.9 244.1h.9M372.0 247.1h.9M375.8 241.8h.9M375.7 247.2h.9M378.7 245.7h.9M378.6 248.2h.9M373.0 244.0h.9M382.0 248.4h.9M372.2 244.2h.9M384.0 248.5h.9M377.4 249.2h.9M383.6 250.4h.9M372.2 242.6h.9M375.9 246.2h.9M376.5 247.0h.9M384.1 249.5h.9M382.1 246.3h.9M384.8 247.6h.9M379.0 246.3h.9M370.4 252.5h.9M377.9 248.9h.9M387.3 245.8h.9M373.2 249.2h.9M379.0 243.6h.9M382.0 246.3h.9M374.1 239.1h.9M373.9 247.4h.9M373.7 249.1h.9M387.1 247.2h.9M378.9 246.1h.9M381.5 246.4h.9M382.3 250.4h.9M381.5 243.6h.9M380.7 245.6h.9M379.3 249.1h.9M375.2 246.9h.9M384.1 243.9h.9M377.2 248.4h.9M377.0 249.2h.9M373.8 242.0h.9M379.5 245.9h.9M379.3 249.1h.9M382.3 245.3h.9M376.4 240.8h.9M373.9 247.0h.9M378.9 242.1h.9M381.2 246.2h.9M382.5 245.3h.9M382.0 243.1h.9M370.3 244.0h.9M380.9 247.5h.9M370.1 246.7h.9M380.8 251.1h.9M381.2 247.8h.9M371.4 247.4h.9M369.8 245.5h.9M376.4 243.5h.9M373.8 245.9h.9M380.4 244.5h.9M379.2 248.3h.9M377.9 251.8h.9M376.7 244.2h.9M370.1 249.4h.9M380.8 245.8h.9M379.3 245.9h.9M381.6 246.3h.9M378.9 246.1h.9M374.3 240.0h.9M380.2 242.8h.9M379.6 248.1h.9M385.8 244.2h.9M378.6 249.0h.9M375.2 244.6h.9M379.8 252.2h.9M382.5 249.0h.9M374.0 248.2h.9M382.7 242.7h.9M378.0 245.8h.9M380.7 241.4h.9M380.9 246.3h.9M376.9 240.3h.9M369.4 244.8h.9M380.7 247.5h.9" stroke="#0000ff" stroke-width=".9" fill="none"/>
<ellipse cx="406.7" cy="246.3" rx="8.8" ry="6.6000000000000005" fill="url(#rgc)" transform="rotate(0 406.7 246.3)"/>
<path d="M409.7 241.5h.9M407.6 250.1h.9M400.6 248.2h.9M403.9 247.9h.9M407.2 241.7h.9M402.6 249.9h.9M406.3 249.8h.9M408.1 248.8h.9M405.2 246.9h.9M405.3 248.9h.9M404.5 249.5h.9M413.0 242.9h.9M406.1 247.8h.9M413.8 249.6h.9M407.1 241.4h.9M410.1 244.6h.9M407.5 247.5h.9M401.2 249.3h.9M410.4 247.9h.9M409.1 247.3h.9M401.2 244.9h.9M410.0 245.4h.9M406.9 247.4h.9M407.1 247.0h.9M408.7 246.3h.9M402.4 245.5h.9M410.5 244.4h.9M408.6 247.2h.9M403.3 238.3h.9M406.7 244.1h.9M404.3 249.0h.9M403.7 247.3h.9M407.2 246.9h.9M414.6 240.7h.9M410.6 245.9h.9M405.7 244.4h.9M406.9 246.4h.9M403.1 250.9h.9M403.8 245.9h.9M401.7 246.7h.9M408.2 249.4h.9M410.6 244.9h.9M413.1 246.0h.9M412.9 251.2h.9M405.2 243.3h.9M408.9 250.4h.9M408.3 249.4h.9M409.1 248.8h.9M412.0 245.5h.9M401.2 246.0h.9M403.6 242.9h.9M406.1 248.3h.9M399.5 242.0h.9M409.9 243.8h.9M405.2 250.1h.9M411.2 247.3h.9M408.9 238.6h.9M408.9 247.4h.9M401.3 246.8h.9M408.6 246.0h.9M409.9 248.8h.9M407.0 245.6h.9M402.1 249.5h.9M404.5 247.2h.9M412.8 248.5h.9M401.7 246.1h.9M403.9 241.7h.9M403.6 248.0h.9M408.1 245.7h.9M407.4 243.0h.9M403.7 245.8h.9M409.9 245.4h.9M406.1 247.2h.9M412.5 242.7h.9M408.9 246.8h.9M406.5 247.0h.9M398.9 246.4h.9M405.8 242.8h.9M410.1 246.0h.9M405.4 248.4h.9M403.1 244.3h.9M410.0 248.8h.9M414.7 245.0h.9M401.0 242.1h.9M402.0 246.6h.9M405.8 244.4h.9M402.8 244.3h.9M405.3 249.7h.9M409.2 250.2h.9M410.0 248.5h.9M411.4 247.6h.9M412.8 249.5h.9M413.9 246.9h.9M403.7 253.4h.9M405.6 247.8h.9M405.3 244.3h.9M408.5 243.1h.9M406.1 250.3h.9M407.2 248.6h.9M409.3 247.4h.9M407.2 248.0h.9M402.9 247.9h.9M402.5 244.2h.9M404.4 242.5h.9M399.0 247.4h.9M408.7 248.2h.9M415.4 246.8h.9M409.7 244.2h.9M409.5 243.1h.9M414.5 243.6h.9M405.1 248.4h.9M398.1 250.1h.9M403.0 246.9h.9M410.6 246.7h.9M410.4 244.9h.9M409.1 240.2h.9M412.7 244.4h.9M403.3 246.4h.9M413.4 244.3h.9M406.6 245.3h.9M403.1 242.6h.9M409.1 248.3h.9M403.8 246.9h.9M408.5 247.4h.9M406.1 246.4h.9M407.8 243.3h.9M406.2 248.5h.9M404.5 250.0h.9M405.8 243.2h.9M405.6 242.5h.9M409.1 241.8h.9M406.8 245.6h.9M405.5 247.5h.9M407.9 244.7h.9M410.0 245.0h.9M410.3 250.1h.9M408.2 248.9h.9M401.4 247.9h.9M400.8 245.8h.9M409.5 238.7h.9M403.6 244.1h.9M403.0 246.4h.9M409.2 243.0h.9M404.3 241.1h.9M403.9 240.4h.9M400.8 247.6h.9M410.2 244.0h.9M408.1 244.1h.9M410.9 251.2h.9M397.0 243.9h.9M404.2 245.0h.9M412.9 250.7h.9M406.7 248.1h.9M400.4 245.5h.9M405.6 245.9h.9M407.9 241.9h.9M402.6 252.3h.9M399.9 246.5h.9M409.6 247.7h.9M406.9 241.7h.9M404.9 241.9h.9M414.5 247.3h.9M409.6 246.9h.9M405.2 249.6h.9M410.2 248.1h.9M409.0 248.4h.9M405.6 247.5h.9M407.0 245.6h.9M409.3 252.3h.9M398.7 250.4h.9M405.0 249.7h.9M402.7 245.8h.9M410.7 246.1h.9M408.1 242.9h.9M402.2 251.0h.9M407.3 246.1h.9M401.3 243.4h.9M402.6 246.2h.9M406.3 244.6h.9M404.1 246.6h.9M411.3 242.3h.9M401.1 249.5h.9M401.1 245.1h.9M407.2 251.4h.9M398.7 238.1h.9M406.4 249.3h.9M407.3 244.0h.9M407.5 240.5h.9M409.9 250.5h.9M405.9 248.6h.9M402.5 250.5h.9M404.2 244.0h.9M403.7 241.3h.9M409.4 252.0h.9M401.1 245.7h.9M408.5 244.7h.9M400.5 247.2h.9M410.7 246.6h.9M402.5 245.5h.9M399.1 246.1h.9M411.5 249.4h.9M406.4 247.5h.9M404.7 246.7h.9M404.4 246.8h.9M404.7 246.9h.9M409.4 246.2h.9M401.6 247.7h.9M405.7 244.9h.9M408.9 243.9h.9M410.4 247.9h.9M404.0 244.3h.9M406.2 243.7h.9M410.4 239.9h.9M407.3 245.3h.9M402.4 248.1h.9M404.8 247.6h.9M405.0 245.5h.9M408.8 249.0h.9M410.6 246.2h.9M412.5 245.3h.9M401.3 241.0h.9M401.0 243.9h.9M399.7 247.2h.9M406.8 246.2h.9M407.6 246.0h.9M405.7 245.4h.9M406.9 243.1h.9M411.7 250.7h.9M406.8 252.8h.9M402.9 248.9h.9M400.3 248.0h.9M403.8 249.2h.9M407.2 249.0h.9M409.1 247.8h.9M405.6 250.8h.9M408.1 247.7h.9M412.3 245.6h.9M413.6 249.4h.9M407.0 242.2h.9M411.5 245.4h.9M407.1 246.7h.9M410.5 248.1h.9M399.5 244.4h.9M408.1 246.8h.9M409.8 247.9h.9M413.1 244.3h.9M411.8 247.4h.9M407.9 248.2h.9M405.4 248.3h.9M405.9 248.3h.9M403.7 249.6h.9M400.7 244.4h.9M406.5 247.0h.9M403.6 245.2h.9M407.7 249.3h.9M411.8 245.0h.9M406.5 245.4h.9M400.7 245.0h.9M411.2 242.5h.9M418.0 249.1h.9M413.5 246.8h.9M397.7 247.6h.9M413.0 244.7h.9M411.7 248.5h.9M409.8 248.4h.9M409.0 248.1h.9M411.4 247.5h.9M409.2 247.5h.9M407.3 243.8h.9M399.7 243.4h.9M401.9 242.1h.9M409.4 245.4h.9M411.7 255.2h.9M409.8 245.0h.9M408.2 245.7h.9M407.8 252.2h.9M413.0 249.9h.9M407.9 251.4h.9M410.0 248.8h.9M402.1 244.6h.9M407.4 245.7h.9M404.7 240.6h.9M403.8 246.0h.9M407.9 243.3h.9M406.2 251.5h.9M407.4 240.7h.9M406.0 246.3h.9M411.7 246.9h.9M412.1 247.3h.9M411.3 250.2h.9M412.8 246.9h.9M409.3 257.5h.9M401.9 246.9h.9M408.6 244.3h.9M410.0 245.9h.9M409.9 246.9h.9M403.1 249.3h.9M414.6 248.9h.9M407.8 241.4h.9M408.0 246.2h.9M403.6 240.9h.9M408.5 249.1h.9M409.5 252.8h.9M399.3 247.3h.9M406.6 250.4h.9M406.6 243.6h.9M406.5 247.6h.9M403.9 244.1h.9M407.8 248.8h.9M405.8 247.7h.9M404.8 245.3h.9M407.5 249.1h.9M413.0 246.0h.9M408.5 251.9h.9M410.0 245.3h.9M408.4 242.3h.9M398.5 244.1h.9M403.9 242.5h.9M410.8 245.0h.9M407.1 246.5h.9M405.9 243.0h.9M414.3 240.7h.9M406.6 248.3h.9M406.0 246.0h.9M408.0 247.0h.9M405.4 249.4h.9M408.7 250.6h.9M407.1 240.6h.9M400.3 244.9h.9M408.5 241.7h.9M404.5 249.9h.9M408.1 244.3h.9M406.3 246.6h.9M405.1 245.4h.9M404.3 247.0h.9M413.0 250.5h.9M401.9 252.9h.9M406.3 242.3h.9M400.9 246.7h.9M407.7 244.5h.9M403.6 245.7h.9M407.8 248.2h.9M408.9 239.5h.9M404.4 247.1h.9M408.2 248.6h.9M401.0 250.8h.9M402.1 245.7h.9M404.9 245.0h.9M403.7 248.6h.9M409.8 247.3h.9M401.8 244.5h.9M406.5 247.5h.9M404.6 245.6h.9M417.0 246.5h.9M405.6 239.3h.9M403.8 251.0h.9M410.1 242.9h.9M409.8 246.8h.9M403.7 248.6h.9M404.4 245.5h.9M406.8 246.9h.9M405.1 247.2h.9M406.8 246.9h.9M408.3 244.5h.9M401.5 246.1h.9M411.6 247.3h.9M407.6 244.2h.9M402.3 242.8h.9M403.2 245.3h.9M400.8 246.0h.9M400.7 248.2h.9M406.7 241.3h.9M404.6 247.0h.9M408.2 248.5h.9M405.4 245.9h.9M405.9 247.9h.9M404.1 245.9h.9M407.3 245.3h.9M402.6 250.2h.9M408.7 243.7h.9" stroke="#00ffff" stroke-width=".9" fill="none"/>
<ellipse cx="433.3" cy="245.4" rx="10.12" ry="7.26" fill="url(#rgb)" transform="rotate(28 433.3 245.4)"/>
<path d="M442.2 247.4h.9M430.5 242.6h.9M433.3 250.7h.9M437.9 249.9h.9M432.6 247.4h.9M431.3 241.9h.9M435.2 247.1h.9M435.8 243.1h.9M436.5 242.0h.9M437.0 247.4h.9M431.5 242.8h.9M439.7 260.0h.9M428.6 247.8h.9M420.3 242.5h.9M433.1 246.2h.9M431.5 239.8h.9M434.9 244.7h.9M433.8 249.5h.9M432.1 246.7h.9M433.7 246.5h.9M431.0 245.0h.9M435.0 246.6h.9M433.7 240.5h.9M426.9 247.6h.9M436.9 248.4h.9M434.7 245.7h.9M434.6 249.5h.9M431.9 245.8h.9M439.4 243.1h.9M430.5 241.9h.9M429.5 241.8h.9M430.6 242.6h.9M437.0 243.2h.9M431.7 249.5h.9M435.9 242.5h.9M429.3 247.4h.9M433.3 243.2h.9M437.5 245.1h.9M428.1 244.8h.9M434.4 243.7h.9M433.6 249.5h.9M437.5 248.0h.9M434.4 247.8h.9M425.1 247.0h.9M431.6 242.5h.9M431.6 241.1h.9M437.7 247.8h.9M433.8 239.2h.9M434.1 245.7h.9M429.5 243.0h.9M425.3 243.5h.9M427.9 244.3h.9M436.9 239.8h.9M430.0 241.3h.9M435.6 248.8h.9M433.4 251.4h.9M433.0 243.5h.9M427.5 238.7h.9M436.8 244.3h.9M428.5 246.3h.9M421.7 244.2h.9M441.1 243.2h.9M435.2 246.4h.9M437.4 246.4h.9M430.8 249.1h.9M430.4 245.4h.9M436.0 246.5h.9M436.0 248.7h.9M439.1 242.5h.9M428.9 244.1h.9M435.8 251.9h.9M434.5 243.4h.9M432.0 237.8h.9M430.6 246.0h.9M435.3 241.2h.9M432.9 245.4h.9M428.3 248.0h.9M433.5 249.4h.9M435.2 243.0h.9M436.0 250.8h.9M433.1 240.6h.9M437.4 245.6h.9M429.0 242.8h.9M436.6 244.5h.9M432.0 248.3h.9M438.6 242.7h.9M433.5 251.9h.9M437.1 247.1h.9M437.1 241.9h.9M431.9 242.8h.9M441.5 249.8h.9M427.1 248.2h.9M440.6 243.4h.9M435.1 240.4h.9M440.8 241.3h.9M442.2 246.4h.9M426.2 249.2h.9M434.9 247.6h.9M438.2 244.5h.9M437.2 246.5h.9M435.1 247.2h.9M440.7 244.8h.9M427.0 244.4h.9M441.8 251.9h.9M431.7 247.0h.9M428.5 243.2h.9M426.7 242.3h.9M433.7 251.7h.9M430.0 247.0h.9M440.1 245.3h.9M435.0 239.7h.9M429.3 244.9h.9M425.9 240.5h.9M434.1 251.0h.9M423.1 241.4h.9M434.4 237.8h.9M428.5 245.0h.9M432.3 247.4h.9M431.2 246.7h.9M431.0 240.7h.9M435.3 240.3h.9M438.5 247.3h.9M430.8 241.0h.9M429.4 243.8h.9M430.7 247.1h.9M429.0 242.9h.9M428.2 241.1h.9M438.8 247.9h.9M436.9 247.1h.9M430.4 240.8h.9M428.5 244.1h.9M429.9 254.1h.9M438.6 251.3h.9M429.4 243.8h.9M426.3 250.2h.9M428.8 247.2h.9M427.0 244.8h.9M429.3 241.6h.9M433.8 246.2h.9M433.2 245.2h.9M430.2 243.4h.9M434.5 242.7h.9M435.3 247.1h.9M428.5 247.5h.9M434.0 239.0h.9M438.8 247.0h.9M438.4 249.7h.9M428.2 246.8h.9M433.8 249.0h.9M431.2 249.9h.9M437.5 246.4h.9M427.6 242.2h.9M435.1 242.8h.9M430.4 249.3h.9M429.8 247.6h.9M431.2 240.8h.9M437.2 246.9h.9M432.7 248.8h.9M441.5 245.4h.9M435.3 247.3h.9M431.2 250.8h.9M433.3 243.3h.9M438.3 240.8h.9M436.1 243.7h.9M435.7 244.1h.9M435.7 245.8h.9M429.8 245.5h.9M438.6 242.5h.9M428.7 242.1h.9M429.9 248.4h.9M438.8 250.1h.9M438.1 246.8h.9M427.6 243.5h.9M424.1 246.4h.9M432.6 249.2h.9M433.3 239.6h.9M431.8 246.4h.9M433.3 243.6h.9M433.9 245.1h.9M440.7 244.7h.9M424.9 240.6h.9M436.7 241.7h.9M432.5 246.6h.9M434.2 247.0h.9M432.6 239.8h.9M437.6 246.4h.9M425.7 247.0h.9M440.4 239.1h.9M443.2 251.2h.9M425.7 244.8h.9M432.8 249.6h.9M435.9 240.8h.9M433.3 243.9h.9M434.7 245.5h.9M437.3 243.2h.9M432.0 242.9h.9M437.5 241.5h.9M429.8 252.1h.9M424.8 244.6h.9M432.2 248.4h.9M433.2 246.3h.9M434.1 247.5h.9M428.9 242.6h.9M438.3 253.2h.9M431.5 241.0h.9M431.1 248.1h.9M437.8 245.7h.9M424.2 240.4h.9M425.1 245.4h.9M438.1 250.4h.9M434.8 248.3h.9M438.9 252.3h.9M440.7 245.2h.9M431.3 244.4h.9M425.1 240.0h.9M433.3 245.2h.9M443.5 250.1h.9M432.7 244.7h.9M434.1 240.7h.9M437.7 247.8h.9M434.7 246.3h.9M432.7 239.3h.9M431.4 246.3h.9M431.8 247.2h.9M430.7 243.0h.9M434.1 245.5h.9M431.9 249.8h.9M431.5 244.9h.9M430.0 245.6h.9M435.3 243.8h.9M431.2 240.0h.9M432.0 245.3h.9M431.6 244.1h.9M430.3 252.3h.9M434.4 254.4h.9M433.5 246.3h.9M440.3 250.5h.9M436.6 245.4h.9M430.0 246.5h.9M432.0 242.3h.9M427.1 243.2h.9M432.1 246.8h.9M431.8 240.1h.9M437.6 247.8h.9M438.1 243.8h.9M432.1 235.6h.9M433.0 248.8h.9M435.8 253.2h.9M427.8 238.6h.9M432.4 242.1h.9M433.7 242.7h.9M427.7 242.3h.9M435.0 243.5h.9M435.4 241.8h.9M432.5 243.8h.9M431.6 244.3h.9M430.4 239.0h.9M429.0 245.8h.9M431.0 240.8h.9M441.4 248.8h.9M433.1 242.1h.9M438.3 249.9h.9M432.0 250.4h.9M431.2 238.2h.9M437.0 248.9h.9M430.1 246.6h.9M430.0 250.7h.9M427.8 243.8h.9M435.8 249.9h.9M432.5 243.5h.9M430.6 246.4h.9M431.9 244.2h.9M437.5 247.2h.9M434.4 245.6h.9M436.7 239.2h.9M429.1 244.5h.9M431.7 242.3h.9M430.1 252.0h.9M431.8 241.1h.9M425.6 243.0h.9M434.3 242.9h.9M430.2 247.3h.9M436.7 248.6h.9M436.3 250.7h.9M430.3 246.7h.9M432.8 247.9h.9M431.2 252.0h.9M427.9 243.8h.9M425.6 249.7h.9M431.8 243.3h.9M433.3 245.2h.9M440.0 248.8h.9M432.7 248.9h.9M440.6 245.8h.9M436.5 242.3h.9M433.1 250.4h.9M431.7 243.5h.9M437.3 249.1h.9M437.1 245.8h.9M432.6 243.7h.9M441.7 244.4h.9M428.9 248.7h.9M434.7 242.2h.9M434.5 245.3h.9M432.1 246.6h.9M438.6 242.8h.9M431.8 250.1h.9M428.2 242.3h.9M427.8 244.9h.9M430.5 242.7h.9M431.0 245.8h.9M430.3 238.7h.9M432.0 249.6h.9M430.7 245.5h.9M434.2 246.3h.9M434.0 243.8h.9M430.5 248.3h.9M433.1 250.0h.9M430.3 244.2h.9M432.8 240.3h.9M437.2 246.5h.9M436.4 241.9h.9M432.5 244.5h.9M430.2 247.5h.9M434.9 246.7h.9M434.9 244.6h.9M430.9 243.1h.9M429.6 242.8h.9M431.1 248.4h.9M427.9 251.4h.9M431.0 244.7h.9M434.1 243.6h.9M435.7 240.2h.9M438.5 246.1h.9M435.9 240.2h.9M437.4 242.9h.9M440.2 245.2h.9M429.4 245.8h.9M441.3 242.4h.9M424.3 246.5h.9M437.3 242.0h.9M430.5 246.5h.9M429.5 248.9h.9M430.2 244.4h.9M435.5 252.0h.9M433.3 247.5h.9M432.1 244.5h.9M430.5 245.3h.9M438.1 244.3h.9M428.7 243.1h.9M440.7 250.2h.9M433.9 245.5h.9M427.8 239.9h.9M442.3 242.5h.9M442.1 245.7h.9M437.2 257.1h.9M439.3 248.1h.9M436.4 245.0h.9M431.2 245.0h.9M420.2 240.5h.9M433.7 241.6h.9M431.2 246.7h.9M429.7 244.8h.9M427.9 242.9h.9M427.6 245.2h.9M428.3 245.0h.9M425.3 241.8h.9M438.8 245.3h.9M434.8 243.0h.9M434.0 248.5h.9M435.7 251.6h.9M439.5 246.0h.9M432.9 247.1h.9M436.0 242.0h.9M437.3 256.9h.9M437.5 238.0h.9M440.7 248.6h.9M443.7 247.1h.9M434.1 248.7h.9M428.2 241.4h.9" stroke="#0000ff" stroke-width=".9" fill="none"/>
<ellipse cx="349.2" cy="272.0" rx="7.920000000000001" ry="8.36" fill="url(#rgk)" transform="rotate(0 349.2 272.0)"/>
<path d="M350.9 274.5h.9M350.5 262.2h.9M340.9 273.4h.9M354.7 266.2h.9M350.5 275.5h.9M345.8 266.0h.9M350.1 270.3h.9M348.8 271.2h.9M348.8 273.2h.9M347.3 271.9h.9M347.2 268.7h.9M350.4 268.9h.9M351.0 271.9h.9M352.9 274.2h.9M342.2 271.9h.9M351.4 272.4h.9M349.3 276.1h.9M351.5 266.9h.9M349.5 275.8h.9M349.7 267.2h.9M351.9 274.3h.9M353.1 272.6h.9M349.6 275.2h.9M345.4 278.4h.9M350.5 272.8h.9M351.8 275.0h.9M341.6 275.5h.9M348.8 269.0h.9M352.3 275.5h.9M350.5 269.6h.9M349.5 268.4h.9M357.9 269.5h.9M352.2 278.1h.9M346.2 270.0h.9M341.4 271.1h.9M344.6 272.6h.9M348.4 272.0h.9M349.3 270.2h.9M349.5 271.7h.9M346.7 270.8h.9M347.2 267.1h.9M349.1 265.0h.9M351.0 271.9h.9M349.7 276.3h.9M352.5 270.3h.9M350.4 276.5h.9M348.6 273.4h.9M350.6 268.1h.9M350.1 270.5h.9M348.3 273.6h.9M351.4 268.6h.9M348.3 271.2h.9M345.9 273.4h.9M348.5 269.3h.9M352.4 271.7h.9M345.2 271.6h.9M348.5 273.1h.9M356.9 274.1h.9M354.1 271.3h.9M350.8 273.9h.9M348.8 272.9h.9M347.6 274.6h.9M346.0 278.4h.9M336.3 266.8h.9M348.7 273.4h.9M349.7 265.9h.9M350.6 268.7h.9M349.8 270.4h.9M348.2 266.3h.9M344.6 269.9h.9M345.5 272.9h.9M344.3 272.8h.9M351.1 269.2h.9M345.8 270.7h.9M351.9 277.2h.9M356.6 272.3h.9M351.3 272.7h.9M349.1 267.9h.9M347.9 276.2h.9M353.9 269.7h.9M343.6 279.1h.9M349.3 273.7h.9M348.6 265.2h.9M350.2 268.3h.9M348.2 269.6h.9M348.2 281.0h.9M354.3 264.6h.9M343.8 270.1h.9M346.9 274.9h.9M354.5 269.2h.9M351.1 271.2h.9M342.3 276.4h.9M355.2 268.9h.9M351.3 270.0h.9M348.8 270.3h.9M348.7 272.2h.9M347.0 273.0h.9M344.7 275.1h.9M345.9 265.0h.9M352.0 270.7h.9M347.3 275.4h.9M349.0 279.3h.9M350.6 266.6h.9M347.4 269.5h.9M348.1 278.3h.9M358.5 278.4h.9M350.7 274.0h.9M349.7 263.7h.9M353.9 279.5h.9M347.3 271.9h.9M346.7 271.2h.9M346.2 267.7h.9M353.3 264.6h.9M352.7 267.7h.9M348.3 264.4h.9M351.4 268.2h.9M357.8 268.5h.9M350.0 274.5h.9M345.8 268.9h.9M345.5 274.1h.9M350.2 275.8h.9M344.2 268.5h.9M348.7 270.3h.9M350.2 276.2h.9M349.6 269.0h.9M349.0 269.3h.9M346.9 279.0h.9M351.5 278.9h.9M348.4 271.7h.9M344.8 272.9h.9M351.7 274.6h.9M345.1 272.4h.9M352.3 270.2h.9M351.6 270.1h.9M349.1 269.8h.9M344.0 268.8h.9M349.7 270.9h.9M349.1 269.8h.9M352.2 271.3h.9M350.5 270.2h.9M353.7 271.6h.9M350.7 280.3h.9M350.6 266.1h.9M346.9 273.2h.9M344.6 266.4h.9M348.7 266.0h.9M352.9 273.6h.9M348.1 276.5h.9M346.8 267.5h.9M352.3 272.1h.9M348.4 275.9h.9M348.7 274.4h.9M349.9 276.4h.9M351.1 270.2h.9M354.4 270.6h.9M355.1 267.2h.9M349.3 263.6h.9M351.0 277.0h.9M347.8 273.8h.9M348.4 277.4h.9M350.3 273.3h.9M353.0 266.3h.9M351.6 272.5h.9M353.6 272.1h.9M351.3 271.8h.9M345.8 270.1h.9M348.5 267.0h.9M349.0 270.2h.9M355.5 271.1h.9M349.6 272.3h.9M351.6 265.9h.9M343.2 278.0h.9M346.3 268.6h.9M353.2 273.1h.9M346.4 274.8h.9M345.3 278.1h.9M348.1 273.3h.9M349.1 279.2h.9M345.9 271.6h.9M356.6 264.3h.9M347.5 273.0h.9M348.4 273.7h.9M353.2 267.7h.9M346.9 277.0h.9M355.9 261.9h.9M351.0 275.7h.9M346.9 268.7h.9M345.3 271.2h.9M345.2 274.7h.9M346.8 273.9h.9M343.8 275.3h.9M351.5 275.6h.9M350.1 280.7h.9M352.5 272.2h.9M354.7 270.7h.9M349.7 278.2h.9M347.6 272.0h.9M350.1 272.7h.9M348.4 275.8h.9M356.6 270.5h.9M344.1 270.2h.9M344.4 267.2h.9M345.6 276.0h.9M349.7 274.7h.9M348.8 275.8h.9M347.8 276.9h.9M352.2 272.8h.9M344.1 267.9h.9M350.1 268.1h.9M348.6 271.4h.9M353.9 269.4h.9M349.7 270.3h.9M346.6 273.6h.9M352.5 266.6h.9M354.4 280.4h.9M349.7 274.0h.9M345.6 270.5h.9M350.3 271.7h.9M354.0 268.7h.9M348.4 274.0h.9M349.0 271.1h.9M348.8 273.5h.9M342.6 281.8h.9M351.8 268.0h.9M346.1 267.8h.9M350.7 265.0h.9M357.6 269.9h.9M344.4 279.8h.9M349.2 273.9h.9M348.5 271.0h.9M356.3 264.6h.9M350.1 269.2h.9M348.0 271.8h.9M342.9 274.3h.9M349.9 274.1h.9M347.1 274.8h.9M347.6 274.9h.9M353.9 274.3h.9M344.3 272.3h.9M345.7 279.3h.9M349.9 267.2h.9M344.0 277.0h.9M345.8 273.5h.9M348.1 271.5h.9M347.7 272.0h.9M354.8 268.7h.9M351.0 273.8h.9M346.9 267.9h.9M346.1 274.2h.9M349.8 275.9h.9M350.5 272.4h.9M349.3 272.9h.9M349.4 274.5h.9M346.2 276.0h.9M354.8 271.7h.9M351.2 267.6h.9M349.6 266.6h.9M352.6 272.2h.9M352.9 276.2h.9M346.7 275.1h.9M354.5 280.3h.9M348.9 274.1h.9M347.0 274.4h.9M351.3 277.4h.9M348.7 272.2h.9M350.9 271.4h.9M356.3 263.7h.9M343.3 270.1h.9M351.6 272.1h.9M350.7 266.4h.9M351.3 274.0h.9M354.9 275.1h.9M347.1 269.3h.9M345.3 270.2h.9M348.9 276.7h.9M354.9 272.3h.9M351.3 271.4h.9M344.8 274.0h.9M346.7 266.0h.9M346.3 277.6h.9M345.2 277.1h.9M344.5 271.8h.9M351.0 270.5h.9M345.9 272.0h.9M355.0 274.5h.9M349.9 274.2h.9M353.3 277.0h.9M348.3 268.7h.9M345.8 272.3h.9M348.2 272.0h.9M347.1 281.3h.9M346.8 277.3h.9M346.3 269.1h.9M345.2 268.0h.9M343.6 268.9h.9M348.4 274.6h.9M343.1 273.7h.9M348.8 272.0h.9M341.8 273.8h.9M351.5 276.3h.9M348.2 276.6h.9M349.5 268.6h.9M351.0 275.7h.9M350.0 271.9h.9M348.4 274.5h.9M343.0 273.1h.9M344.8 270.1h.9M349.9 276.6h.9M349.2 268.6h.9M358.7 273.2h.9M339.9 271.7h.9M346.7 269.8h.9M352.9 279.9h.9M349.6 267.0h.9M352.2 272.4h.9M347.8 272.8h.9M345.2 272.7h.9M350.5 276.4h.9M356.2 269.7h.9M350.5 269.1h.9M349.6 276.3h.9M351.5 270.9h.9M355.5 275.3h.9M353.5 272.3h.9M353.9 271.5h.9M352.3 272.2h.9M349.2 266.3h.9M352.6 274.2h.9M347.1 272.3h.9M351.3 274.4h.9M342.0 277.6h.9M345.7 279.1h.9M353.2 272.6h.9M349.9 273.1h.9M347.8 277.7h.9M346.9 270.1h.9M348.4 266.1h.9M352.8 267.6h.9M354.5 275.6h.9M356.3 269.8h.9M348.2 270.4h.9M352.0 268.7h.9M348.1 263.4h.9M349.4 272.8h.9M356.2 268.9h.9M352.6 274.2h.9M352.3 267.9h.9M337.0 270.2h.9M352.6 272.7h.9M354.3 280.1h.9M346.8 270.5h.9M354.6 265.8h.9M340.4 273.0h.9M350.4 277.7h.9M351.8 271.9h.9M347.2 265.2h.9M351.1 269.7h.9M347.9 273.2h.9M342.0 271.7h.9M347.0 279.5h.9M348.8 276.3h.9M345.7 266.1h.9M352.4 270.7h.9M344.5 276.1h.9M351.0 265.6h.9M348.4 279.5h.9M349.6 266.9h.9M346.3 277.3h.9M354.6 274.6h.9M343.9 275.2h.9M346.3 270.1h.9M347.5 276.1h.9M351.0 274.2h.9M347.7 270.1h.9M353.1 269.7h.9M348.2 274.1h.9M348.6 275.8h.9M351.2 274.5h.9M357.4 270.0h.9M356.7 267.2h.9" stroke="#000" stroke-width=".9" fill="none"/>
<ellipse cx="378.2" cy="271.4" rx="7.48" ry="7.48" fill="url(#rgg)" transform="rotate(0 378.2 271.4)"/>
<path d="M375.6 263.0h.9M376.0 268.7h.9M380.6 275.7h.9M386.0 269.6h.9M381.8 270.8h.9M372.0 257.3h.9M377.0 264.8h.9M381.2 268.2h.9M380.4 269.1h.9M379.9 268.2h.9M379.6 277.6h.9M379.5 266.7h.9M375.6 271.9h.9M381.0 267.2h.9M375.2 265.9h.9M384.2 272.4h.9M379.3 269.9h.9M384.7 273.4h.9M377.9 275.6h.9M380.2 270.5h.9M377.0 271.4h.9M382.9 266.6h.9M372.6 273.7h.9M381.8 276.4h.9M380.2 266.3h.9M381.0 272.0h.9M374.8 265.9h.9M373.0 271.6h.9M373.9 272.6h.9M377.7 273.6h.9M381.2 268.3h.9M377.0 274.0h.9M376.1 274.9h.9M380.2 274.5h.9M376.2 274.1h.9M377.5 272.2h.9M380.4 269.5h.9M378.1 263.2h.9M375.9 273.5h.9M374.6 264.1h.9M373.4 270.4h.9M380.5 273.3h.9M373.5 272.8h.9M374.1 275.2h.9M379.5 269.2h.9M376.7 271.1h.9M376.3 275.4h.9M379.3 269.4h.9M379.8 266.6h.9M378.8 270.3h.9M376.3 271.2h.9M379.0 266.3h.9M379.5 281.6h.9M380.9 269.4h.9M379.4 277.1h.9M374.6 277.1h.9M377.0 278.0h.9M375.5 275.0h.9M376.3 275.7h.9M381.2 272.6h.9M375.4 275.0h.9M379.5 267.6h.9M380.1 270.8h.9M377.8 268.0h.9M378.9 274.4h.9M375.4 274.2h.9M372.2 271.8h.9M379.1 268.1h.9M378.7 266.8h.9M384.4 272.8h.9M381.8 268.2h.9M370.8 271.1h.9M382.7 270.8h.9M382.1 272.8h.9M379.3 275.0h.9M376.3 270.0h.9M381.8 273.0h.9M376.4 267.6h.9M383.1 260.2h.9M381.2 270.9h.9M374.0 272.8h.9M379.8 279.3h.9M379.2 262.7h.9M375.2 274.0h.9M376.6 271.2h.9M378.0 276.4h.9M379.3 270.9h.9M376.1 274.9h.9M376.0 272.8h.9M379.6 274.0h.9M380.8 272.4h.9M384.7 274.1h.9M375.8 268.2h.9M376.0 276.0h.9M374.7 276.8h.9M379.6 269.4h.9M375.0 271.1h.9M380.7 271.1h.9M380.5 272.0h.9M382.6 269.7h.9M377.8 267.5h.9M377.2 267.9h.9M373.3 270.6h.9M380.4 263.6h.9M374.1 266.5h.9M379.4 273.3h.9M379.3 270.7h.9M375.7 272.0h.9M375.4 270.6h.9M379.5 270.5h.9M382.1 263.8h.9M373.1 274.8h.9M376.4 269.8h.9M376.4 271.2h.9M377.7 272.6h.9M381.2 277.8h.9M371.4 271.0h.9M375.4 272.1h.9M375.0 271.6h.9M379.1 271.3h.9M379.0 273.7h.9M374.8 271.2h.9M381.6 274.6h.9M381.4 268.5h.9M376.1 274.8h.9M378.2 272.4h.9M377.1 274.5h.9M378.8 268.0h.9M379.4 270.2h.9M377.4 273.4h.9M378.7 269.4h.9M374.5 269.8h.9M377.8 267.3h.9M376.2 279.4h.9M376.2 271.6h.9M374.3 270.3h.9M379.0 272.0h.9M372.8 271.5h.9M375.1 275.2h.9M377.9 276.9h.9M379.4 267.4h.9M381.2 269.7h.9M377.9 271.7h.9M374.1 275.4h.9M378.7 267.8h.9M373.8 273.0h.9M382.1 272.8h.9M379.2 269.9h.9M381.7 273.3h.9M375.7 269.3h.9M371.3 275.4h.9M387.8 271.0h.9M379.6 274.0h.9M377.5 278.8h.9M375.0 268.5h.9M383.4 274.6h.9M380.6 271.0h.9M378.1 271.9h.9M379.6 269.3h.9M381.5 277.4h.9M376.5 268.1h.9M378.6 279.9h.9M375.1 276.0h.9M376.1 268.8h.9M381.7 270.8h.9M378.1 273.8h.9M381.8 272.2h.9M383.2 269.1h.9M376.5 273.8h.9M380.3 265.4h.9M377.2 273.8h.9M377.7 277.6h.9M373.2 272.1h.9M375.5 265.9h.9M377.5 271.2h.9M376.9 269.2h.9M381.0 267.8h.9M376.2 266.6h.9M381.9 266.4h.9M383.7 268.3h.9M378.1 277.0h.9M374.8 276.0h.9M374.0 269.8h.9M380.0 272.6h.9M379.3 272.5h.9M383.2 265.9h.9M376.0 274.4h.9M373.5 269.1h.9M386.0 276.1h.9M379.8 271.7h.9M377.7 268.4h.9M375.4 268.1h.9M374.1 271.9h.9M379.6 268.2h.9M378.6 266.9h.9M379.4 270.3h.9M378.0 272.1h.9M382.4 272.2h.9M376.1 272.0h.9M379.5 273.3h.9M381.6 268.6h.9M374.4 273.6h.9M374.6 273.0h.9M386.9 275.7h.9M373.5 268.6h.9M379.5 270.5h.9M380.4 272.3h.9M379.3 273.4h.9M373.2 275.4h.9M373.7 268.4h.9M370.5 271.5h.9M379.5 270.2h.9M374.4 264.0h.9M380.0 267.5h.9M377.0 272.3h.9M378.0 272.9h.9M383.5 273.9h.9M374.9 271.3h.9M377.5 268.5h.9M380.3 270.1h.9M379.0 273.7h.9M385.0 269.4h.9M380.5 278.9h.9M383.3 272.5h.9M375.8 272.0h.9M376.2 270.0h.9M372.7 270.5h.9M371.7 274.9h.9M379.9 270.1h.9M378.3 271.9h.9M377.4 272.5h.9M377.6 273.0h.9M375.6 271.7h.9M383.6 268.7h.9M375.6 274.7h.9M379.2 272.0h.9M378.8 270.1h.9M376.5 273.2h.9M378.8 273.7h.9M379.7 279.2h.9M378.5 276.3h.9M378.7 279.2h.9M381.4 268.9h.9M383.3 269.6h.9M381.5 268.9h.9M379.4 272.0h.9M382.8 264.1h.9M372.0 274.9h.9M380.7 269.8h.9M378.5 265.5h.9M377.0 269.2h.9M381.1 272.4h.9M377.7 275.5h.9M376.1 274.1h.9M377.5 273.1h.9M377.3 276.4h.9M376.8 278.5h.9M380.8 268.7h.9M376.8 276.1h.9M383.0 267.4h.9M378.8 273.7h.9M385.9 273.8h.9M377.6 274.7h.9M378.5 268.6h.9M378.1 270.8h.9M377.5 271.8h.9M379.4 268.9h.9M380.4 266.1h.9M380.4 273.2h.9M379.6 266.4h.9M376.6 272.3h.9M379.7 274.1h.9M373.3 271.6h.9M381.7 267.6h.9M374.3 270.0h.9M377.4 270.7h.9M382.3 272.6h.9M372.0 274.3h.9M378.5 274.5h.9M378.1 276.4h.9M378.7 269.9h.9M374.3 274.8h.9M377.8 265.6h.9M381.0 276.1h.9M371.4 273.6h.9M380.4 277.5h.9M382.2 269.1h.9M379.7 274.1h.9M373.4 276.6h.9M379.8 274.5h.9M375.4 274.5h.9M378.1 270.6h.9M378.3 272.8h.9M373.3 271.6h.9M379.4 266.1h.9M383.8 280.4h.9M380.4 271.6h.9M374.9 267.8h.9M374.2 274.7h.9M375.4 272.3h.9M376.8 274.7h.9M382.4 274.8h.9M380.4 275.3h.9M383.8 268.7h.9M379.1 269.4h.9M378.4 270.9h.9M378.6 274.1h.9M374.0 262.7h.9M379.1 275.3h.9M376.9 276.7h.9M385.6 271.9h.9M377.5 273.4h.9M380.7 266.5h.9M379.9 264.6h.9M374.7 272.4h.9M379.2 267.6h.9M378.4 276.1h.9M372.9 273.6h.9M382.4 267.0h.9M382.1 273.2h.9M377.2 271.7h.9M378.1 271.8h.9M377.6 269.1h.9M381.2 277.5h.9M377.6 276.5h.9M375.7 267.3h.9M380.3 272.5h.9M379.7 268.4h.9M376.9 275.2h.9M383.4 272.6h.9M379.5 262.6h.9M376.1 276.2h.9M384.4 268.8h.9M370.0 273.4h.9M374.0 270.2h.9M376.3 270.4h.9M375.1 273.9h.9M379.2 267.2h.9M373.1 278.9h.9M380.1 272.4h.9M372.7 279.1h.9M374.8 272.1h.9M379.3 269.2h.9M378.6 270.1h.9M371.5 266.9h.9M376.2 269.9h.9M379.6 277.4h.9M377.4 279.2h.9M376.8 272.1h.9M377.5 265.9h.9M378.0 271.0h.9M375.5 274.3h.9M379.5 270.6h.9M375.3 272.7h.9M375.6 268.8h.9M376.6 275.0h.9M377.3 271.1h.9M377.1 273.7h.9M377.7 274.5h.9M377.7 274.6h.9M377.2 269.1h.9M379.5 271.0h.9M376.7 276.7h.9M376.6 269.0h.9M377.1 276.7h.9M373.8 275.7h.9M379.8 270.3h.9M377.1 269.2h.9M371.6 268.5h.9M373.6 266.2h.9M376.7 273.8h.9M375.1 270.6h.9M375.6 271.0h.9M379.4 275.9h.9M380.1 273.0h.9M382.6 274.2h.9M379.7 273.7h.9M380.8 268.2h.9M375.2 272.0h.9M372.3 270.8h.9" stroke="#00ff00" stroke-width=".9" fill="none"/>
<ellipse cx="406.8" cy="272.0" rx="8.14" ry="7.700000000000001" fill="url(#rgk)" transform="rotate(0 406.8 272.0)"/>
<path d="M405.5 273.5h.9M409.1 277.0h.9M398.3 273.1h.9M407.9 277.4h.9M404.5 273.8h.9M406.1 269.0h.9M407.5 275.8h.9M405.4 272.7h.9M410.5 271.7h.9M405.5 273.4h.9M408.2 273.8h.9M411.0 273.9h.9M402.4 266.6h.9M406.3 278.3h.9M406.8 270.8h.9M407.6 274.2h.9M411.0 267.8h.9M409.3 273.0h.9M409.5 276.2h.9M398.8 275.6h.9M408.4 269.6h.9M406.2 276.1h.9M401.3 275.5h.9M409.4 278.6h.9M403.7 270.1h.9M410.2 271.3h.9M408.1 263.1h.9M415.0 265.7h.9M400.8 274.1h.9M408.4 269.5h.9M398.8 274.3h.9M407.4 269.1h.9M407.1 270.3h.9M403.0 274.8h.9M406.6 272.5h.9M402.2 269.8h.9M405.6 270.2h.9M407.8 272.5h.9M405.8 271.7h.9M408.0 275.9h.9M402.8 275.7h.9M409.8 275.1h.9M404.6 273.1h.9M414.0 267.6h.9M409.5 271.4h.9M412.5 272.8h.9M409.6 270.1h.9M404.8 278.1h.9M402.1 270.5h.9M405.7 267.9h.9M408.8 268.0h.9M406.8 271.5h.9M398.8 272.9h.9M401.1 272.4h.9M398.4 270.4h.9M409.5 273.3h.9M410.5 278.1h.9M409.2 271.6h.9M406.2 274.6h.9M402.2 268.6h.9M406.6 278.6h.9M402.7 273.2h.9M404.1 274.9h.9M407.8 272.2h.9M409.8 271.4h.9M400.7 279.8h.9M406.2 273.4h.9M409.4 269.4h.9M404.9 269.6h.9M408.6 273.8h.9M407.3 267.7h.9M403.7 267.2h.9M401.8 269.7h.9M407.6 274.1h.9M400.2 274.6h.9M407.9 278.0h.9M409.6 266.9h.9M408.3 273.2h.9M407.7 269.7h.9M411.6 272.7h.9M404.5 265.8h.9M405.7 267.4h.9M401.4 278.2h.9M406.4 275.8h.9M410.5 275.0h.9M405.1 268.1h.9M406.0 272.8h.9M406.1 271.2h.9M407.1 267.2h.9M410.3 268.1h.9M407.0 269.2h.9M411.4 270.3h.9M403.3 271.0h.9M409.7 267.9h.9M402.0 270.4h.9M409.3 261.7h.9M409.9 280.4h.9M406.0 275.7h.9M406.1 265.6h.9M405.1 274.5h.9M402.6 271.2h.9M404.2 273.7h.9M415.4 272.6h.9M402.0 278.3h.9M405.6 270.8h.9M408.4 275.1h.9M407.4 273.6h.9M407.2 267.9h.9M409.4 275.4h.9M403.8 266.0h.9M404.5 273.0h.9M411.6 273.1h.9M395.0 270.1h.9M406.8 273.2h.9M401.2 271.0h.9M407.1 274.8h.9M409.5 278.3h.9M404.2 270.7h.9M405.0 274.1h.9M413.7 273.0h.9M407.2 269.0h.9M402.0 278.7h.9M406.3 277.4h.9M409.5 270.5h.9M407.5 269.0h.9M408.8 271.7h.9M409.4 276.8h.9M404.5 275.2h.9M408.2 270.4h.9M407.6 276.8h.9M407.2 275.8h.9M407.8 276.9h.9M406.1 271.1h.9M408.9 264.0h.9M404.8 277.8h.9M404.0 279.0h.9M412.4 270.5h.9M403.9 273.7h.9M409.9 278.6h.9M412.1 269.7h.9M409.7 270.4h.9M410.5 274.0h.9M411.8 272.0h.9M409.6 267.7h.9M403.2 274.1h.9M407.0 275.5h.9M414.9 270.0h.9M402.4 268.4h.9M404.4 276.5h.9M408.0 271.2h.9M409.1 271.7h.9M407.6 272.2h.9M401.8 275.2h.9M407.3 280.4h.9M407.0 270.1h.9M407.3 269.6h.9M406.5 270.9h.9M407.9 268.9h.9M406.3 270.8h.9M403.1 272.0h.9M409.2 274.9h.9M407.8 271.8h.9M410.1 271.2h.9M409.1 266.0h.9M402.3 269.6h.9M410.7 271.3h.9M408.3 268.2h.9M401.2 282.5h.9M412.6 278.7h.9M406.7 269.8h.9M407.6 271.4h.9M405.0 263.2h.9M407.5 264.2h.9M404.8 266.7h.9M413.9 267.6h.9M405.3 273.6h.9M405.5 273.1h.9M410.0 269.9h.9M408.6 271.8h.9M401.9 273.3h.9M402.8 276.0h.9M406.7 272.9h.9M410.3 269.2h.9M403.8 277.5h.9M409.3 273.8h.9M399.5 272.3h.9M403.3 270.0h.9M400.8 266.2h.9M405.1 273.6h.9M404.9 271.5h.9M407.0 277.1h.9M404.6 272.7h.9M416.7 272.1h.9M409.7 267.8h.9M402.9 270.6h.9M417.9 269.9h.9M411.9 270.4h.9M402.2 265.3h.9M407.3 276.1h.9M403.8 270.7h.9M402.7 269.5h.9M410.5 270.2h.9M402.9 274.4h.9M407.7 272.0h.9M414.3 273.3h.9M411.0 267.6h.9M406.5 276.8h.9M409.5 275.5h.9M401.3 271.2h.9M412.9 277.5h.9M395.4 265.2h.9M411.8 275.1h.9M411.7 261.9h.9M407.1 275.1h.9M411.3 268.6h.9M410.7 275.1h.9M404.8 278.0h.9M411.5 275.4h.9M405.0 273.2h.9M406.7 278.3h.9M415.9 269.0h.9M414.2 273.8h.9M404.2 269.5h.9M412.5 273.3h.9M404.3 271.5h.9M405.3 271.7h.9M413.5 269.7h.9M405.6 261.0h.9M408.7 275.6h.9M414.5 269.9h.9M405.7 270.7h.9M402.1 272.2h.9M403.8 271.3h.9M407.4 274.9h.9M407.0 281.0h.9M408.0 274.1h.9M408.7 271.8h.9M410.4 272.7h.9M401.7 270.2h.9M412.4 266.3h.9M413.4 272.6h.9M407.8 276.7h.9M407.6 270.4h.9M398.5 269.9h.9M402.4 274.7h.9M407.2 268.7h.9M411.2 275.4h.9M415.2 273.1h.9M402.1 272.5h.9M409.7 275.4h.9M401.8 273.9h.9M409.3 273.6h.9M400.6 270.4h.9M406.3 271.3h.9M410.3 270.7h.9M399.8 264.3h.9M408.6 269.2h.9M406.6 276.2h.9M404.8 272.0h.9M401.3 267.7h.9M409.0 276.4h.9M404.3 271.4h.9M408.0 270.5h.9M407.1 270.7h.9M409.1 270.2h.9M405.0 267.1h.9M403.9 266.7h.9M406.3 275.7h.9M401.9 269.0h.9M403.9 273.8h.9M405.6 270.9h.9M403.2 271.1h.9M405.5 269.1h.9M412.2 273.9h.9M406.2 273.2h.9M415.5 274.3h.9M404.8 272.0h.9M411.2 273.7h.9M405.8 272.4h.9M402.6 270.9h.9M405.2 271.2h.9M412.0 272.2h.9M411.2 272.1h.9M401.1 276.5h.9M404.7 271.6h.9M411.0 277.1h.9M407.4 276.7h.9M404.9 274.4h.9M403.4 275.6h.9M404.7 274.4h.9M402.2 277.3h.9M413.0 271.1h.9M407.1 268.6h.9M406.1 266.8h.9M409.5 271.8h.9M411.2 272.1h.9M405.9 269.1h.9M409.2 271.6h.9M402.3 266.7h.9M410.4 271.7h.9M406.5 270.1h.9M404.8 272.0h.9M407.6 267.7h.9M416.2 275.3h.9M399.5 272.3h.9M411.1 269.7h.9M401.6 274.0h.9M404.5 272.0h.9M413.1 272.0h.9M411.9 269.2h.9M399.9 270.6h.9M405.3 274.5h.9M408.5 264.9h.9M402.6 270.5h.9M404.0 269.7h.9M405.5 272.6h.9M401.1 268.7h.9M403.3 276.4h.9M406.1 266.7h.9M408.7 275.4h.9M400.7 267.6h.9M408.5 272.2h.9M409.1 277.8h.9M409.3 275.6h.9M405.0 277.1h.9M404.2 273.2h.9M399.1 270.6h.9M409.8 268.7h.9M405.0 264.2h.9M405.5 267.3h.9M407.0 270.3h.9M404.2 270.8h.9M405.2 272.0h.9M405.8 276.1h.9M410.8 263.0h.9M411.9 271.2h.9M408.1 268.8h.9M409.1 274.1h.9M404.7 268.0h.9M408.8 273.6h.9M403.4 264.3h.9M402.6 273.4h.9M411.6 268.5h.9M404.7 268.1h.9M408.1 269.2h.9M413.2 274.1h.9M406.1 270.6h.9M410.6 270.6h.9M405.4 272.4h.9M410.8 277.1h.9M405.5 267.6h.9M403.4 271.4h.9M409.2 262.6h.9M409.3 273.4h.9M407.6 266.7h.9M407.2 270.1h.9M403.3 274.1h.9M411.5 272.6h.9M409.0 275.5h.9M407.0 270.5h.9M412.5 269.8h.9M405.7 273.2h.9M405.3 268.6h.9M411.0 271.9h.9M404.3 269.9h.9M409.1 274.9h.9M407.6 276.1h.9M406.8 277.6h.9M410.3 267.9h.9M406.5 273.1h.9M406.8 268.5h.9M408.7 271.7h.9M401.3 267.4h.9M405.4 275.3h.9M406.8 272.6h.9M410.4 271.2h.9M407.0 271.7h.9M410.3 269.6h.9M408.3 269.4h.9M407.2 275.9h.9" stroke="#000" stroke-width=".9" fill="none"/>
<ellipse cx="434.4" cy="272.8" rx="7.26" ry="9.240000000000002" fill="url(#rgg)" transform="rotate(0 434.4 272.8)"/>
<path d="M431.9 274.8h.9M434.8 273.7h.9M436.2 273.1h.9M436.1 280.4h.9M432.2 268.2h.9M437.0 274.4h.9M441.1 270.1h.9M436.9 270.4h.9M432.9 270.2h.9M431.9 268.8h.9M433.5 272.1h.9M434.7 276.2h.9M431.6 272.4h.9M431.7 276.3h.9M431.5 271.3h.9M432.0 277.3h.9M430.6 267.9h.9M433.2 271.3h.9M431.5 277.5h.9M432.7 263.9h.9M433.9 267.2h.9M432.4 270.7h.9M431.6 271.0h.9M433.2 275.4h.9M442.7 269.8h.9M433.0 277.5h.9M440.0 276.1h.9M433.7 281.0h.9M434.8 277.8h.9M432.8 267.5h.9M438.9 269.0h.9M431.1 273.3h.9M431.5 275.6h.9M434.8 271.9h.9M432.7 278.9h.9M439.0 277.6h.9M430.3 279.8h.9M434.9 280.0h.9M436.2 269.9h.9M429.2 269.9h.9M438.4 270.9h.9M439.8 267.3h.9M436.6 272.3h.9M430.0 274.4h.9M433.2 271.5h.9M427.8 268.5h.9M432.4 272.1h.9M431.8 281.4h.9M433.2 273.6h.9M433.5 278.1h.9M436.4 277.0h.9M429.6 273.4h.9M434.0 275.5h.9M432.4 273.4h.9M431.3 271.3h.9M435.7 270.6h.9M431.8 272.2h.9M435.6 274.5h.9M430.7 271.0h.9M430.7 268.5h.9M442.2 277.9h.9M436.8 271.6h.9M437.3 279.3h.9M438.5 275.8h.9M431.3 282.9h.9M436.9 276.4h.9M435.6 274.4h.9M433.2 265.6h.9M440.2 283.8h.9M436.0 275.6h.9M434.4 276.0h.9M434.0 272.4h.9M436.5 265.5h.9M439.0 271.1h.9M436.2 275.4h.9M439.6 279.9h.9M430.3 268.7h.9M435.0 265.8h.9M436.5 272.3h.9M431.9 276.4h.9M431.4 269.6h.9M434.4 276.5h.9M433.8 271.3h.9M435.1 271.2h.9M428.4 276.7h.9M436.0 277.5h.9M434.8 274.8h.9M429.0 267.0h.9M428.2 277.8h.9M432.1 278.4h.9M435.8 270.9h.9M434.1 269.4h.9M432.9 274.2h.9M436.6 270.7h.9M429.3 277.6h.9M430.8 275.8h.9M429.4 268.9h.9M427.9 275.6h.9M435.8 286.0h.9M440.4 273.3h.9M427.7 271.8h.9M435.2 274.3h.9M434.8 268.5h.9M433.3 280.8h.9M432.6 271.1h.9M430.5 270.1h.9M438.2 274.3h.9M432.7 271.2h.9M437.0 270.4h.9M431.7 271.4h.9M426.0 277.6h.9M431.7 276.0h.9M434.3 277.1h.9M432.6 283.2h.9M436.1 271.9h.9M435.3 264.0h.9M430.6 264.1h.9M433.4 282.0h.9M435.4 266.6h.9M429.3 274.4h.9M436.3 271.9h.9M439.0 273.8h.9M440.9 276.4h.9M441.0 261.5h.9M436.8 276.1h.9M439.1 275.3h.9M435.6 274.1h.9M434.9 275.2h.9M439.5 266.0h.9M432.8 266.6h.9M432.4 274.0h.9M434.9 274.4h.9M436.7 274.6h.9M433.2 272.3h.9M430.8 270.9h.9M433.9 274.4h.9M429.1 277.5h.9M434.0 266.2h.9M433.8 275.2h.9M434.6 271.0h.9M431.4 273.7h.9M434.8 274.1h.9M433.0 278.0h.9M428.3 272.8h.9M428.9 264.6h.9M434.8 276.3h.9M433.3 274.7h.9M433.7 277.7h.9M432.3 275.1h.9M435.3 266.1h.9M438.0 270.3h.9M430.5 270.0h.9M437.0 271.1h.9M436.8 268.8h.9M435.1 265.5h.9M433.3 278.3h.9M432.5 273.5h.9M428.3 279.8h.9M433.5 274.7h.9M433.0 268.4h.9M433.1 271.4h.9M430.8 272.1h.9M431.0 270.7h.9M425.0 268.7h.9M435.2 273.7h.9M433.4 274.5h.9M439.8 274.3h.9M434.6 272.4h.9M435.3 275.5h.9M427.0 281.6h.9M437.3 274.8h.9M432.2 272.3h.9M431.7 278.4h.9M432.0 266.0h.9M433.5 269.2h.9M434.8 273.4h.9M431.4 266.3h.9M433.1 267.3h.9M433.5 273.5h.9M432.9 273.4h.9M432.8 279.7h.9M428.4 268.2h.9M437.8 267.6h.9M436.1 271.9h.9M434.1 266.9h.9M432.8 272.1h.9M427.2 272.8h.9M432.7 263.4h.9M434.6 271.3h.9M429.2 277.5h.9M433.7 268.0h.9M431.2 274.0h.9M432.3 275.7h.9M430.1 273.8h.9M435.5 274.9h.9M431.5 268.8h.9M430.4 273.1h.9M427.4 284.4h.9M433.2 277.7h.9M433.0 278.2h.9M433.2 276.9h.9M437.3 273.9h.9M430.0 274.5h.9M434.5 271.5h.9M433.3 275.6h.9M427.4 275.0h.9M439.2 269.9h.9M438.0 270.8h.9M433.1 271.3h.9M434.0 269.5h.9M432.1 271.8h.9M431.1 272.5h.9M437.3 269.3h.9M434.7 269.6h.9M430.4 272.7h.9M433.1 276.8h.9M436.3 273.1h.9M432.0 278.3h.9M429.9 269.6h.9M436.3 274.4h.9M436.0 271.8h.9M436.3 277.5h.9M427.9 274.9h.9M437.1 268.4h.9M431.0 274.2h.9M436.0 272.6h.9M428.8 273.6h.9M433.7 271.1h.9M437.3 263.9h.9M434.3 270.2h.9M435.9 271.4h.9M439.5 273.4h.9M432.3 266.0h.9M433.2 272.5h.9M439.0 274.2h.9M434.6 268.9h.9M434.7 268.7h.9M429.6 274.5h.9M432.6 267.2h.9M437.7 277.7h.9M435.5 265.9h.9M431.4 268.7h.9M434.8 286.7h.9M436.9 272.2h.9M431.4 267.0h.9M431.7 273.4h.9M433.2 274.8h.9M435.7 268.0h.9M436.7 272.8h.9M439.1 272.1h.9M432.9 272.2h.9M437.9 274.8h.9M437.8 276.9h.9M435.1 282.2h.9M433.8 271.7h.9M437.6 267.9h.9M435.1 276.8h.9M431.2 264.9h.9M429.6 277.3h.9M442.0 269.0h.9M429.9 267.5h.9M439.1 275.8h.9M436.2 269.7h.9M436.2 269.6h.9M435.9 269.6h.9M430.1 270.8h.9M435.4 274.0h.9M432.4 276.4h.9M429.0 264.6h.9M436.0 272.0h.9M434.0 270.8h.9M435.8 273.6h.9M438.5 268.8h.9M430.1 272.1h.9M433.3 271.4h.9M427.3 274.2h.9M439.5 274.1h.9M438.1 275.1h.9M435.0 274.3h.9M437.6 274.5h.9M436.2 272.4h.9M431.8 274.1h.9M432.9 275.0h.9M427.0 279.9h.9M438.4 278.9h.9M435.4 268.3h.9M432.9 267.8h.9M435.5 272.7h.9M434.7 265.0h.9M429.4 263.6h.9M438.7 274.7h.9M434.4 271.2h.9M428.5 271.1h.9M432.9 269.2h.9M437.4 264.3h.9M434.7 276.0h.9M436.8 266.5h.9M425.2 278.3h.9M438.8 272.0h.9M433.4 274.0h.9M437.7 273.1h.9M433.1 273.5h.9M435.5 281.1h.9M434.3 268.8h.9M440.4 278.8h.9M439.0 268.8h.9M432.4 267.0h.9M433.9 278.1h.9M437.3 272.8h.9M435.0 274.7h.9M433.8 268.3h.9M432.0 279.5h.9M431.3 267.9h.9M436.1 271.3h.9M433.2 273.3h.9M433.9 265.8h.9M437.4 273.6h.9M439.9 276.2h.9M432.4 270.9h.9M432.0 263.5h.9M436.7 269.9h.9M437.5 273.4h.9M434.0 279.4h.9M431.3 279.9h.9M433.1 281.5h.9M438.1 270.5h.9M440.1 274.4h.9M435.5 271.0h.9M434.2 271.0h.9M433.3 276.0h.9M437.0 277.8h.9M438.3 272.4h.9M436.8 271.6h.9M436.3 275.3h.9M435.6 269.4h.9M430.6 279.8h.9M431.8 270.1h.9M435.7 271.1h.9M435.8 278.3h.9M429.4 273.1h.9M436.4 266.9h.9M436.8 278.8h.9M434.5 274.7h.9M433.5 276.8h.9M432.8 272.7h.9M432.2 269.7h.9M438.2 272.5h.9M437.3 266.1h.9M430.6 269.0h.9M440.6 277.5h.9M441.7 270.9h.9M436.4 274.2h.9M433.6 275.2h.9M434.3 274.7h.9M428.7 268.4h.9M431.2 279.7h.9M437.3 268.7h.9M436.1 270.4h.9M430.8 268.9h.9M444.1 273.1h.9M434.1 277.9h.9M435.3 268.2h.9M441.4 281.8h.9M437.0 269.2h.9M434.2 273.2h.9M430.8 283.6h.9M434.5 270.4h.9M433.6 271.4h.9M426.2 273.3h.9M438.2 273.6h.9M435.9 272.4h.9M428.8 275.2h.9M436.7 268.5h.9M430.8 270.3h.9M430.1 262.5h.9M433.1 270.3h.9M434.8 277.6h.9M431.5 266.3h.9M434.1 275.5h.9M439.1 276.6h.9" stroke="#00ff00" stroke-width=".9" fill="none"/>
<ellipse cx="349.2" cy="298.1" rx="7.26" ry="8.36" fill="url(#rgc)" transform="rotate(0 349.2 298.1)"/>
<path d="M349.7 298.2h.9M343.6 300.6h.9M351.8 297.7h.9M348.3 299.6h.9M350.7 300.0h.9M350.6 292.3h.9M347.4 291.9h.9M351.8 307.6h.9M346.7 297.5h.9M350.0 295.4h.9M354.7 298.8h.9M356.2 306.5h.9M350.8 295.2h.9M353.5 297.0h.9M346.6 297.3h.9M352.9 295.0h.9M348.5 301.3h.9M348.3 301.3h.9M353.2 296.2h.9M345.4 293.6h.9M353.3 300.1h.9M349.5 296.6h.9M352.7 296.2h.9M358.1 299.2h.9M344.0 302.0h.9M350.1 298.0h.9M348.6 302.5h.9M347.6 303.8h.9M346.7 301.4h.9M344.4 301.6h.9M346.1 297.1h.9M351.7 295.1h.9M350.9 298.0h.9M353.4 301.3h.9M350.0 297.3h.9M346.3 303.2h.9M348.4 293.3h.9M346.6 291.0h.9M346.4 296.3h.9M350.0 301.4h.9M351.9 291.3h.9M347.6 300.2h.9M350.3 297.9h.9M346.6 300.6h.9M348.9 297.1h.9M348.8 297.1h.9M350.2 302.1h.9M349.4 295.6h.9M348.8 297.4h.9M350.8 300.8h.9M354.5 301.3h.9M343.7 294.8h.9M345.1 299.1h.9M356.8 299.7h.9M347.3 303.1h.9M351.2 295.0h.9M346.1 303.4h.9M351.6 290.2h.9M346.7 300.1h.9M344.8 298.0h.9M346.3 291.8h.9M347.5 296.0h.9M350.1 291.6h.9M350.0 296.6h.9M344.0 302.4h.9M347.7 299.5h.9M354.2 299.5h.9M352.2 298.8h.9M347.3 298.7h.9M344.0 299.8h.9M351.8 299.6h.9M346.9 293.5h.9M346.7 296.9h.9M344.5 305.1h.9M346.5 298.5h.9M347.6 298.4h.9M342.1 294.2h.9M349.0 297.8h.9M350.4 296.0h.9M351.8 298.8h.9M349.0 298.0h.9M352.6 297.8h.9M354.2 298.4h.9M349.9 298.0h.9M350.1 299.7h.9M347.1 300.9h.9M357.5 300.0h.9M349.5 295.0h.9M346.6 294.9h.9M350.0 295.4h.9M354.3 296.4h.9M346.2 294.6h.9M348.8 297.4h.9M352.1 295.3h.9M350.2 301.5h.9M348.2 291.5h.9M349.9 301.8h.9M350.4 298.0h.9M342.8 303.9h.9M348.5 293.6h.9M348.0 298.6h.9M349.2 294.6h.9M356.9 302.6h.9M352.4 300.3h.9M347.8 293.6h.9M344.9 301.9h.9M349.4 304.0h.9M341.7 302.9h.9M350.6 296.0h.9M352.0 295.5h.9M348.2 299.9h.9M349.6 299.0h.9M349.8 301.8h.9M346.3 290.6h.9M346.1 289.0h.9M355.5 295.5h.9M349.0 299.2h.9M346.6 296.1h.9M349.9 298.0h.9M351.7 297.1h.9M346.9 292.6h.9M343.6 298.9h.9M350.1 296.5h.9M353.1 288.0h.9M351.2 293.6h.9M348.0 297.1h.9M346.6 296.9h.9M350.0 306.8h.9M349.1 300.6h.9M351.8 294.5h.9M350.7 296.5h.9M352.0 295.8h.9M352.6 294.6h.9M347.5 301.1h.9M352.4 301.2h.9M355.6 301.8h.9M349.1 301.4h.9M346.4 301.0h.9M350.4 297.4h.9M346.7 301.9h.9M342.5 297.3h.9M344.5 296.7h.9M347.6 294.9h.9M347.1 299.0h.9M355.5 304.4h.9M348.5 296.4h.9M351.1 294.9h.9M344.2 301.6h.9M347.7 303.6h.9M350.2 292.6h.9M350.0 299.8h.9M349.3 292.9h.9M344.1 304.9h.9M339.9 294.4h.9M351.7 304.6h.9M351.2 297.9h.9M350.3 302.2h.9M347.3 302.7h.9M349.9 298.7h.9M350.5 299.1h.9M346.1 303.7h.9M347.5 297.0h.9M341.4 291.9h.9M350.9 297.6h.9M348.7 296.6h.9M351.1 295.5h.9M344.2 291.9h.9M346.5 299.1h.9M353.8 300.1h.9M346.9 293.0h.9M351.8 299.8h.9M348.9 300.3h.9M351.0 299.9h.9M353.4 292.2h.9M346.9 296.0h.9M345.8 305.3h.9M350.3 299.5h.9M351.7 297.1h.9M351.8 297.2h.9M351.6 300.1h.9M353.4 292.3h.9M346.1 295.1h.9M346.4 299.4h.9M352.3 296.7h.9M352.6 301.3h.9M347.2 300.4h.9M353.8 296.2h.9M341.9 300.0h.9M350.0 300.3h.9M350.8 297.8h.9M349.1 295.0h.9M355.5 303.8h.9M348.6 294.8h.9M350.5 303.9h.9M349.3 294.9h.9M352.2 298.9h.9M346.5 297.2h.9M349.6 293.8h.9M350.0 302.8h.9M352.6 302.6h.9M351.6 297.7h.9M351.1 302.6h.9M349.3 300.0h.9M347.1 298.0h.9M347.5 294.0h.9M350.4 306.3h.9M343.6 296.2h.9M349.8 295.3h.9M349.7 301.2h.9M343.8 297.6h.9M351.1 300.2h.9M355.1 298.8h.9M353.2 295.9h.9M346.2 296.0h.9M347.7 301.4h.9M351.6 298.1h.9M346.2 298.6h.9M347.8 296.6h.9M343.5 303.9h.9M351.1 309.1h.9M357.9 298.2h.9M356.4 296.5h.9M358.3 297.9h.9M343.2 298.0h.9M351.8 304.5h.9M352.3 304.7h.9M349.8 292.4h.9M349.7 294.8h.9M351.9 290.1h.9M346.0 293.7h.9M349.5 301.9h.9M348.2 293.2h.9M347.5 297.5h.9M353.0 298.5h.9M353.7 287.4h.9M355.0 306.3h.9M347.5 308.2h.9M344.1 301.6h.9M344.9 295.8h.9M350.8 298.9h.9M350.1 297.4h.9M343.1 292.0h.9M346.4 294.3h.9M347.6 291.6h.9M348.8 299.9h.9M347.5 303.1h.9M349.8 301.6h.9M346.3 298.9h.9M344.5 290.9h.9M343.4 296.5h.9M350.0 306.1h.9M350.2 296.7h.9M352.6 298.5h.9M349.2 298.6h.9M352.4 304.1h.9M344.5 298.4h.9M347.6 298.1h.9M356.9 297.2h.9M341.1 301.3h.9M347.6 294.6h.9M356.5 305.7h.9M352.5 299.0h.9M346.8 303.6h.9M348.4 298.9h.9M348.6 298.7h.9M342.6 293.5h.9M345.0 289.8h.9M345.3 296.2h.9M348.6 297.7h.9M347.7 302.0h.9M342.3 296.1h.9M348.4 294.8h.9M353.7 297.6h.9M352.8 300.1h.9M348.3 301.8h.9M344.4 293.4h.9M347.9 289.0h.9M347.8 297.3h.9M343.4 294.1h.9M344.9 307.0h.9M353.3 300.3h.9M349.9 303.1h.9M349.5 302.8h.9M352.1 306.1h.9M352.7 295.9h.9M351.2 302.3h.9M351.4 306.4h.9M350.1 296.5h.9M352.1 302.4h.9M349.1 300.0h.9M349.6 299.0h.9M350.4 296.5h.9M351.6 299.4h.9M354.9 299.2h.9M349.6 293.4h.9M356.6 297.2h.9M347.5 297.0h.9M349.2 297.7h.9M354.8 296.2h.9M348.4 296.4h.9M351.2 291.8h.9M352.5 296.7h.9M344.5 303.6h.9M344.8 300.7h.9M349.2 295.5h.9M343.7 295.3h.9M351.7 297.8h.9M347.3 301.7h.9M349.3 298.3h.9M346.3 292.8h.9M347.6 299.1h.9M347.8 299.2h.9M348.3 297.1h.9M349.0 299.4h.9M341.8 298.0h.9M348.5 296.3h.9M352.4 302.4h.9M353.0 300.8h.9M350.7 298.5h.9M351.7 295.5h.9M348.7 299.2h.9M348.7 293.3h.9M348.9 296.4h.9M347.1 300.3h.9M352.7 298.3h.9M345.4 297.3h.9M348.6 294.0h.9M347.2 298.5h.9M347.2 299.6h.9M344.8 300.4h.9M346.8 298.4h.9M349.2 296.0h.9M352.6 291.3h.9M349.8 300.4h.9M348.3 297.7h.9M345.4 297.8h.9M349.7 295.7h.9M349.2 296.6h.9M345.8 297.6h.9M346.6 301.2h.9M346.5 303.2h.9M349.1 297.8h.9M346.7 299.6h.9M345.7 292.1h.9M350.6 290.1h.9M352.9 295.9h.9M354.4 298.8h.9M354.6 292.5h.9M347.7 298.9h.9M347.3 298.2h.9M348.6 300.4h.9M353.9 289.8h.9M351.2 293.6h.9M354.6 292.4h.9M346.4 299.8h.9M348.6 300.5h.9M350.4 295.0h.9M343.7 302.2h.9M348.4 297.5h.9M348.1 296.9h.9M346.7 298.1h.9M350.0 293.3h.9M343.9 300.0h.9M352.0 295.9h.9M348.6 296.0h.9M350.5 297.6h.9M347.3 295.0h.9M350.6 299.3h.9M347.7 299.4h.9M338.8 296.3h.9M349.7 290.3h.9M347.2 298.8h.9M353.3 299.4h.9M345.0 301.2h.9M348.2 301.0h.9M344.5 291.8h.9M343.8 300.1h.9M353.1 298.8h.9M349.7 297.5h.9M349.8 294.1h.9" stroke="#00ffff" stroke-width=".9" fill="none"/>
<ellipse cx="376.9" cy="297.3" rx="8.14" ry="7.48" fill="url(#rgb)" transform="rotate(0 376.9 297.3)"/>
<path d="M381.4 299.8h.9M380.4 296.8h.9M380.0 300.4h.9M386.2 300.7h.9M374.0 294.5h.9M380.1 298.8h.9M378.9 297.3h.9M373.8 297.6h.9M371.4 298.1h.9M385.4 299.5h.9M373.6 294.2h.9M385.9 299.3h.9M374.9 299.0h.9M375.6 293.6h.9M377.4 298.8h.9M381.7 292.9h.9M382.4 296.3h.9M369.4 300.4h.9M380.6 298.9h.9M380.0 294.1h.9M378.8 291.7h.9M374.4 305.5h.9M383.1 298.4h.9M378.7 297.4h.9M379.2 297.8h.9M373.3 296.0h.9M369.6 294.2h.9M376.2 298.4h.9M385.3 291.7h.9M384.8 295.7h.9M375.2 296.9h.9M385.1 293.5h.9M375.4 298.9h.9M380.5 298.4h.9M377.3 300.4h.9M373.2 302.4h.9M375.0 298.4h.9M373.4 295.1h.9M380.6 299.0h.9M376.2 299.8h.9M389.0 289.0h.9M369.1 297.8h.9M370.4 300.5h.9M373.7 297.1h.9M373.7 304.0h.9M382.6 291.5h.9M379.4 296.1h.9M382.4 298.3h.9M374.1 295.7h.9M377.1 302.8h.9M377.2 295.4h.9M375.4 300.0h.9M375.7 303.0h.9M380.2 297.6h.9M377.3 296.1h.9M367.9 301.1h.9M382.6 296.5h.9M377.9 292.7h.9M376.1 297.8h.9M376.6 297.3h.9M380.6 299.5h.9M379.9 295.2h.9M374.9 297.2h.9M370.8 292.4h.9M378.1 297.2h.9M377.2 301.1h.9M368.8 298.5h.9M376.0 292.8h.9M379.4 301.8h.9M371.3 297.3h.9M380.5 297.3h.9M375.2 300.4h.9M370.4 297.0h.9M374.4 296.9h.9M372.1 297.7h.9M381.6 298.7h.9M372.0 295.5h.9M374.0 292.2h.9M379.7 298.8h.9M376.2 302.1h.9M379.6 295.2h.9M377.0 296.7h.9M376.8 301.5h.9M381.7 294.0h.9M384.3 291.8h.9M375.9 305.3h.9M379.5 301.1h.9M377.4 298.9h.9M374.4 302.1h.9M376.1 295.4h.9M371.3 304.5h.9M371.2 293.8h.9M378.7 297.3h.9M383.5 299.3h.9M378.2 294.6h.9M379.0 292.4h.9M374.0 301.8h.9M377.9 293.4h.9M374.5 296.8h.9M378.1 297.9h.9M380.0 287.3h.9M379.7 291.0h.9M375.2 297.6h.9M380.9 295.1h.9M371.9 294.5h.9M377.9 305.2h.9M372.2 295.5h.9M374.2 301.0h.9M379.0 296.7h.9M378.1 302.5h.9M375.8 293.5h.9M377.0 293.1h.9M377.8 300.1h.9M375.5 300.3h.9M381.5 303.3h.9M375.6 299.2h.9M380.0 299.9h.9M380.5 298.9h.9M379.6 300.3h.9M378.8 299.2h.9M378.0 297.0h.9M370.0 297.0h.9M377.1 295.4h.9M375.2 301.4h.9M375.9 289.7h.9M374.9 296.9h.9M381.6 298.3h.9M378.9 295.5h.9M374.8 292.0h.9M379.3 297.3h.9M374.3 297.5h.9M381.1 300.3h.9M379.9 301.1h.9M377.9 297.3h.9M376.9 298.9h.9M370.5 298.2h.9M377.1 294.3h.9M374.8 301.1h.9M375.5 297.0h.9M382.6 294.1h.9M376.8 295.9h.9M375.0 296.7h.9M379.0 296.4h.9M380.5 299.7h.9M372.9 297.5h.9M376.3 293.0h.9M370.2 300.6h.9M378.0 301.3h.9M382.8 299.8h.9M378.3 301.5h.9M376.4 296.0h.9M380.6 299.4h.9M375.0 295.9h.9M372.2 304.2h.9M375.5 295.6h.9M374.7 295.6h.9M377.4 297.4h.9M379.9 289.0h.9M377.4 302.8h.9M377.1 295.3h.9M384.4 295.6h.9M379.5 298.0h.9M376.4 294.0h.9M377.5 297.9h.9M383.8 292.2h.9M371.1 299.1h.9M371.3 287.9h.9M375.7 301.0h.9M370.1 292.3h.9M382.5 294.3h.9M373.6 296.7h.9M382.9 296.6h.9M379.8 296.7h.9M372.9 298.1h.9M370.1 300.6h.9M370.9 297.7h.9M368.9 296.9h.9M378.4 294.8h.9M384.2 297.2h.9M378.6 292.4h.9M375.0 298.0h.9M379.7 299.2h.9M371.7 292.3h.9M372.7 300.9h.9M370.3 293.2h.9M377.4 297.1h.9M376.7 294.5h.9M378.2 296.9h.9M376.2 298.0h.9M376.0 296.6h.9M381.1 299.6h.9M377.2 297.7h.9M382.0 292.8h.9M369.7 297.3h.9M370.5 293.7h.9M377.7 297.9h.9M375.6 294.7h.9M371.4 294.9h.9M373.8 297.1h.9M380.4 296.2h.9M372.7 298.6h.9M381.4 298.2h.9M375.2 295.9h.9M375.7 293.8h.9M380.3 296.2h.9M384.1 301.2h.9M375.1 305.7h.9M375.1 294.6h.9M370.3 297.2h.9M378.3 296.0h.9M376.5 298.8h.9M373.9 297.0h.9M375.9 302.2h.9M379.4 296.9h.9M373.0 296.7h.9M373.9 296.0h.9M378.2 299.9h.9M380.6 295.3h.9M377.6 297.1h.9M380.0 304.4h.9M380.7 300.2h.9M377.8 298.9h.9M369.5 298.3h.9M376.3 297.1h.9M379.6 307.5h.9M377.9 293.3h.9M375.5 300.0h.9M379.5 297.9h.9M378.9 294.6h.9M382.5 290.5h.9M375.6 294.7h.9M375.2 298.0h.9M377.3 300.4h.9M383.9 298.9h.9M373.4 297.3h.9M374.0 294.7h.9M375.4 300.3h.9M373.9 298.3h.9M374.1 300.1h.9M381.2 292.5h.9M379.6 294.4h.9M378.1 297.0h.9M380.0 293.1h.9M383.9 298.4h.9M374.5 301.4h.9M381.9 299.0h.9M375.0 294.6h.9M373.6 302.5h.9M377.1 297.2h.9M375.6 301.3h.9M375.6 300.1h.9M370.3 294.7h.9M378.1 294.1h.9M384.0 290.6h.9M378.3 299.0h.9M378.6 297.1h.9M376.5 308.9h.9M377.9 295.2h.9M366.9 303.4h.9M376.8 303.2h.9M376.8 300.9h.9M381.9 295.4h.9M368.4 301.1h.9M384.0 292.4h.9M375.0 297.0h.9M375.9 299.3h.9M376.5 299.2h.9M373.9 292.1h.9M383.6 298.1h.9M378.4 293.5h.9M378.6 297.1h.9M378.7 297.7h.9M380.8 301.9h.9M375.6 296.0h.9M379.6 292.5h.9M374.3 296.1h.9M369.1 303.6h.9M375.9 296.6h.9M372.5 299.1h.9M375.2 293.4h.9M378.2 302.3h.9M371.4 297.2h.9M384.9 296.6h.9M374.3 302.5h.9M377.8 300.3h.9M383.0 299.4h.9M378.1 303.6h.9M371.4 293.6h.9M376.1 295.3h.9M376.3 291.1h.9M370.9 299.6h.9M376.2 298.7h.9M375.5 297.2h.9M371.3 303.1h.9M380.8 292.9h.9M375.2 298.5h.9M375.3 297.1h.9M377.7 291.2h.9M379.7 298.8h.9M373.3 296.7h.9M376.6 296.4h.9M377.1 292.3h.9M377.1 298.7h.9M378.3 298.8h.9M374.8 297.7h.9M380.5 297.6h.9M377.7 297.5h.9M378.9 293.1h.9M376.7 300.1h.9M373.6 299.2h.9M375.2 295.9h.9M372.8 294.3h.9M381.2 292.5h.9M377.4 292.8h.9M384.4 299.6h.9M374.0 293.6h.9M375.9 298.4h.9M383.0 302.1h.9M373.3 298.1h.9M380.3 295.0h.9M375.2 300.3h.9M371.8 297.4h.9M376.6 296.3h.9M377.0 291.9h.9M379.9 295.8h.9M384.1 303.8h.9M375.2 303.7h.9M382.1 294.6h.9M375.9 301.3h.9M374.2 296.2h.9M367.6 292.7h.9M372.6 295.0h.9M374.2 298.2h.9M377.8 296.1h.9M371.9 298.1h.9M379.2 297.1h.9M382.0 295.8h.9M380.0 298.2h.9M381.8 302.7h.9M372.6 291.3h.9M380.7 298.3h.9M378.2 295.8h.9M374.1 301.3h.9M378.6 295.5h.9M377.1 298.3h.9M372.1 295.2h.9M378.8 297.8h.9M371.8 298.3h.9M384.2 299.3h.9M372.0 295.8h.9M374.6 294.7h.9M373.9 295.4h.9M376.6 293.2h.9M380.3 298.4h.9M384.1 300.1h.9M380.4 299.0h.9M376.5 293.8h.9M379.4 297.6h.9M374.5 298.7h.9M378.1 295.2h.9M382.2 295.7h.9M377.4 300.8h.9M375.0 296.3h.9M378.6 296.2h.9M375.1 293.6h.9M377.8 296.1h.9M380.0 300.7h.9M376.8 299.9h.9M374.3 302.6h.9M374.9 296.9h.9M375.5 295.7h.9M379.8 297.3h.9M373.6 299.9h.9M377.0 299.2h.9M377.7 295.8h.9M370.3 296.4h.9M373.6 301.3h.9M376.1 302.2h.9M385.4 301.2h.9M385.7 294.3h.9" stroke="#0000ff" stroke-width=".9" fill="none"/>
<ellipse cx="405.7" cy="298.6" rx="8.14" ry="7.48" fill="url(#rgc)" transform="rotate(0 405.7 298.6)"/>
<path d="M403.9 295.2h.9M400.8 294.4h.9M409.0 296.0h.9M404.5 300.5h.9M404.2 303.7h.9M410.1 301.0h.9M411.8 300.4h.9M406.4 302.3h.9M409.6 294.2h.9M409.8 302.0h.9M397.4 305.3h.9M406.3 303.3h.9M401.4 299.3h.9M403.2 295.9h.9M406.7 293.9h.9M405.6 300.9h.9M403.0 295.1h.9M407.8 301.7h.9M409.1 296.9h.9M404.2 303.1h.9M408.9 299.7h.9M406.6 298.1h.9M408.0 301.0h.9M405.9 299.6h.9M400.6 298.2h.9M411.6 299.4h.9M400.7 297.2h.9M406.1 303.4h.9M413.6 298.6h.9M405.2 299.1h.9M401.7 303.0h.9M401.3 301.1h.9M404.1 295.3h.9M406.9 304.1h.9M401.3 299.4h.9M403.2 302.2h.9M400.3 294.5h.9M404.3 294.5h.9M409.3 293.8h.9M405.9 297.1h.9M409.3 297.0h.9M405.0 304.2h.9M408.1 302.8h.9M410.9 300.3h.9M406.9 293.2h.9M399.4 297.4h.9M406.8 302.3h.9M402.9 297.6h.9M413.3 295.1h.9M405.0 298.4h.9M403.2 303.6h.9M399.9 297.7h.9M399.6 296.4h.9M411.4 292.2h.9M399.6 298.7h.9M407.0 296.3h.9M407.3 298.1h.9M404.3 299.0h.9M410.2 294.9h.9M408.9 299.6h.9M404.9 296.3h.9M407.0 301.3h.9M402.3 301.1h.9M405.8 301.4h.9M406.7 298.1h.9M406.5 300.8h.9M400.4 298.7h.9M396.8 299.4h.9M404.0 298.8h.9M409.4 301.7h.9M410.9 301.7h.9M404.9 296.1h.9M415.2 296.5h.9M404.4 300.1h.9M402.7 299.2h.9M406.5 297.0h.9M401.9 298.8h.9M407.3 295.5h.9M406.2 299.0h.9M402.5 300.1h.9M400.7 301.7h.9M403.1 302.0h.9M406.1 298.9h.9M400.8 301.2h.9M401.7 305.9h.9M407.3 299.3h.9M405.8 300.9h.9M407.4 300.0h.9M408.9 298.2h.9M411.6 293.8h.9M399.7 300.6h.9M405.6 293.8h.9M401.3 296.4h.9M410.4 300.8h.9M399.6 294.3h.9M406.2 294.7h.9M403.5 296.8h.9M405.9 300.6h.9M403.1 297.0h.9M406.7 304.0h.9M407.2 297.5h.9M409.1 298.3h.9M400.7 300.8h.9M411.7 295.0h.9M408.5 294.7h.9M405.4 298.3h.9M404.4 298.3h.9M408.2 297.0h.9M404.9 297.7h.9M406.7 296.6h.9M408.6 299.7h.9M403.5 294.5h.9M404.7 302.0h.9M408.1 298.7h.9M413.1 303.7h.9M407.6 303.2h.9M404.8 297.5h.9M406.5 292.5h.9M405.8 297.0h.9M410.7 300.5h.9M411.4 297.2h.9M411.1 299.2h.9M407.7 300.0h.9M401.1 301.7h.9M404.1 300.8h.9M405.5 295.5h.9M404.6 299.6h.9M404.6 304.2h.9M410.2 299.0h.9M404.4 303.4h.9M405.9 302.5h.9M400.7 292.2h.9M408.5 301.7h.9M405.1 298.1h.9M407.4 300.4h.9M405.5 298.7h.9M406.6 302.2h.9M408.3 290.2h.9M407.0 297.7h.9M409.7 301.0h.9M403.8 298.4h.9M397.2 298.3h.9M401.7 299.1h.9M403.1 302.7h.9M410.5 297.5h.9M402.5 302.9h.9M400.8 297.5h.9M404.3 299.5h.9M405.9 295.7h.9M408.9 299.9h.9M406.9 303.8h.9M412.6 299.5h.9M404.2 297.8h.9M405.3 295.2h.9M403.2 297.0h.9M407.6 301.1h.9M396.7 293.4h.9M403.5 295.1h.9M405.6 292.9h.9M404.9 299.3h.9M407.2 297.2h.9M407.3 301.1h.9M404.4 295.2h.9M403.8 299.6h.9M406.7 293.1h.9M400.2 293.4h.9M412.3 300.0h.9M406.4 294.8h.9M397.9 305.3h.9M408.0 290.6h.9M411.6 299.9h.9M405.5 299.5h.9M409.0 292.1h.9M406.8 294.5h.9M404.2 298.0h.9M404.2 296.2h.9M406.4 297.3h.9M406.7 301.1h.9M402.6 298.0h.9M402.6 301.3h.9M408.4 302.0h.9M409.6 299.0h.9M402.0 296.2h.9M410.2 299.1h.9M408.7 296.8h.9M404.9 304.9h.9M409.3 293.5h.9M403.2 299.1h.9M409.6 301.8h.9M408.9 302.7h.9M408.3 301.4h.9M402.5 294.7h.9M403.8 302.8h.9M410.7 295.1h.9M404.7 298.9h.9M407.8 299.7h.9M411.2 299.5h.9M404.9 297.8h.9M409.7 297.8h.9M407.7 297.3h.9M401.4 291.6h.9M404.6 296.0h.9M408.7 297.4h.9M402.3 301.0h.9M404.2 305.5h.9M404.1 298.9h.9M402.9 303.6h.9M406.8 297.9h.9M405.4 291.8h.9M410.3 298.7h.9M410.0 295.9h.9M411.0 296.5h.9M405.8 305.2h.9M403.9 298.7h.9M405.1 299.0h.9M406.3 298.1h.9M407.3 297.2h.9M410.6 300.9h.9M401.5 296.9h.9M404.5 301.8h.9M398.6 302.3h.9M398.5 296.6h.9M402.6 297.5h.9M408.6 301.7h.9M405.3 298.0h.9M402.1 302.5h.9M403.9 307.5h.9M400.0 296.5h.9M408.2 304.6h.9M404.6 300.1h.9M403.4 299.4h.9M397.9 300.8h.9M403.7 300.0h.9M405.2 295.5h.9M400.0 295.4h.9M405.5 301.0h.9M409.8 301.8h.9M413.3 301.9h.9M412.3 301.2h.9M406.9 293.0h.9M409.3 298.2h.9M404.3 294.3h.9M410.3 298.6h.9M404.1 296.1h.9M405.4 300.1h.9M407.9 299.0h.9M406.5 298.9h.9M404.2 302.4h.9M405.2 296.8h.9M412.0 295.6h.9M404.0 299.0h.9M405.1 298.4h.9M409.2 301.9h.9M400.8 304.8h.9M401.4 295.3h.9M408.2 295.3h.9M401.3 301.4h.9M407.6 299.9h.9M410.9 302.0h.9M404.0 297.1h.9M407.2 297.3h.9M406.7 301.5h.9M406.7 294.0h.9M411.8 298.4h.9M407.0 293.3h.9M405.6 294.4h.9M411.5 297.1h.9M400.6 298.2h.9M402.3 298.8h.9M402.2 293.0h.9M405.0 297.7h.9M402.8 300.9h.9M408.8 298.3h.9M405.4 299.8h.9M409.1 299.2h.9M401.6 300.7h.9M414.4 300.7h.9M406.9 296.8h.9M400.1 300.3h.9M407.8 300.1h.9M406.3 302.8h.9M405.3 292.5h.9M405.2 299.2h.9M408.6 300.5h.9M408.3 300.1h.9M406.8 294.8h.9M404.5 301.9h.9M411.7 290.0h.9M405.2 297.2h.9M408.8 292.2h.9M403.6 299.2h.9M402.7 293.0h.9M412.5 297.8h.9M405.9 300.6h.9M412.7 296.3h.9M405.1 297.5h.9M409.2 301.7h.9M411.5 297.2h.9M401.2 296.6h.9M398.7 299.8h.9M398.1 300.0h.9M401.8 300.0h.9M411.1 298.2h.9M405.2 298.8h.9M403.4 299.8h.9M404.8 299.2h.9M402.7 300.4h.9M406.9 295.8h.9M405.4 294.1h.9M400.5 295.0h.9M407.2 297.3h.9M405.5 299.5h.9M404.6 298.0h.9M403.6 305.7h.9M402.7 300.6h.9M404.8 304.5h.9M401.5 298.3h.9M407.1 297.0h.9M413.5 299.5h.9M407.2 293.2h.9M407.2 294.7h.9M407.7 299.8h.9M405.2 296.8h.9M402.7 296.5h.9M411.4 296.0h.9M404.5 300.0h.9M400.6 297.3h.9M409.8 299.4h.9M407.7 301.0h.9M405.5 290.9h.9M408.4 300.5h.9M396.9 297.9h.9M410.9 294.8h.9M409.1 303.4h.9M405.2 297.7h.9M401.9 300.7h.9M406.5 300.4h.9M405.4 298.8h.9M403.4 302.1h.9M405.1 302.7h.9M408.9 296.2h.9M401.5 302.0h.9M407.1 297.5h.9M409.5 292.0h.9M407.8 297.5h.9M408.4 296.7h.9M403.9 300.8h.9M407.0 293.9h.9M407.6 300.9h.9M399.6 295.5h.9M401.4 295.4h.9M403.1 304.8h.9M401.9 295.5h.9M404.7 302.9h.9M404.2 301.7h.9M409.4 297.3h.9M407.1 301.9h.9M406.5 303.9h.9M407.1 303.8h.9M402.0 299.4h.9M396.8 294.0h.9M403.6 297.3h.9M404.8 300.3h.9M400.3 293.0h.9M408.4 299.6h.9M409.1 301.3h.9M406.8 296.9h.9M407.5 295.6h.9M400.8 297.5h.9M413.8 295.5h.9M410.6 298.0h.9M412.0 297.0h.9M401.3 296.5h.9M404.9 300.4h.9M403.0 299.3h.9M414.3 298.7h.9M408.1 307.2h.9M402.8 298.6h.9M404.4 299.5h.9M402.7 297.6h.9" stroke="#00ffff" stroke-width=".9" fill="none"/>
<ellipse cx="434.2" cy="298.6" rx="7.48" ry="8.8" fill="url(#rgb)" transform="rotate(0 434.2 298.6)"/>
<path d="M436.6 298.6h.9M427.6 303.0h.9M435.4 306.0h.9M431.3 300.0h.9M431.0 301.6h.9M432.2 303.6h.9M434.5 290.3h.9M430.3 301.2h.9M436.7 302.5h.9M435.8 296.8h.9M434.6 298.8h.9M434.2 302.5h.9M431.0 297.4h.9M438.6 298.1h.9M436.0 296.6h.9M434.3 303.6h.9M439.5 298.8h.9M432.0 304.4h.9M427.7 297.9h.9M436.6 307.7h.9M437.7 298.1h.9M433.9 298.4h.9M430.9 297.0h.9M435.2 292.1h.9M431.4 287.2h.9M437.3 299.1h.9M428.5 292.9h.9M431.7 304.9h.9M435.7 294.3h.9M432.4 292.3h.9M430.9 292.0h.9M440.2 301.3h.9M438.5 300.3h.9M431.6 302.4h.9M435.7 295.8h.9M428.5 298.5h.9M430.0 297.5h.9M427.2 291.5h.9M437.4 300.7h.9M434.6 297.6h.9M434.8 294.9h.9M436.7 304.7h.9M432.0 292.6h.9M434.1 292.0h.9M440.8 298.2h.9M435.5 299.3h.9M432.4 295.7h.9M430.4 306.2h.9M434.4 302.7h.9M439.2 297.4h.9M432.4 297.0h.9M435.3 294.7h.9M437.3 297.6h.9M431.5 301.3h.9M439.0 295.1h.9M433.5 297.9h.9M435.9 301.6h.9M433.7 295.0h.9M432.0 302.0h.9M440.4 299.3h.9M431.3 308.3h.9M438.0 295.7h.9M429.8 295.0h.9M444.2 303.4h.9M430.7 295.6h.9M432.8 293.5h.9M436.1 294.3h.9M433.3 300.8h.9M433.2 302.4h.9M432.3 303.1h.9M431.8 296.3h.9M429.1 299.8h.9M436.4 298.6h.9M439.0 301.0h.9M435.3 292.1h.9M433.5 299.9h.9M430.0 304.3h.9M435.2 304.4h.9M429.9 305.5h.9M438.8 299.1h.9M432.9 304.9h.9M430.7 297.7h.9M438.0 298.2h.9M431.3 294.0h.9M432.4 303.5h.9M443.5 294.7h.9M429.9 301.0h.9M433.5 296.9h.9M433.6 303.8h.9M436.7 295.6h.9M435.8 293.8h.9M438.0 290.6h.9M432.6 302.1h.9M440.0 300.5h.9M427.3 297.8h.9M437.3 301.1h.9M435.4 296.3h.9M427.5 296.7h.9M434.6 295.9h.9M431.2 300.1h.9M432.9 299.2h.9M437.8 295.7h.9M437.5 294.1h.9M437.1 300.1h.9M435.8 301.4h.9M434.8 291.7h.9M439.9 299.4h.9M434.8 298.8h.9M435.4 297.6h.9M429.5 293.9h.9M440.2 301.0h.9M430.4 304.9h.9M435.1 294.2h.9M431.4 295.9h.9M438.0 301.5h.9M433.2 297.6h.9M431.7 299.0h.9M430.5 302.0h.9M433.8 302.3h.9M439.5 299.7h.9M437.1 286.5h.9M430.9 299.5h.9M431.1 302.8h.9M433.0 297.8h.9M426.8 301.2h.9M432.4 303.7h.9M435.9 298.3h.9M437.1 297.5h.9M431.3 298.4h.9M433.3 302.8h.9M431.7 294.3h.9M438.8 302.1h.9M432.9 299.0h.9M428.5 305.1h.9M432.3 290.0h.9M433.7 300.5h.9M436.4 299.5h.9M435.0 297.9h.9M433.8 297.6h.9M442.7 298.8h.9M434.6 290.4h.9M434.0 300.8h.9M436.6 292.4h.9M433.9 304.8h.9M433.5 297.8h.9M436.2 298.2h.9M432.3 296.0h.9M428.2 299.3h.9M436.1 300.9h.9M431.5 300.2h.9M430.5 292.1h.9M436.3 293.5h.9M429.3 297.3h.9M433.0 304.7h.9M437.7 306.8h.9M434.8 292.1h.9M429.7 299.6h.9M429.4 300.3h.9M437.7 300.9h.9M428.3 303.0h.9M440.1 302.6h.9M442.3 295.3h.9M433.7 301.9h.9M437.6 304.5h.9M433.6 295.8h.9M433.4 295.7h.9M434.5 297.2h.9M436.8 295.8h.9M437.3 295.5h.9M438.4 303.4h.9M434.0 297.7h.9M435.3 300.3h.9M430.6 301.4h.9M427.7 293.9h.9M430.0 299.3h.9M431.2 289.2h.9M437.9 296.3h.9M433.0 299.9h.9M435.4 300.9h.9M429.7 299.8h.9M437.5 301.5h.9M439.2 292.8h.9M438.3 292.8h.9M430.3 299.4h.9M442.2 303.3h.9M433.7 298.9h.9M437.9 293.7h.9M432.9 296.2h.9M438.3 300.8h.9M435.2 303.4h.9M433.3 294.9h.9M437.3 291.3h.9M435.1 298.5h.9M428.6 299.3h.9M431.2 304.0h.9M436.8 302.2h.9M437.6 298.6h.9M438.0 301.0h.9M436.1 302.8h.9M441.0 291.9h.9M432.6 292.7h.9M429.9 301.3h.9M430.8 297.7h.9M432.2 302.5h.9M439.7 299.0h.9M431.8 296.3h.9M433.5 292.1h.9M430.0 299.3h.9M435.0 299.3h.9M435.4 295.6h.9M433.8 294.6h.9M435.0 290.6h.9M436.0 299.5h.9M432.8 299.2h.9M437.7 298.8h.9M440.8 303.4h.9M434.6 297.8h.9M430.1 294.3h.9M434.9 299.1h.9M435.4 305.2h.9M435.6 300.2h.9M433.4 294.2h.9M432.6 298.2h.9M436.6 301.3h.9M430.7 298.2h.9M436.8 292.9h.9M433.4 292.8h.9M431.8 303.2h.9M435.5 307.2h.9M430.7 302.2h.9M433.6 292.2h.9M434.9 299.5h.9M433.3 303.4h.9M433.1 301.5h.9M434.2 296.5h.9M435.5 302.8h.9M439.1 303.3h.9M428.4 293.3h.9M433.3 303.3h.9M427.7 299.1h.9M430.1 301.7h.9M437.8 297.5h.9M438.9 301.6h.9M433.7 304.4h.9M441.5 298.3h.9M435.1 299.9h.9M437.0 297.0h.9M433.5 303.3h.9M433.8 303.9h.9M435.2 305.4h.9M439.3 294.0h.9M436.6 297.7h.9M432.2 302.1h.9M437.9 300.7h.9M438.0 305.1h.9M435.5 301.1h.9M435.9 304.6h.9M431.3 298.4h.9M430.2 296.4h.9M435.5 297.2h.9M431.7 297.7h.9M438.1 306.9h.9M434.7 295.8h.9M435.0 296.2h.9M435.4 301.4h.9M440.9 295.7h.9M433.8 295.4h.9M438.0 294.9h.9M438.7 305.8h.9M428.5 303.0h.9M442.1 299.1h.9M434.1 306.7h.9M433.6 298.3h.9M431.2 301.3h.9M438.8 295.6h.9M437.1 300.7h.9M439.7 298.3h.9M431.7 299.6h.9M435.9 297.6h.9M431.1 301.2h.9M428.9 294.1h.9M433.9 293.3h.9M436.0 292.3h.9M433.7 300.4h.9M438.9 295.4h.9M435.3 303.5h.9M431.6 300.2h.9M438.2 303.1h.9M434.1 300.1h.9M431.9 300.9h.9M435.8 296.6h.9M442.5 301.3h.9M431.5 298.9h.9M436.0 294.6h.9M431.2 301.7h.9M434.1 298.5h.9M437.9 297.7h.9M429.2 294.3h.9M433.8 297.9h.9M433.0 295.2h.9M428.3 297.7h.9M435.7 299.8h.9M436.4 310.5h.9M430.3 296.3h.9M434.9 289.1h.9M436.7 298.3h.9M445.2 298.3h.9M434.0 298.7h.9M433.5 296.0h.9M438.0 300.0h.9M435.4 297.6h.9M427.8 296.8h.9M426.6 296.2h.9M435.5 297.7h.9M434.6 305.0h.9M436.2 302.7h.9M433.2 297.4h.9M429.5 304.6h.9M438.2 298.4h.9M435.9 299.7h.9M438.9 300.7h.9M434.0 294.5h.9M425.9 289.3h.9M433.5 303.5h.9M431.8 297.7h.9M436.4 305.1h.9M426.2 298.1h.9M432.6 302.0h.9M432.9 291.7h.9M426.2 292.0h.9M432.8 294.4h.9M429.6 306.6h.9M429.1 297.4h.9M438.4 298.7h.9M427.3 298.7h.9M434.2 304.0h.9M431.4 292.5h.9M432.9 294.2h.9M434.9 301.2h.9M434.0 298.4h.9M430.0 293.1h.9M435.3 304.3h.9M437.0 308.3h.9M430.8 290.1h.9M434.1 299.7h.9M431.3 291.1h.9M438.9 291.0h.9M436.0 302.0h.9M438.8 298.4h.9M437.4 297.6h.9M436.8 304.0h.9M434.1 291.7h.9M435.7 286.6h.9M439.0 296.1h.9M432.3 302.6h.9M437.3 300.6h.9M432.2 301.5h.9M434.7 297.2h.9M431.5 300.5h.9M431.6 303.9h.9M428.0 294.6h.9M434.9 291.8h.9M440.6 293.0h.9M432.1 296.9h.9M434.8 304.2h.9M432.7 296.6h.9M438.7 298.6h.9M436.9 298.8h.9M432.4 296.1h.9M430.8 295.4h.9M434.8 298.4h.9M436.9 299.0h.9M435.6 295.1h.9M428.6 302.7h.9M440.4 297.4h.9M437.2 295.1h.9M431.1 300.2h.9M437.2 300.9h.9M438.0 299.0h.9M433.7 299.0h.9" stroke="#0000ff" stroke-width=".9" fill="none"/>
<ellipse cx="351.3" cy="324.5" rx="9.680000000000001" ry="7.48" fill="url(#rgk)" transform="rotate(20 351.3 324.5)"/>
<path d="M348.0 322.0h.9M345.7 318.2h.9M355.2 323.9h.9M343.1 317.4h.9M354.7 325.5h.9M350.3 326.3h.9M356.5 325.3h.9M350.0 331.3h.9M354.5 323.7h.9M348.3 321.8h.9M358.6 319.7h.9M354.5 324.1h.9M353.8 326.1h.9M345.2 320.5h.9M343.1 321.0h.9M347.0 326.2h.9M343.3 322.6h.9M347.8 321.4h.9M342.0 327.8h.9M350.2 324.4h.9M363.0 322.5h.9M352.0 321.4h.9M350.6 322.7h.9M352.6 327.7h.9M350.2 328.4h.9M351.4 319.9h.9M343.1 324.6h.9M349.3 325.5h.9M355.4 322.7h.9M355.9 328.9h.9M357.4 329.3h.9M345.8 324.6h.9M353.5 320.1h.9M355.3 325.0h.9M351.1 330.4h.9M357.3 325.2h.9M353.2 328.9h.9M350.7 328.2h.9M354.3 324.0h.9M357.5 325.9h.9M349.7 322.6h.9M342.5 325.2h.9M348.3 316.8h.9M355.3 318.0h.9M349.2 326.5h.9M352.3 326.2h.9M351.2 321.0h.9M351.6 327.4h.9M349.9 327.5h.9M342.2 317.9h.9M340.7 319.1h.9M353.5 320.7h.9M349.1 323.4h.9M348.1 322.5h.9M355.3 326.0h.9M355.2 327.5h.9M349.0 324.0h.9M355.8 324.1h.9M347.1 327.4h.9M354.1 327.9h.9M349.3 323.1h.9M352.5 326.4h.9M356.3 322.3h.9M356.2 322.7h.9M347.8 321.5h.9M347.8 327.0h.9M353.9 333.1h.9M348.2 323.9h.9M358.9 321.0h.9M352.5 331.8h.9M356.3 323.7h.9M350.8 324.9h.9M349.7 320.1h.9M357.2 323.5h.9M357.0 322.7h.9M350.7 316.0h.9M338.6 326.7h.9M349.0 322.3h.9M356.6 321.2h.9M350.0 328.1h.9M353.0 330.5h.9M352.5 319.4h.9M350.8 326.2h.9M347.3 321.9h.9M348.6 331.5h.9M349.5 321.0h.9M351.2 322.2h.9M352.1 322.9h.9M346.9 320.4h.9M341.2 327.0h.9M357.3 326.2h.9M351.4 327.0h.9M353.7 322.1h.9M346.7 325.8h.9M349.7 325.5h.9M348.6 326.7h.9M350.4 325.1h.9M356.1 318.9h.9M353.6 330.2h.9M351.2 318.5h.9M354.0 322.3h.9M345.3 328.0h.9M352.1 320.9h.9M345.4 323.8h.9M352.3 326.3h.9M347.3 320.6h.9M351.7 323.2h.9M352.0 323.5h.9M350.9 325.0h.9M352.5 329.6h.9M353.5 317.9h.9M359.1 321.8h.9M351.0 328.7h.9M352.4 329.7h.9M348.8 331.6h.9M355.5 320.0h.9M354.7 324.6h.9M356.7 323.9h.9M356.4 321.7h.9M350.3 323.7h.9M357.1 323.6h.9M351.4 328.6h.9M341.9 326.8h.9M350.7 325.1h.9M359.6 327.3h.9M352.9 329.7h.9M356.0 330.7h.9M348.3 324.8h.9M346.7 318.4h.9M350.4 323.1h.9M349.9 321.2h.9M360.0 322.9h.9M355.0 321.2h.9M353.7 322.3h.9M346.6 315.4h.9M354.8 330.3h.9M350.3 323.5h.9M354.6 320.0h.9M350.5 335.1h.9M351.4 318.5h.9M348.9 323.6h.9M347.9 329.6h.9M354.6 323.6h.9M352.8 323.4h.9M346.2 328.2h.9M351.3 322.4h.9M357.6 325.8h.9M358.7 317.5h.9M355.6 321.9h.9M348.6 326.8h.9M361.4 319.7h.9M357.3 325.5h.9M348.1 327.2h.9M351.4 322.5h.9M350.7 323.4h.9M347.9 327.2h.9M359.3 324.1h.9M348.7 323.1h.9M348.0 323.6h.9M352.0 324.7h.9M347.9 324.4h.9M346.4 321.3h.9M350.6 324.4h.9M355.0 325.2h.9M346.6 324.3h.9M349.8 326.8h.9M356.4 331.9h.9M352.4 321.3h.9M352.5 324.2h.9M350.0 318.4h.9M357.3 323.0h.9M354.4 329.5h.9M346.9 324.4h.9M352.7 319.6h.9M348.5 324.0h.9M356.2 323.6h.9M349.2 327.5h.9M350.4 321.6h.9M344.4 323.5h.9M349.5 320.2h.9M350.3 321.3h.9M364.1 327.1h.9M356.0 321.5h.9M354.5 326.9h.9M347.1 331.2h.9M348.6 319.5h.9M342.0 312.5h.9M348.4 323.2h.9M354.6 325.4h.9M349.2 320.1h.9M358.6 325.5h.9M358.7 326.8h.9M350.2 322.7h.9M352.4 327.8h.9M349.2 325.5h.9M347.8 317.2h.9M345.2 320.5h.9M347.7 325.7h.9M350.3 322.5h.9M351.7 319.2h.9M343.8 328.8h.9M355.4 320.6h.9M345.7 323.8h.9M344.8 313.6h.9M350.0 321.8h.9M355.8 322.1h.9M345.4 323.9h.9M347.1 323.4h.9M343.8 320.3h.9M360.5 322.5h.9M351.1 324.0h.9M352.0 324.2h.9M355.1 323.4h.9M347.1 323.6h.9M354.4 318.9h.9M354.8 324.3h.9M355.3 325.9h.9M346.5 321.3h.9M352.9 328.9h.9M349.8 326.3h.9M356.4 327.4h.9M356.5 328.7h.9M348.8 319.0h.9M345.8 328.8h.9M357.2 323.3h.9M348.7 331.1h.9M347.8 323.3h.9M348.8 326.7h.9M343.0 322.7h.9M350.7 328.5h.9M352.6 326.4h.9M347.0 323.9h.9M347.0 329.6h.9M352.6 325.1h.9M351.8 325.0h.9M348.9 326.0h.9M352.3 321.6h.9M354.1 328.3h.9M356.5 324.9h.9M353.4 330.9h.9M353.5 326.8h.9M353.0 319.4h.9M347.1 322.8h.9M355.0 327.8h.9M348.8 324.4h.9M351.7 322.0h.9M350.1 327.2h.9M347.1 321.5h.9M352.3 321.2h.9M346.9 324.6h.9M360.1 328.0h.9M347.3 328.9h.9M354.1 318.6h.9M351.3 317.4h.9M348.3 328.8h.9M355.9 338.3h.9M355.8 325.0h.9M349.1 322.3h.9M347.9 319.9h.9M352.6 325.5h.9M352.3 324.3h.9M344.5 324.1h.9M350.4 327.2h.9M353.1 321.6h.9M354.3 328.5h.9M349.4 326.5h.9M353.7 323.7h.9M353.1 322.5h.9M357.4 325.1h.9M353.2 331.8h.9M350.8 326.8h.9M359.6 320.7h.9M359.4 329.8h.9M346.1 323.3h.9M360.1 328.2h.9M355.8 330.1h.9M348.2 324.8h.9M359.4 324.7h.9M352.4 323.0h.9M349.4 323.2h.9M343.3 319.3h.9M345.4 318.9h.9M347.7 327.1h.9M345.8 325.8h.9M350.5 321.5h.9M344.2 322.6h.9M350.0 327.0h.9M351.2 317.0h.9M352.0 329.8h.9M351.3 325.1h.9M353.0 326.2h.9M362.1 328.2h.9M352.4 328.3h.9M355.5 319.9h.9M353.4 324.1h.9M346.1 326.1h.9M348.1 324.9h.9M347.7 325.5h.9M357.8 323.9h.9M346.9 326.5h.9M346.4 326.7h.9M354.0 322.3h.9M347.4 328.1h.9M354.6 326.4h.9M350.9 328.5h.9M348.4 324.8h.9M351.6 329.6h.9M350.0 323.5h.9M352.7 324.3h.9M349.6 326.1h.9M349.6 323.0h.9M352.3 325.4h.9M349.9 323.8h.9M347.2 320.4h.9M349.6 320.1h.9M355.1 333.7h.9M350.4 324.0h.9M351.2 323.3h.9M347.9 326.7h.9M355.0 321.3h.9M353.2 322.3h.9M354.8 323.1h.9M353.4 322.7h.9M350.1 325.5h.9M355.8 321.2h.9M350.0 321.2h.9M344.0 322.9h.9M350.7 323.4h.9M345.9 329.2h.9M350.7 314.9h.9M349.5 325.0h.9M347.0 322.6h.9M342.1 320.4h.9M352.6 321.7h.9M348.0 319.6h.9M347.9 327.2h.9M352.4 322.8h.9M348.3 326.4h.9M349.6 320.7h.9M354.5 325.8h.9M357.0 325.8h.9M349.5 325.5h.9M352.0 325.0h.9M348.2 321.0h.9M348.7 321.9h.9M357.6 323.6h.9M352.7 326.7h.9M343.7 325.5h.9M351.8 326.1h.9M350.9 328.1h.9M353.6 323.1h.9M349.7 320.9h.9M349.1 320.7h.9M351.1 328.1h.9M349.2 327.6h.9M355.1 328.5h.9M347.5 313.8h.9M355.1 327.8h.9M346.4 320.1h.9M352.2 324.9h.9M346.0 322.5h.9M345.5 321.6h.9M353.5 326.4h.9M348.2 325.7h.9M359.6 326.6h.9M353.5 320.2h.9M356.4 320.6h.9M349.3 327.2h.9M357.5 315.0h.9M350.8 315.6h.9M351.8 319.4h.9M359.1 331.7h.9M347.5 322.1h.9M350.4 327.8h.9M356.2 328.8h.9M349.7 312.5h.9M346.3 318.5h.9M356.0 321.4h.9M355.6 329.0h.9M350.6 327.3h.9" stroke="#000" stroke-width=".9" fill="none"/>
<ellipse cx="377.1" cy="323.9" rx="8.8" ry="7.040000000000001" fill="url(#rgg)" transform="rotate(0 377.1 323.9)"/>
<path d="M374.3 327.3h.9M377.5 322.0h.9M373.9 317.2h.9M375.8 325.7h.9M375.5 322.5h.9M384.0 333.2h.9M371.7 328.0h.9M377.0 323.9h.9M373.8 323.1h.9M378.3 325.3h.9M374.8 322.2h.9M379.7 328.8h.9M375.4 325.6h.9M380.1 325.1h.9M373.4 324.0h.9M377.4 320.3h.9M377.3 323.9h.9M374.3 329.3h.9M378.3 321.2h.9M381.9 323.0h.9M373.1 320.1h.9M381.4 320.1h.9M378.4 325.4h.9M374.8 326.3h.9M381.3 323.7h.9M377.1 326.1h.9M377.4 328.2h.9M380.2 324.2h.9M378.0 322.7h.9M379.8 321.6h.9M377.0 319.9h.9M386.7 324.9h.9M377.3 325.5h.9M370.5 328.6h.9M370.6 326.0h.9M375.6 326.4h.9M379.7 324.8h.9M381.2 322.9h.9M378.1 322.9h.9M374.4 320.4h.9M378.6 329.5h.9M373.8 322.3h.9M374.4 325.2h.9M369.1 324.5h.9M374.2 320.7h.9M378.1 324.6h.9M378.3 327.9h.9M371.5 327.5h.9M379.3 331.8h.9M382.7 325.6h.9M369.4 324.8h.9M383.3 326.6h.9M376.8 319.9h.9M377.3 319.2h.9M374.0 322.6h.9M378.8 321.9h.9M376.9 323.8h.9M378.2 325.9h.9M379.0 323.0h.9M377.8 321.9h.9M372.3 322.0h.9M377.1 317.3h.9M380.2 325.1h.9M370.8 320.6h.9M373.5 316.5h.9M370.1 325.3h.9M369.1 331.1h.9M382.8 329.0h.9M379.1 327.7h.9M382.4 320.8h.9M383.5 321.4h.9M375.7 315.3h.9M375.8 318.3h.9M386.3 325.1h.9M380.7 322.3h.9M380.9 325.7h.9M375.6 325.7h.9M375.4 319.7h.9M368.9 318.6h.9M379.5 330.3h.9M375.2 321.9h.9M382.4 323.4h.9M378.5 324.0h.9M367.3 319.5h.9M378.4 324.2h.9M376.0 319.5h.9M377.7 323.0h.9M373.1 323.1h.9M378.1 331.0h.9M381.6 320.9h.9M380.3 318.8h.9M367.5 321.3h.9M384.9 326.3h.9M374.3 325.3h.9M368.6 323.3h.9M373.1 319.8h.9M375.5 321.3h.9M378.4 319.7h.9M378.7 325.4h.9M380.4 326.0h.9M379.9 327.4h.9M382.3 327.4h.9M381.9 319.5h.9M376.1 328.8h.9M374.7 326.4h.9M381.5 328.4h.9M374.6 324.7h.9M376.6 326.1h.9M369.3 323.7h.9M381.9 323.9h.9M381.3 328.6h.9M377.7 322.5h.9M374.8 319.9h.9M375.3 323.3h.9M381.1 321.6h.9M374.3 323.7h.9M376.2 328.1h.9M377.2 328.6h.9M377.5 315.2h.9M376.4 320.2h.9M377.2 320.8h.9M380.9 323.0h.9M375.7 330.8h.9M375.8 322.4h.9M375.7 326.4h.9M378.2 324.0h.9M381.9 321.9h.9M380.1 326.7h.9M378.4 322.3h.9M376.6 327.6h.9M366.1 328.9h.9M373.3 327.0h.9M379.3 325.3h.9M379.3 322.3h.9M383.8 324.1h.9M380.5 323.2h.9M375.8 327.5h.9M373.2 323.8h.9M373.8 318.6h.9M381.2 324.0h.9M369.6 323.7h.9M386.7 327.4h.9M376.3 325.1h.9M376.0 324.7h.9M376.6 324.6h.9M375.3 326.8h.9M372.3 318.2h.9M370.3 321.7h.9M377.6 325.8h.9M380.4 318.8h.9M370.7 326.0h.9M384.4 326.0h.9M376.6 327.4h.9M383.9 327.2h.9M378.0 322.9h.9M374.9 322.5h.9M372.2 325.1h.9M381.4 323.0h.9M380.3 326.2h.9M376.7 323.8h.9M383.2 321.4h.9M374.3 322.6h.9M374.1 325.8h.9M379.6 323.0h.9M379.8 318.0h.9M377.6 331.8h.9M381.1 320.5h.9M380.8 321.8h.9M379.6 326.2h.9M371.4 330.1h.9M371.5 322.5h.9M380.0 326.0h.9M378.1 322.9h.9M380.4 325.2h.9M375.8 327.7h.9M383.6 322.0h.9M375.6 320.5h.9M372.3 324.6h.9M381.1 319.2h.9M376.2 325.1h.9M374.8 326.9h.9M379.7 323.8h.9M382.0 325.1h.9M381.7 326.0h.9M376.2 329.0h.9M374.4 325.2h.9M375.9 321.2h.9M371.9 327.9h.9M382.7 327.6h.9M369.2 326.2h.9M377.7 326.0h.9M378.3 326.0h.9M379.1 327.6h.9M377.8 322.2h.9M368.3 325.0h.9M368.6 322.0h.9M377.1 323.6h.9M374.2 329.8h.9M371.4 328.0h.9M376.0 323.6h.9M377.5 325.5h.9M370.1 325.6h.9M376.5 323.9h.9M377.3 323.6h.9M381.7 321.0h.9M374.1 325.7h.9M376.4 327.0h.9M365.6 323.2h.9M377.5 329.9h.9M381.4 320.9h.9M381.6 321.2h.9M378.5 322.8h.9M371.5 326.7h.9M379.5 322.9h.9M373.8 321.4h.9M376.6 327.7h.9M375.4 323.8h.9M375.5 319.9h.9M375.6 321.9h.9M382.0 324.5h.9M382.4 323.7h.9M377.9 328.6h.9M379.1 324.2h.9M379.2 325.1h.9M381.8 322.0h.9M375.3 321.0h.9M382.1 326.1h.9M375.9 325.8h.9M385.0 326.6h.9M376.9 320.8h.9M379.5 332.6h.9M382.0 323.0h.9M370.9 327.2h.9M373.8 322.6h.9M386.0 322.6h.9M376.2 332.7h.9M384.1 316.2h.9M380.4 323.2h.9M377.9 321.9h.9M378.4 326.1h.9M376.0 326.6h.9M380.3 320.1h.9M384.5 324.5h.9M380.7 328.7h.9M377.1 331.9h.9M373.6 320.5h.9M375.8 330.1h.9M383.7 326.7h.9M373.3 322.7h.9M376.4 324.3h.9M372.6 324.1h.9M375.2 325.4h.9M373.3 322.2h.9M377.7 326.2h.9M377.5 324.5h.9M376.6 321.9h.9M375.4 321.1h.9M379.3 325.3h.9M376.5 321.1h.9M375.5 323.4h.9M381.3 322.8h.9M378.0 321.8h.9M379.8 323.0h.9M373.7 317.6h.9M375.8 322.8h.9M381.9 319.8h.9M374.7 319.9h.9M380.3 324.8h.9M375.7 325.9h.9M377.8 322.3h.9M376.9 325.9h.9M380.9 329.7h.9M378.3 324.1h.9M377.5 321.2h.9M376.5 325.8h.9M375.6 322.9h.9M372.0 325.9h.9M381.4 323.9h.9M377.8 324.6h.9M377.3 323.2h.9M381.1 331.2h.9M381.2 324.9h.9M375.7 319.9h.9M381.3 323.3h.9M379.4 322.2h.9M367.2 330.7h.9M372.3 325.9h.9M381.8 318.5h.9M377.9 323.6h.9M370.9 329.6h.9M375.2 325.6h.9M377.2 330.1h.9M373.5 322.6h.9M378.3 326.3h.9M377.1 327.6h.9M381.8 325.3h.9M371.7 320.8h.9M370.6 322.4h.9M380.8 329.2h.9M377.9 326.8h.9M375.6 323.0h.9M380.1 318.6h.9M376.4 321.1h.9M378.2 325.8h.9M378.0 328.4h.9M377.5 328.0h.9M378.1 317.3h.9M377.0 321.0h.9M375.7 316.2h.9M376.1 322.8h.9M372.7 323.2h.9M380.4 324.2h.9M379.9 321.0h.9M384.0 320.9h.9M372.2 324.6h.9M379.5 328.1h.9M380.1 327.1h.9M371.0 324.5h.9M374.7 316.9h.9M383.1 320.1h.9M379.7 326.7h.9M375.9 320.7h.9M382.4 323.9h.9M377.8 324.3h.9M378.5 325.9h.9M377.8 327.1h.9M377.0 319.5h.9M373.9 325.7h.9M373.5 324.6h.9M380.1 321.8h.9M377.0 319.8h.9M372.1 325.5h.9M378.0 320.3h.9M375.4 321.7h.9M375.8 321.8h.9M375.1 331.2h.9M375.1 319.6h.9M375.5 327.9h.9M376.3 326.0h.9M375.8 322.6h.9M382.9 324.8h.9M374.8 326.2h.9M371.5 319.1h.9M375.9 322.5h.9M377.5 319.9h.9M378.8 323.3h.9M376.1 325.0h.9M375.7 327.3h.9M373.6 324.9h.9M376.5 316.5h.9M373.2 322.3h.9M378.8 319.7h.9M374.8 322.3h.9M371.4 322.1h.9M380.9 326.9h.9M372.9 321.4h.9M374.2 316.9h.9M386.0 321.5h.9M378.3 322.3h.9M375.9 318.9h.9M372.8 323.3h.9M374.3 326.0h.9M374.9 325.1h.9M379.0 320.0h.9M381.8 323.2h.9M386.8 322.0h.9M381.1 326.2h.9M371.0 318.8h.9M371.2 326.5h.9M377.1 326.9h.9M372.6 326.3h.9M376.9 325.8h.9M379.5 324.2h.9M382.4 319.3h.9M375.5 327.2h.9M372.9 326.3h.9M377.2 324.8h.9M367.5 321.0h.9M379.7 320.0h.9M380.1 326.2h.9" stroke="#00ff00" stroke-width=".9" fill="none"/>
<ellipse cx="405.7" cy="324.5" rx="8.8" ry="7.48" fill="url(#rgk)" transform="rotate(0 405.7 324.5)"/>
<path d="M393.9 324.9h.9M401.1 320.8h.9M399.2 325.5h.9M410.6 333.1h.9M411.4 322.8h.9M399.1 328.1h.9M408.7 324.7h.9M400.1 320.3h.9M404.6 329.7h.9M411.7 321.2h.9M398.6 324.1h.9M408.8 321.8h.9M406.0 327.6h.9M398.9 330.8h.9M411.3 324.7h.9M406.7 326.4h.9M402.7 327.1h.9M405.9 321.9h.9M405.2 323.5h.9M403.7 326.9h.9M408.7 327.8h.9M403.8 326.8h.9M404.5 330.3h.9M401.3 328.0h.9M403.4 318.5h.9M408.5 319.9h.9M402.1 324.3h.9M407.3 324.1h.9M407.2 325.5h.9M399.0 328.7h.9M411.3 322.5h.9M408.4 323.5h.9M402.3 323.5h.9M397.8 322.3h.9M408.3 328.0h.9M407.5 325.3h.9M403.0 327.8h.9M413.2 325.7h.9M412.5 324.9h.9M404.6 327.6h.9M406.1 323.7h.9M403.4 324.9h.9M405.5 319.0h.9M407.5 330.4h.9M407.0 326.1h.9M407.7 327.6h.9M408.7 323.4h.9M401.1 326.1h.9M407.3 322.6h.9M404.6 326.1h.9M411.9 322.5h.9M401.9 324.5h.9M402.5 322.8h.9M401.9 328.5h.9M407.4 325.1h.9M411.9 335.4h.9M408.0 327.5h.9M401.9 326.5h.9M403.2 319.4h.9M407.2 322.6h.9M411.4 323.6h.9M404.6 321.6h.9M405.0 324.2h.9M408.2 321.9h.9M402.8 320.9h.9M403.0 323.2h.9M405.0 322.3h.9M409.2 322.1h.9M406.6 324.0h.9M407.1 324.8h.9M404.0 324.5h.9M403.6 324.0h.9M410.2 327.4h.9M411.0 321.7h.9M410.3 326.0h.9M408.2 323.6h.9M412.5 321.5h.9M406.6 320.0h.9M404.5 325.8h.9M406.6 325.5h.9M410.8 321.0h.9M398.8 328.0h.9M399.7 323.5h.9M414.8 327.0h.9M405.1 327.7h.9M402.4 327.0h.9M404.1 322.2h.9M401.8 322.5h.9M406.7 330.7h.9M409.4 327.7h.9M405.1 330.3h.9M405.3 329.4h.9M400.9 326.6h.9M401.5 323.5h.9M404.9 318.4h.9M407.2 324.8h.9M398.9 324.2h.9M405.2 319.2h.9M403.1 328.0h.9M404.0 323.9h.9M405.2 323.8h.9M401.4 324.0h.9M398.0 325.1h.9M404.4 320.0h.9M399.7 325.2h.9M403.9 322.4h.9M403.5 325.3h.9M409.7 323.1h.9M398.2 321.6h.9M402.0 326.0h.9M410.0 325.7h.9M402.3 327.7h.9M403.9 320.5h.9M404.9 331.4h.9M405.5 322.2h.9M408.5 321.9h.9M410.1 326.9h.9M400.5 323.1h.9M404.2 321.8h.9M407.0 323.7h.9M412.3 325.4h.9M409.3 327.8h.9M407.4 327.3h.9M403.0 327.9h.9M409.5 328.1h.9M403.5 322.7h.9M410.2 324.3h.9M415.6 326.3h.9M401.2 326.7h.9M406.6 318.2h.9M403.4 317.2h.9M415.9 320.6h.9M402.4 323.4h.9M402.5 328.6h.9M404.6 319.8h.9M408.6 325.7h.9M400.1 327.7h.9M400.5 321.5h.9M411.4 322.9h.9M405.9 321.7h.9M404.5 317.7h.9M404.5 321.9h.9M409.3 323.0h.9M402.4 322.9h.9M398.2 325.9h.9M398.7 320.4h.9M406.7 323.4h.9M413.6 319.8h.9M407.0 330.5h.9M403.2 320.1h.9M409.6 330.8h.9M402.6 327.3h.9M408.3 324.9h.9M408.9 323.6h.9M408.2 323.6h.9M405.0 320.9h.9M405.5 324.2h.9M402.1 322.1h.9M404.2 329.2h.9M407.5 326.7h.9M410.8 326.9h.9M412.2 329.2h.9M408.5 324.2h.9M406.2 324.2h.9M402.8 319.4h.9M407.3 320.0h.9M408.4 330.4h.9M406.1 321.4h.9M403.2 326.5h.9M405.3 323.1h.9M406.7 320.6h.9M401.7 325.8h.9M402.9 326.6h.9M403.8 324.8h.9M405.1 328.8h.9M404.6 324.8h.9M401.3 325.0h.9M405.1 325.5h.9M397.8 326.6h.9M406.0 325.5h.9M407.2 327.9h.9M401.9 322.8h.9M406.6 319.5h.9M414.3 317.8h.9M407.8 322.9h.9M408.2 329.5h.9M413.0 322.1h.9M405.9 322.0h.9M400.4 324.9h.9M403.3 320.4h.9M404.4 322.5h.9M401.3 325.2h.9M407.8 325.8h.9M403.0 321.5h.9M396.8 326.8h.9M409.5 321.6h.9M400.4 320.5h.9M411.1 323.9h.9M404.0 324.7h.9M405.7 323.5h.9M405.0 326.7h.9M409.4 320.8h.9M405.2 324.3h.9M406.4 332.4h.9M408.3 327.0h.9M405.3 326.3h.9M410.4 328.6h.9M402.5 325.1h.9M407.1 321.0h.9M404.4 323.0h.9M409.1 324.7h.9M413.4 326.3h.9M404.0 325.4h.9M406.1 321.9h.9M407.1 319.9h.9M406.4 323.0h.9M406.1 322.2h.9M412.4 322.3h.9M408.8 324.7h.9M410.2 322.3h.9M400.8 326.8h.9M409.7 326.7h.9M390.8 330.1h.9M411.4 324.6h.9M402.2 326.2h.9M399.0 323.5h.9M408.1 329.1h.9M404.1 323.8h.9M400.4 324.1h.9M403.0 324.6h.9M402.8 326.0h.9M405.3 322.3h.9M407.9 326.3h.9M404.7 323.9h.9M408.9 326.2h.9M405.1 331.0h.9M403.8 320.3h.9M403.2 325.2h.9M398.9 330.7h.9M409.2 321.4h.9M407.1 320.4h.9M405.6 323.8h.9M411.7 318.4h.9M403.7 318.3h.9M403.8 323.5h.9M405.7 327.9h.9M402.2 322.7h.9M411.4 324.6h.9M401.9 324.6h.9M401.4 321.7h.9M403.6 319.6h.9M412.6 323.2h.9M406.6 323.7h.9M405.3 321.9h.9M407.3 323.1h.9M402.4 327.5h.9M411.5 326.0h.9M407.7 323.5h.9M406.1 326.9h.9M405.8 328.9h.9M411.2 325.3h.9M406.5 321.8h.9M404.0 322.4h.9M404.3 321.6h.9M407.1 325.6h.9M405.1 329.8h.9M406.7 324.3h.9M406.4 322.6h.9M408.6 321.6h.9M405.5 331.0h.9M406.8 321.1h.9M401.3 328.2h.9M398.4 329.9h.9M410.8 323.0h.9M406.7 323.0h.9M402.0 325.9h.9M403.0 326.5h.9M406.9 322.5h.9M406.0 324.7h.9M405.0 323.8h.9M410.4 322.1h.9M406.3 327.9h.9M407.2 323.2h.9M401.3 323.6h.9M398.1 323.1h.9M405.6 328.8h.9M408.1 327.9h.9M407.5 325.3h.9M399.5 322.7h.9M404.8 324.2h.9M400.9 319.5h.9M406.4 323.6h.9M405.7 323.8h.9M404.8 320.8h.9M409.0 325.8h.9M405.6 330.1h.9M402.9 327.2h.9M405.4 324.6h.9M409.0 324.5h.9M405.6 320.6h.9M406.8 325.8h.9M404.0 320.7h.9M409.4 325.0h.9M410.2 324.3h.9M415.6 320.6h.9M408.5 325.0h.9M406.6 323.8h.9M407.8 327.3h.9M406.0 321.2h.9M409.4 327.7h.9M401.2 325.3h.9M411.5 326.5h.9M403.7 325.4h.9M407.0 321.0h.9M404.6 323.5h.9M404.4 328.8h.9M398.8 321.3h.9M402.9 328.5h.9M405.3 323.7h.9M404.8 329.5h.9M413.2 325.3h.9M401.9 323.6h.9M399.0 327.5h.9M404.9 328.1h.9M403.4 322.1h.9M397.4 325.3h.9M409.8 317.6h.9M401.6 324.2h.9M409.7 330.5h.9M412.0 325.4h.9M400.1 321.9h.9M407.7 324.6h.9M402.6 324.2h.9M406.3 331.7h.9M404.4 326.4h.9M406.8 326.9h.9M403.0 329.3h.9M410.9 326.2h.9M401.5 321.1h.9M404.9 324.1h.9M402.3 324.1h.9M399.7 323.9h.9M400.5 325.4h.9M396.2 322.1h.9M404.0 319.9h.9M404.0 323.9h.9M410.7 326.7h.9M404.1 327.1h.9M405.4 327.1h.9M404.0 325.4h.9M404.4 327.5h.9M412.4 329.6h.9M411.1 324.0h.9M411.8 323.6h.9M405.6 321.7h.9M409.3 319.4h.9M405.3 326.7h.9M401.3 326.0h.9M401.5 323.5h.9M407.0 329.0h.9M413.7 321.3h.9M399.2 322.2h.9M406.5 324.2h.9M400.6 321.7h.9M406.5 324.6h.9M413.4 320.8h.9M403.5 335.6h.9M400.9 328.0h.9M403.6 324.9h.9M410.4 322.7h.9M404.7 324.6h.9M405.8 329.9h.9M411.2 322.4h.9M410.6 319.7h.9M403.0 322.2h.9M403.2 325.0h.9M406.7 321.6h.9M407.1 322.4h.9M407.7 325.4h.9M401.3 321.6h.9" stroke="#000" stroke-width=".9" fill="none"/>
<ellipse cx="437.0" cy="323.2" rx="10.56" ry="7.700000000000001" fill="url(#rgg)" transform="rotate(-30 437.0 323.2)"/>
<path d="M440.7 320.7h.9M437.5 321.6h.9M443.9 320.9h.9M434.5 325.4h.9M431.9 324.6h.9M433.8 321.1h.9M435.2 328.2h.9M433.0 324.6h.9M434.0 329.6h.9M434.3 327.5h.9M440.3 323.3h.9M431.3 318.1h.9M432.9 324.6h.9M429.2 323.3h.9M438.2 322.5h.9M441.8 322.1h.9M442.5 321.0h.9M436.6 324.1h.9M442.0 323.9h.9M438.7 320.4h.9M434.4 328.5h.9M439.5 317.9h.9M435.5 320.4h.9M440.7 329.0h.9M434.8 322.8h.9M436.0 322.1h.9M435.9 317.8h.9M438.7 319.3h.9M441.1 330.2h.9M442.2 320.9h.9M437.2 324.9h.9M446.1 330.6h.9M447.3 322.8h.9M436.1 329.2h.9M436.6 324.1h.9M434.9 323.0h.9M439.6 322.4h.9M439.1 320.0h.9M432.8 324.1h.9M436.5 324.9h.9M444.5 319.4h.9M440.1 330.9h.9M445.8 321.6h.9M438.0 315.9h.9M435.5 324.0h.9M433.8 317.7h.9M441.1 327.7h.9M443.0 320.8h.9M439.1 322.0h.9M429.3 329.7h.9M438.4 316.9h.9M447.6 320.0h.9M441.4 326.1h.9M433.0 325.2h.9M432.6 329.4h.9M442.7 328.6h.9M439.4 320.3h.9M428.3 327.0h.9M435.5 323.8h.9M434.4 323.5h.9M436.6 321.2h.9M433.3 324.5h.9M427.1 320.2h.9M435.1 320.5h.9M430.7 326.2h.9M439.1 326.8h.9M434.7 324.5h.9M435.1 321.9h.9M428.4 320.8h.9M427.7 324.4h.9M432.4 323.8h.9M429.9 328.3h.9M436.3 318.8h.9M433.3 323.6h.9M441.3 325.2h.9M440.4 323.8h.9M443.1 322.2h.9M438.7 324.3h.9M441.1 321.4h.9M440.1 319.3h.9M432.4 325.7h.9M442.5 327.8h.9M434.5 320.7h.9M428.2 324.8h.9M434.8 322.8h.9M438.3 322.5h.9M438.6 331.7h.9M434.2 323.8h.9M430.8 324.3h.9M435.1 317.6h.9M434.3 321.8h.9M438.2 324.7h.9M438.0 326.1h.9M435.3 325.4h.9M430.4 320.7h.9M432.2 324.8h.9M441.9 327.3h.9M439.6 324.0h.9M436.2 330.0h.9M434.1 324.3h.9M446.2 321.4h.9M444.7 316.4h.9M436.5 318.8h.9M437.4 320.5h.9M443.1 321.7h.9M429.4 326.1h.9M433.9 325.3h.9M439.1 317.4h.9M437.1 325.7h.9M432.5 324.1h.9M435.9 327.7h.9M438.1 318.2h.9M443.9 325.4h.9M436.1 324.9h.9M440.5 323.8h.9M446.0 318.4h.9M436.1 324.5h.9M433.5 318.2h.9M440.9 322.0h.9M432.1 322.7h.9M430.9 327.3h.9M438.4 323.0h.9M440.4 320.2h.9M432.4 326.1h.9M445.5 323.5h.9M440.0 328.6h.9M432.2 323.8h.9M438.8 329.9h.9M425.6 330.9h.9M435.7 320.5h.9M435.3 316.6h.9M436.3 319.9h.9M434.4 325.7h.9M435.6 322.0h.9M435.8 321.1h.9M442.7 321.1h.9M440.5 326.5h.9M442.0 314.5h.9M435.5 319.4h.9M438.6 320.0h.9M433.7 324.0h.9M440.0 317.7h.9M438.0 321.6h.9M435.8 324.3h.9M443.4 317.8h.9M438.4 323.8h.9M430.3 326.0h.9M439.7 323.0h.9M435.7 320.1h.9M436.4 325.7h.9M435.6 327.6h.9M441.2 326.8h.9M430.5 326.8h.9M428.7 323.6h.9M446.1 320.7h.9M436.7 319.3h.9M437.9 324.5h.9M439.0 314.3h.9M434.6 320.0h.9M448.4 322.7h.9M436.6 322.2h.9M445.6 324.5h.9M436.8 326.9h.9M438.6 323.1h.9M434.5 332.6h.9M434.8 320.3h.9M434.0 330.7h.9M439.7 325.3h.9M435.1 318.9h.9M434.8 321.4h.9M432.8 326.2h.9M434.6 325.8h.9M436.7 321.4h.9M432.9 324.5h.9M442.9 323.8h.9M440.4 317.9h.9M433.8 325.9h.9M437.9 325.1h.9M436.3 318.1h.9M440.4 327.0h.9M436.4 323.3h.9M434.6 318.5h.9M440.5 322.8h.9M439.5 319.6h.9M432.3 321.8h.9M436.3 323.4h.9M437.7 319.1h.9M432.0 321.6h.9M436.3 326.8h.9M440.5 321.2h.9M442.2 321.8h.9M436.2 326.1h.9M430.7 324.0h.9M437.8 322.7h.9M433.8 323.8h.9M431.3 323.4h.9M448.9 318.6h.9M442.8 324.4h.9M432.0 328.9h.9M431.6 320.8h.9M434.9 324.8h.9M443.1 323.8h.9M439.6 326.4h.9M428.6 327.5h.9M443.5 328.8h.9M426.3 319.7h.9M435.6 322.9h.9M438.7 321.3h.9M432.4 324.1h.9M442.2 329.7h.9M423.3 326.4h.9M435.3 322.3h.9M430.0 325.3h.9M434.8 324.9h.9M438.5 320.7h.9M438.1 319.6h.9M435.1 325.4h.9M436.4 326.1h.9M439.2 319.5h.9M446.6 320.2h.9M432.5 321.2h.9M436.3 323.6h.9M440.0 322.6h.9M437.0 317.4h.9M434.4 324.3h.9M439.8 321.0h.9M436.2 319.7h.9M441.7 320.7h.9M431.1 325.4h.9M436.1 324.2h.9M442.8 315.2h.9M440.2 316.5h.9M434.6 320.1h.9M438.5 326.5h.9M445.3 321.7h.9M437.7 325.9h.9M430.6 326.2h.9M430.5 318.7h.9M433.5 320.1h.9M440.2 317.8h.9M441.3 319.7h.9M442.2 322.5h.9M440.9 317.3h.9M432.0 326.7h.9M448.5 321.2h.9M439.0 326.1h.9M437.2 323.8h.9M442.5 321.2h.9M436.6 323.7h.9M443.8 324.1h.9M443.9 320.9h.9M434.4 328.0h.9M434.4 321.5h.9M435.3 321.3h.9M432.0 326.3h.9M434.7 327.8h.9M436.2 318.7h.9M439.4 323.3h.9M433.6 328.2h.9M434.9 323.2h.9M436.2 315.2h.9M436.0 326.4h.9M440.9 326.4h.9M439.4 322.0h.9M441.4 320.0h.9M435.8 313.8h.9M432.9 329.6h.9M442.2 322.1h.9M438.2 315.7h.9M436.5 318.2h.9M433.5 322.1h.9M440.0 318.3h.9M442.1 323.1h.9M439.1 323.5h.9M442.2 321.0h.9M440.8 322.9h.9M433.5 332.5h.9M439.0 321.7h.9M438.0 318.9h.9M434.3 320.1h.9M438.3 326.6h.9M430.0 323.2h.9M438.0 320.0h.9M446.1 314.5h.9M441.7 320.5h.9M440.6 325.1h.9M447.2 322.5h.9M439.6 321.2h.9M441.7 323.8h.9M435.3 320.7h.9M430.9 321.1h.9M440.3 325.5h.9M438.9 321.2h.9M433.3 327.0h.9M451.0 321.1h.9M439.2 327.5h.9M437.1 323.1h.9M435.2 319.0h.9M442.8 318.1h.9M438.0 323.6h.9M438.2 319.4h.9M433.8 323.9h.9M431.8 322.9h.9M439.6 320.5h.9M439.1 320.8h.9M437.4 320.4h.9M442.2 317.8h.9M442.0 327.3h.9M442.2 317.5h.9M434.8 325.5h.9M440.3 326.2h.9M436.3 325.8h.9M435.4 321.8h.9M445.5 324.0h.9M440.2 322.6h.9M438.7 329.2h.9M435.4 328.6h.9M435.6 326.4h.9M437.1 321.7h.9M436.7 324.3h.9M434.2 322.1h.9M441.4 317.6h.9M435.6 319.6h.9M431.2 324.5h.9M446.3 318.5h.9M441.6 323.8h.9M431.4 322.8h.9M438.5 326.3h.9M435.8 319.2h.9M434.0 318.6h.9M436.0 318.5h.9M430.2 319.9h.9M432.8 323.2h.9M439.8 319.9h.9M435.2 322.1h.9M436.7 321.8h.9M431.7 325.2h.9M436.7 316.9h.9M430.5 330.0h.9M435.0 321.0h.9M430.3 325.9h.9M440.3 318.8h.9M441.6 329.3h.9M439.6 321.1h.9M434.4 329.4h.9M440.5 319.8h.9M441.2 322.9h.9M445.2 322.0h.9M438.8 325.1h.9M434.5 320.5h.9M435.0 322.6h.9M442.1 320.5h.9M437.9 319.5h.9M439.2 319.7h.9M432.0 328.5h.9M440.4 326.7h.9M443.9 319.1h.9M428.0 319.9h.9M434.9 319.1h.9M443.4 321.5h.9M429.0 320.2h.9M445.0 322.8h.9M443.8 325.2h.9M438.0 319.8h.9M438.0 322.7h.9M434.4 324.2h.9M423.7 326.3h.9M432.2 317.0h.9M436.7 320.7h.9M449.5 321.5h.9M440.5 320.3h.9M427.0 324.4h.9M437.2 326.8h.9M428.1 327.5h.9M443.0 321.9h.9M432.6 325.0h.9M440.4 325.3h.9M434.7 323.4h.9M434.4 320.1h.9M435.7 326.6h.9" stroke="#00ff00" stroke-width=".9" fill="none"/>
<path d="M84.45 249.50C84.45 249.50 177.51 218.83 218.40 206.30C259.29 193.77 311.46 168.46 352.35 167.40C393.24 166.34 445.41 186.61 486.30 199.35C527.19 212.09 579.36 234.16 620.25 250.90C661.14 267.64 754.20 309.00 754.20 309.00" fill="none" stroke="#0000ff" stroke-width="2.6" clip-path="url(#ax)"/>
<circle cx="84.45" cy="249.50" r="6.45" fill="#fff" stroke="#0000ff" stroke-width="2.6"/>
<circle cx="218.40" cy="206.30" r="6.45" fill="#fff" stroke="#0000ff" stroke-width="2.6"/>
<circle cx="352.35" cy="167.40" r="6.45" fill="#fff" stroke="#0000ff" stroke-width="2.6"/>
<circle cx="486.30" cy="199.35" r="6.45" fill="#fff" stroke="#0000ff" stroke-width="2.6"/>
<circle cx="620.25" cy="250.90" r="6.45" fill="#fff" stroke="#0000ff" stroke-width="2.6"/>
<circle cx="754.20" cy="309.00" r="6.45" fill="#fff" stroke="#0000ff" stroke-width="2.6"/>
<path d="M84.45 253.60C84.45 253.60 177.51 218.37 218.40 206.40C259.29 194.43 311.46 174.31 352.35 175.20C393.24 176.09 445.41 199.23 486.30 212.20C527.19 225.17 579.36 244.27 620.25 260.20C661.14 276.13 754.20 316.60 754.20 316.60" fill="none" stroke="#00ff00" stroke-width="2.6" clip-path="url(#ax)"/>
<path d="M84.45 247.15L89.29 253.60L84.45 260.05L79.61 253.60Z" fill="#fff" stroke="#00ff00" stroke-width="2.6" stroke-linejoin="miter"/>
<path d="M218.40 199.95L223.24 206.40L218.40 212.85L213.56 206.40Z" fill="#fff" stroke="#00ff00" stroke-width="2.6" stroke-linejoin="miter"/>
<path d="M352.35 168.75L357.19 175.20L352.35 181.65L347.51 175.20Z" fill="#fff" stroke="#00ff00" stroke-width="2.6" stroke-linejoin="miter"/>
<path d="M486.30 205.75L491.14 212.20L486.30 218.65L481.46 212.20Z" fill="#fff" stroke="#00ff00" stroke-width="2.6" stroke-linejoin="miter"/>
<path d="M620.25 253.75L625.09 260.20L620.25 266.65L615.41 260.20Z" fill="#fff" stroke="#00ff00" stroke-width="2.6" stroke-linejoin="miter"/>
<path d="M754.20 310.15L759.04 316.60L754.20 323.05L749.36 316.60Z" fill="#fff" stroke="#00ff00" stroke-width="2.6" stroke-linejoin="miter"/>
<path d="M84.45 249.50C84.45 249.50 177.51 221.27 218.40 212.10C259.29 202.93 311.46 186.61 352.35 189.40C393.24 192.19 445.41 216.21 486.30 230.40C527.19 244.59 579.36 263.99 620.25 282.40C661.14 300.81 754.20 351.00 754.20 351.00" fill="none" stroke="#ff0000" stroke-width="2.6" clip-path="url(#ax)"/>
<path d="M84.45 243.05L90.04 252.72L78.86 252.72Z" fill="#fff" stroke="#ff0000" stroke-width="2.6" stroke-linejoin="miter"/>
<path d="M218.40 205.65L223.99 215.32L212.81 215.32Z" fill="#fff" stroke="#ff0000" stroke-width="2.6" stroke-linejoin="miter"/>
<path d="M352.35 182.95L357.94 192.62L346.76 192.62Z" fill="#fff" stroke="#ff0000" stroke-width="2.6" stroke-linejoin="miter"/>
<path d="M486.30 223.95L491.89 233.62L480.71 233.62Z" fill="#fff" stroke="#ff0000" stroke-width="2.6" stroke-linejoin="miter"/>
<path d="M620.25 275.95L625.84 285.62L614.66 285.62Z" fill="#fff" stroke="#ff0000" stroke-width="2.6" stroke-linejoin="miter"/>
<path d="M754.20 344.55L759.79 354.23L748.61 354.23Z" fill="#fff" stroke="#ff0000" stroke-width="2.6" stroke-linejoin="miter"/>
<path d="M84.45 378.90C84.45 378.90 177.51 361.98 218.40 362.80C259.29 363.62 311.46 375.41 352.35 384.25C393.24 393.09 445.41 408.56 486.30 420.70C527.19 432.84 579.36 446.97 620.25 463.80C661.14 480.63 754.20 531.00 754.20 531.00" fill="none" stroke="#0000ff" stroke-width="2.6" stroke-dasharray="9.7 9.7" clip-path="url(#ax)"/>
<circle cx="84.45" cy="378.90" r="6.45" fill="#fff" stroke="#0000ff" stroke-width="2.6"/>
<circle cx="218.40" cy="362.80" r="6.45" fill="#fff" stroke="#0000ff" stroke-width="2.6"/>
<circle cx="352.35" cy="384.25" r="6.45" fill="#fff" stroke="#0000ff" stroke-width="2.6"/>
<circle cx="486.30" cy="420.70" r="6.45" fill="#fff" stroke="#0000ff" stroke-width="2.6"/>
<circle cx="620.25" cy="463.80" r="6.45" fill="#fff" stroke="#0000ff" stroke-width="2.6"/>
<path d="M84.45 379.60C84.45 379.60 177.51 367.21 218.40 369.10C259.29 370.99 311.46 382.98 352.35 392.00C393.24 401.02 445.41 416.14 486.30 428.20C527.19 440.26 579.36 453.33 620.25 471.00C661.14 488.67 754.20 544.00 754.20 544.00" fill="none" stroke="#00ff00" stroke-width="2.6" stroke-dasharray="9.7 9.7" clip-path="url(#ax)"/>
<path d="M84.45 373.15L89.29 379.60L84.45 386.05L79.61 379.60Z" fill="#fff" stroke="#00ff00" stroke-width="2.6" stroke-linejoin="miter"/>
<path d="M218.40 362.65L223.24 369.10L218.40 375.55L213.56 369.10Z" fill="#fff" stroke="#00ff00" stroke-width="2.6" stroke-linejoin="miter"/>
<path d="M352.35 385.55L357.19 392.00L352.35 398.45L347.51 392.00Z" fill="#fff" stroke="#00ff00" stroke-width="2.6" stroke-linejoin="miter"/>
<path d="M486.30 421.75L491.14 428.20L486.30 434.65L481.46 428.20Z" fill="#fff" stroke="#00ff00" stroke-width="2.6" stroke-linejoin="miter"/>
<path d="M620.25 464.55L625.09 471.00L620.25 477.45L615.41 471.00Z" fill="#fff" stroke="#00ff00" stroke-width="2.6" stroke-linejoin="miter"/>
<path d="M84.45 384.30C84.45 384.30 177.51 375.95 218.40 379.00C259.29 382.05 311.46 394.33 352.35 404.30C393.24 414.27 445.41 429.31 486.30 444.30C527.19 459.29 579.36 483.93 620.25 502.50C661.14 521.07 754.20 566.00 754.20 566.00" fill="none" stroke="#ff0000" stroke-width="2.6" stroke-dasharray="9.7 9.7" clip-path="url(#ax)"/>
<path d="M84.45 377.85L90.04 387.53L78.86 387.53Z" fill="#fff" stroke="#ff0000" stroke-width="2.6" stroke-linejoin="miter"/>
<path d="M218.40 372.55L223.99 382.23L212.81 382.23Z" fill="#fff" stroke="#ff0000" stroke-width="2.6" stroke-linejoin="miter"/>
<path d="M352.35 397.85L357.94 407.53L346.76 407.53Z" fill="#fff" stroke="#ff0000" stroke-width="2.6" stroke-linejoin="miter"/>
<path d="M486.30 437.85L491.89 447.53L480.71 447.53Z" fill="#fff" stroke="#ff0000" stroke-width="2.6" stroke-linejoin="miter"/>
<path d="M620.25 496.05L625.84 505.73L614.66 505.73Z" fill="#fff" stroke="#ff0000" stroke-width="2.6" stroke-linejoin="miter"/>
<circle cx="352.35" cy="167.40" r="6.45" fill="#0000ff" stroke="#0000ff" stroke-width="2.6"/>
<path d="M352.35 182.95L357.94 192.62L346.76 192.62Z" fill="#ff0000" stroke="#ff0000" stroke-width="2.6" stroke-linejoin="miter"/>
<path d="M352.35 168.75L357.19 175.20L352.35 181.65L347.51 175.20Z" fill="#00ff00" stroke="#00ff00" stroke-width="2.6" stroke-linejoin="miter"/>
<circle cx="218.40" cy="362.80" r="6.45" fill="#0000ff" stroke="#0000ff" stroke-width="2.6"/>
<path d="M218.40 372.55L223.99 382.23L212.81 382.23Z" fill="#ff0000" stroke="#ff0000" stroke-width="2.6" stroke-linejoin="miter"/>
<path d="M218.40 362.65L223.24 369.10L218.40 375.55L213.56 369.10Z" fill="#00ff00" stroke="#00ff00" stroke-width="2.6" stroke-linejoin="miter"/>
<line x1="365.3" y1="165.29999999999998" x2="365.3" y2="190.4" stroke="#000" stroke-width="2.6"/><path d="M357.7 171.7C361.3 170.1 364.3 167.29999999999998 365.3 164.9C366.3 167.29999999999998 369.3 170.1 372.90000000000003 171.7" fill="none" stroke="#000" stroke-width="2.4" stroke-linecap="round" stroke-linejoin="round"/><path d="M357.7 184.0C361.3 185.6 364.3 188.4 365.3 190.79999999999998C366.3 188.4 369.3 185.6 372.90000000000003 184.0" fill="none" stroke="#000" stroke-width="2.4" stroke-linecap="round" stroke-linejoin="round"/>
<line x1="207.6" y1="357.5" x2="207.6" y2="379.5" stroke="#000" stroke-width="2.6"/><path d="M200.0 363.90000000000003C203.6 362.3 206.6 359.5 207.6 357.1C208.6 359.5 211.6 362.3 215.2 363.90000000000003" fill="none" stroke="#000" stroke-width="2.4" stroke-linecap="round" stroke-linejoin="round"/><path d="M200.0 373.09999999999997C203.6 374.7 206.6 377.5 207.6 379.9C208.6 377.5 211.6 374.7 215.2 373.09999999999997" fill="none" stroke="#000" stroke-width="2.4" stroke-linecap="round" stroke-linejoin="round"/>
<line x1="344.90" y1="165.70" x2="287.73" y2="228.96" stroke="#000" stroke-width="1.3" stroke-dasharray="9.7 11.3"/><path d="M344.70 165.92C343.11 166.78 340.14 166.79 337.42 166.22" fill="none" stroke="#000" stroke-width="1.3" stroke-linecap="round"/><path d="M344.70 165.92C344.00 167.59 344.30 170.55 345.14 173.19" fill="none" stroke="#000" stroke-width="1.3" stroke-linecap="round"/>
<line x1="354.30" y1="201.50" x2="385.00" y2="229.00" stroke="#000" stroke-width="1.3" stroke-dasharray="9.7 11.3"/><path d="M354.52 201.70C355.39 203.28 355.41 206.25 354.85 208.98" fill="none" stroke="#000" stroke-width="1.3" stroke-linecap="round"/><path d="M354.52 201.70C356.19 202.39 359.15 202.08 361.79 201.23" fill="none" stroke="#000" stroke-width="1.3" stroke-linecap="round"/>
<rect x="28.1" y="16.5" width="705.3" height="78.4" fill="#fff" stroke="#000" stroke-width="1.3"/>
<line x1="39.2" y1="39.55" x2="94.4" y2="39.55" stroke="#0000ff" stroke-width="2.6"/>
<circle cx="66.80" cy="39.55" r="6.45" fill="#fff" stroke="#0000ff" stroke-width="2.6"/>
<line x1="39.2" y1="72.8" x2="94.4" y2="72.8" stroke="#0000ff" stroke-width="2.6" stroke-dasharray="9.7 9.7"/>
<circle cx="66.80" cy="72.80" r="6.45" fill="#fff" stroke="#0000ff" stroke-width="2.6"/>
<line x1="263.0" y1="39.55" x2="318.2" y2="39.55" stroke="#00ff00" stroke-width="2.6"/>
<path d="M290.60 33.10L295.44 39.55L290.60 46.00L285.76 39.55Z" fill="#fff" stroke="#00ff00" stroke-width="2.6" stroke-linejoin="miter"/>
<line x1="263.0" y1="72.8" x2="318.2" y2="72.8" stroke="#00ff00" stroke-width="2.6" stroke-dasharray="9.7 9.7"/>
<path d="M290.60 66.35L295.44 72.80L290.60 79.25L285.76 72.80Z" fill="#fff" stroke="#00ff00" stroke-width="2.6" stroke-linejoin="miter"/>
<line x1="501.5" y1="39.55" x2="556.7" y2="39.55" stroke="#ff0000" stroke-width="2.6"/>
<path d="M529.10 33.10L534.69 42.77L523.51 42.77Z" fill="#fff" stroke="#ff0000" stroke-width="2.6" stroke-linejoin="miter"/>
<line x1="501.5" y1="72.8" x2="556.7" y2="72.8" stroke="#ff0000" stroke-width="2.6" stroke-dasharray="9.7 9.7"/>
<path d="M529.10 66.35L534.69 76.02L523.51 76.02Z" fill="#fff" stroke="#ff0000" stroke-width="2.6" stroke-linejoin="miter"/>
<text x="101.67" y="44.60" font-size="22.5" letter-spacing="-0.175">PW</text>
<text transform="translate(145.36,42.04) scale(0.871,0.810)" font-size="22.5">@</text>
<text x="325.01" y="44.60" font-size="22.5" letter-spacing="0.390">SVM</text>
<text transform="translate(384.35,42.04) scale(0.877,0.810)" font-size="22.5">@</text>
<text x="565.50" y="44.60" font-size="22.5" letter-spacing="-0.298">w/o</text>
<text transform="translate(607.64,42.04) scale(0.888,0.810)" font-size="22.5">@</text>
<text x="101.67" y="78.00" font-size="22.5" letter-spacing="-0.175">PW</text>
<text transform="translate(145.36,75.44) scale(0.871,0.810)" font-size="22.5">@</text>
<text x="325.01" y="78.00" font-size="22.5" letter-spacing="0.390">SVM</text>
<text transform="translate(384.35,75.44) scale(0.877,0.810)" font-size="22.5">@</text>
<text x="565.50" y="78.00" font-size="22.5" letter-spacing="-0.298">w/o</text>
<text transform="translate(607.64,75.44) scale(0.888,0.810)" font-size="22.5">@</text>
<text x="172.65" y="44.60" font-size="22.5" letter-spacing="0.230">800</text>
<text x="214.77" y="44.60" font-size="22.5" letter-spacing="-0.490">km</text>
<text x="411.44" y="44.60" font-size="22.5" letter-spacing="0.080">800</text>
<text x="453.17" y="44.60" font-size="22.5" letter-spacing="-0.490">km</text>
<text x="635.04" y="44.60" font-size="22.5" letter-spacing="0.130">800</text>
<text x="676.97" y="44.60" font-size="22.5" letter-spacing="-0.390">km</text>
<text x="173.04" y="78.00" font-size="22.5" letter-spacing="-0.129">1600</text>
<text x="225.87" y="78.00" font-size="22.5" letter-spacing="-0.890">km</text>
<text x="411.54" y="78.00" font-size="22.5" letter-spacing="-0.229">1600</text>
<text x="464.77" y="78.00" font-size="22.5" letter-spacing="-0.390">km</text>
<text x="634.64" y="78.00" font-size="22.5" letter-spacing="-0.196">1600</text>
<text x="688.67" y="78.00" font-size="22.5" letter-spacing="-0.390">km</text>
<text x="59.04" y="516.00" font-size="24.6" textLength="13.75" lengthAdjust="spacingAndGlyphs">6</text>
<text x="59.14" y="396.70" font-size="24.6" textLength="13.92" lengthAdjust="spacingAndGlyphs">8</text>
<text x="59.14" y="277.40" font-size="24.6" textLength="13.92" lengthAdjust="spacingAndGlyphs">0</text>
<text x="45.38" y="277.40" font-size="24.6" textLength="13.31" lengthAdjust="spacingAndGlyphs">1</text>
<text x="58.94" y="158.10" font-size="24.6" textLength="14.68" lengthAdjust="spacingAndGlyphs">2</text>
<text x="45.38" y="158.10" font-size="24.6" textLength="13.31" lengthAdjust="spacingAndGlyphs">1</text>
<line x1="69.2" y1="529.6" x2="86.0" y2="529.6" stroke="#000" stroke-width="1.25"/>
<text x="87.46" y="536.20" font-size="24.6" textLength="14.73" lengthAdjust="spacingAndGlyphs">3</text>
<line x1="203.2" y1="529.6" x2="220.0" y2="529.6" stroke="#000" stroke-width="1.25"/>
<text x="221.50" y="536.20" font-size="24.6" textLength="15.17" lengthAdjust="spacingAndGlyphs">2</text>
<line x1="337.1" y1="529.6" x2="353.9" y2="529.6" stroke="#000" stroke-width="1.25"/>
<text x="355.68" y="536.20" font-size="24.6" textLength="13.60" lengthAdjust="spacingAndGlyphs">1</text>
<text x="479.22" y="536.20" font-size="24.6" textLength="14.15" lengthAdjust="spacingAndGlyphs">0</text>
<text x="613.08" y="536.20" font-size="24.6" textLength="13.60" lengthAdjust="spacingAndGlyphs">1</text>
<text x="746.92" y="536.20" font-size="24.6" textLength="14.93" lengthAdjust="spacingAndGlyphs">2</text>
<text x="317.31" y="578.50" font-size="24.6" letter-spacing="0.476">Input</text>
<text x="381.01" y="578.50" font-size="24.6" letter-spacing="0.229">power</text>
<text x="453.94" y="578.50" font-size="24.6" letter-spacing="0.896">(dBm)</text>
<g transform="translate(29.2,0) rotate(-90)"><text x="-324.94" y="0.00" font-size="27.5" font-style="italic">Q</text></g>
<g transform="translate(29.2,0) rotate(-90)"><text x="-295.74" y="0.00" font-size="24.6" letter-spacing="0.594">factor</text></g>
<g transform="translate(29.2,0) rotate(-90)"><text x="-227.86" y="0.00" font-size="24.6" letter-spacing="0.841">(dB)</text></g>
</svg></body></html>
